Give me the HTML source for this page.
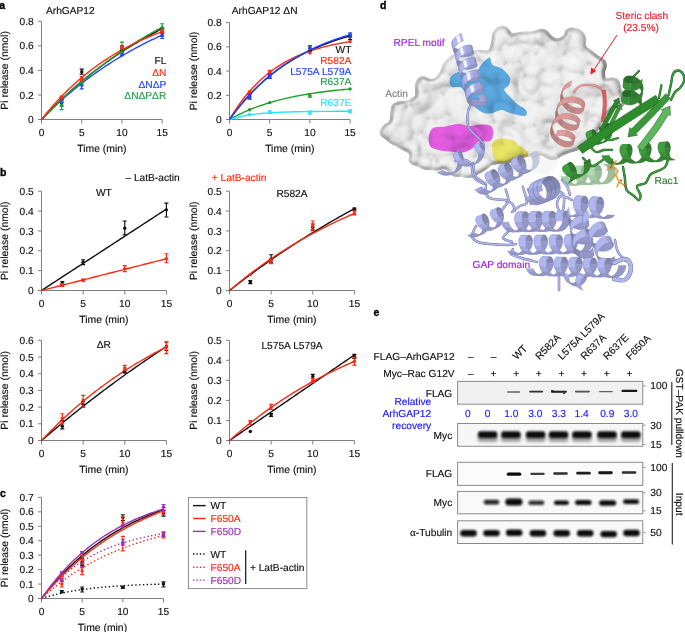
<!DOCTYPE html>
<html><head><meta charset="utf-8"><title>Figure</title>
<style>
html,body{margin:0;padding:0;background:#fff;}
body{width:685px;height:632px;overflow:hidden;}
svg{display:block;}
.t{font-family:"Liberation Sans", Arial, Helvetica, sans-serif;font-size:10.2px;fill:#111;stroke:#111;stroke-width:0.15px;text-rendering:geometricPrecision;}
.tl{font-size:10.4px;}
.pl{font-family:"Liberation Sans", Arial, Helvetica, sans-serif;font-size:10.5px;font-weight:bold;fill:#000;stroke:#000;stroke-width:0.35px;}
</style></head><body>
<svg width="685" height="632" viewBox="0 0 685 632">
<path d="M41.5,21.3 V119.5 H162.2" fill="none" stroke="#7f7f7f" stroke-width="1"/>
<line x1="38" y1="119.5" x2="41.5" y2="119.5" stroke="#7f7f7f" stroke-width="1"/>
<text x="33.7" y="123.1" text-anchor="end" class="t">0</text>
<line x1="38" y1="94.95" x2="41.5" y2="94.95" stroke="#7f7f7f" stroke-width="1"/>
<text x="33.7" y="98.55" text-anchor="end" class="t">0.2</text>
<line x1="38" y1="70.4" x2="41.5" y2="70.4" stroke="#7f7f7f" stroke-width="1"/>
<text x="33.7" y="74" text-anchor="end" class="t">0.4</text>
<line x1="38" y1="45.85" x2="41.5" y2="45.85" stroke="#7f7f7f" stroke-width="1"/>
<text x="33.7" y="49.45" text-anchor="end" class="t">0.6</text>
<line x1="38" y1="21.3" x2="41.5" y2="21.3" stroke="#7f7f7f" stroke-width="1"/>
<text x="33.7" y="24.9" text-anchor="end" class="t">0.8</text>
<line x1="41.5" y1="119.5" x2="41.5" y2="123.5" stroke="#7f7f7f" stroke-width="1"/>
<text x="41.5" y="135.7" text-anchor="middle" class="t">0</text>
<line x1="81.73" y1="119.5" x2="81.73" y2="123.5" stroke="#7f7f7f" stroke-width="1"/>
<text x="81.73" y="135.7" text-anchor="middle" class="t">5</text>
<line x1="121.97" y1="119.5" x2="121.97" y2="123.5" stroke="#7f7f7f" stroke-width="1"/>
<text x="121.97" y="135.7" text-anchor="middle" class="t">10</text>
<line x1="162.2" y1="119.5" x2="162.2" y2="123.5" stroke="#7f7f7f" stroke-width="1"/>
<text x="162.2" y="135.7" text-anchor="middle" class="t">15</text>
<text x="101.85" y="151.5" text-anchor="middle" class="t tl">Time (min)</text>
<text transform="translate(8.4,70.4) rotate(-90)" text-anchor="middle" class="t tl">Pi release (nmol)</text>
<path d="M41.5,119.5 L43.51,117.36 L45.52,115.25 L47.53,113.17 L49.55,111.11 L51.56,109.08 L53.57,107.07 L55.58,105.09 L57.59,103.13 L59.61,101.2 L61.62,99.29 L63.63,97.4 L65.64,95.54 L67.65,93.7 L69.66,91.89 L71.67,90.09 L73.69,88.32 L75.7,86.57 L77.71,84.84 L79.72,83.13 L81.73,81.45 L83.75,79.78 L85.76,78.14 L87.77,76.51 L89.78,74.91 L91.79,73.33 L93.8,71.76 L95.81,70.22 L97.83,68.69 L99.84,67.18 L101.85,65.69 L103.86,64.22 L105.87,62.77 L107.88,61.34 L109.9,59.92 L111.91,58.52 L113.92,57.14 L115.93,55.78 L117.94,54.43 L119.95,53.1 L121.97,51.79 L123.98,50.49 L125.99,49.21 L128,47.94 L130.01,46.69 L132.02,45.46 L134.04,44.24 L136.05,43.03 L138.06,41.84 L140.07,40.67 L142.08,39.51 L144.09,38.36 L146.11,37.23 L148.12,36.11 L150.13,35.01 L152.14,33.92 L154.15,32.84 L156.16,31.78 L158.18,30.73 L160.19,29.69 L162.2,28.66" fill="none" stroke="#111111" stroke-width="1.4"/>
<path d="M41.5,119.5 L43.51,117.44 L45.52,115.41 L47.53,113.41 L49.55,111.43 L51.56,109.49 L53.57,107.56 L55.58,105.67 L57.59,103.8 L59.61,101.96 L61.62,100.14 L63.63,98.35 L65.64,96.58 L67.65,94.84 L69.66,93.12 L71.67,91.42 L73.69,89.75 L75.7,88.1 L77.71,86.48 L79.72,84.87 L81.73,83.29 L83.75,81.73 L85.76,80.19 L87.77,78.67 L89.78,77.18 L91.79,75.7 L93.8,74.24 L95.81,72.81 L97.83,71.39 L99.84,69.99 L101.85,68.62 L103.86,67.26 L105.87,65.92 L107.88,64.6 L109.9,63.3 L111.91,62.01 L113.92,60.74 L115.93,59.49 L117.94,58.26 L119.95,57.04 L121.97,55.85 L123.98,54.66 L125.99,53.5 L128,52.35 L130.01,51.21 L132.02,50.09 L134.04,48.99 L136.05,47.9 L138.06,46.83 L140.07,45.77 L142.08,44.73 L144.09,43.7 L146.11,42.68 L148.12,41.68 L150.13,40.69 L152.14,39.72 L154.15,38.76 L156.16,37.81 L158.18,36.88 L160.19,35.96 L162.2,35.05" fill="none" stroke="#2244ff" stroke-width="1.4"/>
<path d="M41.5,119.5 L43.51,117.38 L45.52,115.29 L47.53,113.22 L49.55,111.17 L51.56,109.15 L53.57,107.15 L55.58,105.18 L57.59,103.22 L59.61,101.29 L61.62,99.38 L63.63,97.49 L65.64,95.63 L67.65,93.78 L69.66,91.96 L71.67,90.16 L73.69,88.37 L75.7,86.61 L77.71,84.87 L79.72,83.15 L81.73,81.45 L83.75,79.76 L85.76,78.1 L87.77,76.46 L89.78,74.83 L91.79,73.23 L93.8,71.64 L95.81,70.07 L97.83,68.51 L99.84,66.98 L101.85,65.46 L103.86,63.96 L105.87,62.48 L107.88,61.01 L109.9,59.57 L111.91,58.13 L113.92,56.72 L115.93,55.32 L117.94,53.93 L119.95,52.57 L121.97,51.21 L123.98,49.88 L125.99,48.56 L128,47.25 L130.01,45.96 L132.02,44.68 L134.04,43.42 L136.05,42.17 L138.06,40.94 L140.07,39.72 L142.08,38.51 L144.09,37.32 L146.11,36.14 L148.12,34.98 L150.13,33.83 L152.14,32.69 L154.15,31.56 L156.16,30.45 L158.18,29.35 L160.19,28.27 L162.2,27.19" fill="none" stroke="#1e9e28" stroke-width="1.4"/>
<path d="M41.5,119.5 L43.51,116.96 L45.52,114.47 L47.53,112.04 L49.55,109.65 L51.56,107.31 L53.57,105.02 L55.58,102.78 L57.59,100.59 L59.61,98.44 L61.62,96.33 L63.63,94.27 L65.64,92.25 L67.65,90.27 L69.66,88.33 L71.67,86.44 L73.69,84.58 L75.7,82.76 L77.71,80.97 L79.72,79.23 L81.73,77.52 L83.75,75.85 L85.76,74.21 L87.77,72.6 L89.78,71.03 L91.79,69.49 L93.8,67.98 L95.81,66.5 L97.83,65.05 L99.84,63.64 L101.85,62.25 L103.86,60.89 L105.87,59.56 L107.88,58.25 L109.9,56.98 L111.91,55.73 L113.92,54.5 L115.93,53.3 L117.94,52.13 L119.95,50.98 L121.97,49.85 L123.98,48.75 L125.99,47.66 L128,46.61 L130.01,45.57 L132.02,44.55 L134.04,43.56 L136.05,42.59 L138.06,41.63 L140.07,40.7 L142.08,39.78 L144.09,38.89 L146.11,38.01 L148.12,37.15 L150.13,36.31 L152.14,35.48 L154.15,34.68 L156.16,33.89 L158.18,33.11 L160.19,32.35 L162.2,31.61" fill="none" stroke="#ff2a14" stroke-width="1.4"/>
<path d="M61.62,99.86 V106 M59.62,99.86 h4 M59.62,106 h4" stroke="#111111" stroke-width="1.15" fill="none"/>
<circle cx="61.62" cy="102.93" r="1.7" fill="#111111"/>
<path d="M81.73,69.17 V74.08 M79.73,69.17 h4 M79.73,74.08 h4" stroke="#111111" stroke-width="1.15" fill="none"/>
<circle cx="81.73" cy="71.63" r="1.7" fill="#111111"/>
<path d="M121.97,45.85 V50.76 M119.97,45.85 h4 M119.97,50.76 h4" stroke="#111111" stroke-width="1.15" fill="none"/>
<circle cx="121.97" cy="48.31" r="1.7" fill="#111111"/>
<path d="M162.2,28.66 V36.03 M160.2,28.66 h4 M160.2,36.03 h4" stroke="#111111" stroke-width="1.15" fill="none"/>
<circle cx="162.2" cy="32.35" r="1.7" fill="#111111"/>
<path d="M61.62,97.41 V102.31 M59.62,97.41 h4 M59.62,102.31 h4" stroke="#2244ff" stroke-width="1.15" fill="none"/>
<circle cx="61.62" cy="99.86" r="1.7" fill="#2244ff"/>
<path d="M81.73,81.45 V88.81 M79.73,81.45 h4 M79.73,88.81 h4" stroke="#2244ff" stroke-width="1.15" fill="none"/>
<circle cx="81.73" cy="85.13" r="1.7" fill="#2244ff"/>
<path d="M121.97,51.99 V55.67 M119.97,51.99 h4 M119.97,55.67 h4" stroke="#2244ff" stroke-width="1.15" fill="none"/>
<circle cx="121.97" cy="53.83" r="1.7" fill="#2244ff"/>
<path d="M162.2,33.58 V38.48 M160.2,33.58 h4 M160.2,38.48 h4" stroke="#2244ff" stroke-width="1.15" fill="none"/>
<circle cx="162.2" cy="35.42" r="1.7" fill="#2244ff"/>
<path d="M61.62,101.09 V109.68 M59.62,101.09 h4 M59.62,109.68 h4" stroke="#1e9e28" stroke-width="1.15" fill="none"/>
<circle cx="61.62" cy="105.38" r="1.7" fill="#1e9e28"/>
<path d="M81.73,78.99 V83.9 M79.73,78.99 h4 M79.73,83.9 h4" stroke="#1e9e28" stroke-width="1.15" fill="none"/>
<circle cx="81.73" cy="81.45" r="1.7" fill="#1e9e28"/>
<path d="M121.97,42.17 V52.6 M119.97,42.17 h4 M119.97,52.6 h4" stroke="#1e9e28" stroke-width="1.15" fill="none"/>
<circle cx="121.97" cy="48.92" r="1.7" fill="#1e9e28"/>
<path d="M162.2,23.75 V31.12 M160.2,23.75 h4 M160.2,31.12 h4" stroke="#1e9e28" stroke-width="1.15" fill="none"/>
<circle cx="162.2" cy="27.44" r="1.7" fill="#1e9e28"/>
<path d="M61.62,96.18 V98.63 M59.62,96.18 h4 M59.62,98.63 h4" stroke="#ff2a14" stroke-width="1.15" fill="none"/>
<circle cx="61.62" cy="97.41" r="1.7" fill="#ff2a14"/>
<path d="M81.73,76.54 V80.22 M79.73,76.54 h4 M79.73,80.22 h4" stroke="#ff2a14" stroke-width="1.15" fill="none"/>
<circle cx="81.73" cy="78.38" r="1.7" fill="#ff2a14"/>
<path d="M121.97,45.85 V49.53 M119.97,45.85 h4 M119.97,49.53 h4" stroke="#ff2a14" stroke-width="1.15" fill="none"/>
<circle cx="121.97" cy="47.69" r="1.7" fill="#ff2a14"/>
<path d="M162.2,29.89 V32.35 M160.2,29.89 h4 M160.2,32.35 h4" stroke="#ff2a14" stroke-width="1.15" fill="none"/>
<circle cx="162.2" cy="31.12" r="1.7" fill="#ff2a14"/>
<path d="M229.5,22.6 V119.5 H350.1" fill="none" stroke="#7f7f7f" stroke-width="1"/>
<line x1="226" y1="119.5" x2="229.5" y2="119.5" stroke="#7f7f7f" stroke-width="1"/>
<text x="221.7" y="123.1" text-anchor="end" class="t">0</text>
<line x1="226" y1="95.28" x2="229.5" y2="95.28" stroke="#7f7f7f" stroke-width="1"/>
<text x="221.7" y="98.88" text-anchor="end" class="t">0.2</text>
<line x1="226" y1="71.05" x2="229.5" y2="71.05" stroke="#7f7f7f" stroke-width="1"/>
<text x="221.7" y="74.65" text-anchor="end" class="t">0.4</text>
<line x1="226" y1="46.83" x2="229.5" y2="46.83" stroke="#7f7f7f" stroke-width="1"/>
<text x="221.7" y="50.43" text-anchor="end" class="t">0.6</text>
<line x1="226" y1="22.6" x2="229.5" y2="22.6" stroke="#7f7f7f" stroke-width="1"/>
<text x="221.7" y="26.2" text-anchor="end" class="t">0.8</text>
<line x1="229.5" y1="119.5" x2="229.5" y2="123.5" stroke="#7f7f7f" stroke-width="1"/>
<text x="229.5" y="135.7" text-anchor="middle" class="t">0</text>
<line x1="269.7" y1="119.5" x2="269.7" y2="123.5" stroke="#7f7f7f" stroke-width="1"/>
<text x="269.7" y="135.7" text-anchor="middle" class="t">5</text>
<line x1="309.9" y1="119.5" x2="309.9" y2="123.5" stroke="#7f7f7f" stroke-width="1"/>
<text x="309.9" y="135.7" text-anchor="middle" class="t">10</text>
<line x1="350.1" y1="119.5" x2="350.1" y2="123.5" stroke="#7f7f7f" stroke-width="1"/>
<text x="350.1" y="135.7" text-anchor="middle" class="t">15</text>
<text x="289.8" y="151.5" text-anchor="middle" class="t tl">Time (min)</text>
<text transform="translate(196.6,71.05) rotate(-90)" text-anchor="middle" class="t tl">Pi release (nmol)</text>
<path d="M229.5,119.5 L231.51,116.71 L233.52,114 L235.53,111.35 L237.54,108.78 L239.55,106.28 L241.56,103.85 L243.57,101.48 L245.58,99.17 L247.59,96.93 L249.6,94.75 L251.61,92.62 L253.62,90.56 L255.63,88.54 L257.64,86.59 L259.65,84.68 L261.66,82.83 L263.67,81.02 L265.68,79.27 L267.69,77.56 L269.7,75.9 L271.71,74.28 L273.72,72.7 L275.73,71.17 L277.74,69.68 L279.75,68.23 L281.76,66.82 L283.77,65.44 L285.78,64.1 L287.79,62.8 L289.8,61.54 L291.81,60.3 L293.82,59.1 L295.83,57.94 L297.84,56.8 L299.85,55.7 L301.86,54.62 L303.87,53.57 L305.88,52.55 L307.89,51.56 L309.9,50.6 L311.91,49.66 L313.92,48.75 L315.93,47.86 L317.94,46.99 L319.95,46.15 L321.96,45.33 L323.97,44.53 L325.98,43.76 L327.99,43 L330,42.27 L332.01,41.55 L334.02,40.86 L336.03,40.18 L338.04,39.52 L340.05,38.88 L342.06,38.26 L344.07,37.65 L346.08,37.06 L348.09,36.48 L350.1,35.92" fill="none" stroke="#111111" stroke-width="1.4"/>
<path d="M229.5,119.5 L231.51,118.38 L233.52,117.3 L235.53,116.25 L237.54,115.23 L239.55,114.25 L241.56,113.29 L243.57,112.37 L245.58,111.47 L247.59,110.6 L249.6,109.76 L251.61,108.95 L253.62,108.16 L255.63,107.39 L257.64,106.65 L259.65,105.93 L261.66,105.24 L263.67,104.56 L265.68,103.91 L267.69,103.28 L269.7,102.66 L271.71,102.07 L273.72,101.49 L275.73,100.94 L277.74,100.4 L279.75,99.87 L281.76,99.37 L283.77,98.88 L285.78,98.4 L287.79,97.94 L289.8,97.49 L291.81,97.06 L293.82,96.64 L295.83,96.23 L297.84,95.84 L299.85,95.46 L301.86,95.09 L303.87,94.73 L305.88,94.39 L307.89,94.05 L309.9,93.72 L311.91,93.41 L313.92,93.1 L315.93,92.81 L317.94,92.52 L319.95,92.24 L321.96,91.97 L323.97,91.71 L325.98,91.46 L327.99,91.21 L330,90.98 L332.01,90.75 L334.02,90.53 L336.03,90.31 L338.04,90.1 L340.05,89.9 L342.06,89.7 L344.07,89.51 L346.08,89.33 L348.09,89.15 L350.1,88.98" fill="none" stroke="#1e9e28" stroke-width="1.4"/>
<path d="M229.5,119.5 L231.51,118.85 L233.52,118.26 L235.53,117.71 L237.54,117.2 L239.55,116.73 L241.56,116.3 L243.57,115.9 L245.58,115.54 L247.59,115.2 L249.6,114.89 L251.61,114.6 L253.62,114.34 L255.63,114.09 L257.64,113.87 L259.65,113.66 L261.66,113.47 L263.67,113.29 L265.68,113.13 L267.69,112.98 L269.7,112.84 L271.71,112.71 L273.72,112.59 L275.73,112.48 L277.74,112.38 L279.75,112.29 L281.76,112.21 L283.77,112.13 L285.78,112.06 L287.79,111.99 L289.8,111.93 L291.81,111.87 L293.82,111.82 L295.83,111.77 L297.84,111.73 L299.85,111.68 L301.86,111.65 L303.87,111.61 L305.88,111.58 L307.89,111.55 L309.9,111.52 L311.91,111.5 L313.92,111.47 L315.93,111.45 L317.94,111.43 L319.95,111.42 L321.96,111.4 L323.97,111.38 L325.98,111.37 L327.99,111.36 L330,111.34 L332.01,111.33 L334.02,111.32 L336.03,111.31 L338.04,111.3 L340.05,111.3 L342.06,111.29 L344.07,111.28 L346.08,111.27 L348.09,111.27 L350.1,111.26" fill="none" stroke="#22e6ff" stroke-width="1.4"/>
<path d="M229.5,119.5 L231.51,116.13 L233.52,112.9 L235.53,109.79 L237.54,106.8 L239.55,103.94 L241.56,101.18 L243.57,98.53 L245.58,95.99 L247.59,93.55 L249.6,91.2 L251.61,88.95 L253.62,86.78 L255.63,84.7 L257.64,82.7 L259.65,80.78 L261.66,78.94 L263.67,77.17 L265.68,75.47 L267.69,73.83 L269.7,72.26 L271.71,70.75 L273.72,69.3 L275.73,67.91 L277.74,66.57 L279.75,65.29 L281.76,64.05 L283.77,62.87 L285.78,61.73 L287.79,60.63 L289.8,59.58 L291.81,58.57 L293.82,57.6 L295.83,56.67 L297.84,55.78 L299.85,54.92 L301.86,54.09 L303.87,53.3 L305.88,52.53 L307.89,51.8 L309.9,51.1 L311.91,50.42 L313.92,49.77 L315.93,49.15 L317.94,48.55 L319.95,47.97 L321.96,47.42 L323.97,46.89 L325.98,46.38 L327.99,45.89 L330,45.42 L332.01,44.97 L334.02,44.53 L336.03,44.11 L338.04,43.71 L340.05,43.33 L342.06,42.96 L344.07,42.6 L346.08,42.26 L348.09,41.93 L350.1,41.62" fill="none" stroke="#ff2a14" stroke-width="1.4"/>
<path d="M229.5,119.5 L231.51,116.74 L233.52,114.04 L235.53,111.42 L237.54,108.87 L239.55,106.38 L241.56,103.95 L243.57,101.59 L245.58,99.29 L247.59,97.05 L249.6,94.86 L251.61,92.74 L253.62,90.66 L255.63,88.64 L257.64,86.68 L259.65,84.76 L261.66,82.89 L263.67,81.07 L265.68,79.3 L267.69,77.58 L269.7,75.9 L271.71,74.26 L273.72,72.66 L275.73,71.11 L277.74,69.59 L279.75,68.12 L281.76,66.68 L283.77,65.28 L285.78,63.91 L287.79,62.58 L289.8,61.29 L291.81,60.03 L293.82,58.8 L295.83,57.6 L297.84,56.43 L299.85,55.3 L301.86,54.19 L303.87,53.11 L305.88,52.06 L307.89,51.04 L309.9,50.04 L311.91,49.07 L313.92,48.12 L315.93,47.2 L317.94,46.3 L319.95,45.43 L321.96,44.58 L323.97,43.75 L325.98,42.94 L327.99,42.15 L330,41.38 L332.01,40.63 L334.02,39.9 L336.03,39.19 L338.04,38.5 L340.05,37.83 L342.06,37.17 L344.07,36.53 L346.08,35.91 L348.09,35.3 L350.1,34.71" fill="none" stroke="#2244ff" stroke-width="1.4"/>
<path d="M249.6,94.06 V98.91 M247.6,94.06 h4 M247.6,98.91 h4" stroke="#111111" stroke-width="1.15" fill="none"/>
<circle cx="249.6" cy="96.49" r="1.7" fill="#111111"/>
<path d="M269.7,73.47 V78.32 M267.7,73.47 h4 M267.7,78.32 h4" stroke="#111111" stroke-width="1.15" fill="none"/>
<circle cx="269.7" cy="75.9" r="1.7" fill="#111111"/>
<path d="M309.9,45.61 V50.46 M307.9,45.61 h4 M307.9,50.46 h4" stroke="#111111" stroke-width="1.15" fill="none"/>
<circle cx="309.9" cy="48.04" r="1.7" fill="#111111"/>
<path d="M350.1,34.71 V39.56 M348.1,34.71 h4 M348.1,39.56 h4" stroke="#111111" stroke-width="1.15" fill="none"/>
<circle cx="350.1" cy="36.53" r="1.7" fill="#111111"/>
<circle cx="249.6" cy="109.81" r="1.7" fill="#1e9e28"/>
<circle cx="269.7" cy="102.66" r="1.7" fill="#1e9e28"/>
<path d="M309.9,93.46 V97.09 M307.9,93.46 h4 M307.9,97.09 h4" stroke="#1e9e28" stroke-width="1.15" fill="none"/>
<circle cx="309.9" cy="95.52" r="1.7" fill="#1e9e28"/>
<circle cx="350.1" cy="88.98" r="1.7" fill="#1e9e28"/>
<circle cx="249.6" cy="114.53" r="1.7" fill="#22e6ff"/>
<path d="M269.7,110.78 V113.44 M267.7,110.78 h4 M267.7,113.44 h4" stroke="#22e6ff" stroke-width="1.15" fill="none"/>
<circle cx="269.7" cy="112.11" r="1.7" fill="#22e6ff"/>
<path d="M309.9,111.02 V114.05 M307.9,111.02 h4 M307.9,114.05 h4" stroke="#22e6ff" stroke-width="1.15" fill="none"/>
<circle cx="309.9" cy="112.6" r="1.7" fill="#22e6ff"/>
<path d="M350.1,109.81 V112.84 M348.1,109.81 h4 M348.1,112.84 h4" stroke="#22e6ff" stroke-width="1.15" fill="none"/>
<circle cx="350.1" cy="111.26" r="1.7" fill="#22e6ff"/>
<path d="M249.6,91.04 V94.06 M247.6,91.04 h4 M247.6,94.06 h4" stroke="#ff2a14" stroke-width="1.15" fill="none"/>
<circle cx="249.6" cy="92.37" r="1.7" fill="#ff2a14"/>
<path d="M269.7,70.44 V74.08 M267.7,70.44 h4 M267.7,74.08 h4" stroke="#ff2a14" stroke-width="1.15" fill="none"/>
<circle cx="269.7" cy="72.26" r="1.7" fill="#ff2a14"/>
<circle cx="309.9" cy="53" r="1.7" fill="#ff2a14"/>
<circle cx="350.1" cy="41.62" r="1.7" fill="#ff2a14"/>
<path d="M249.6,94.67 V98.91 M247.6,94.67 h4 M247.6,98.91 h4" stroke="#2244ff" stroke-width="1.15" fill="none"/>
<circle cx="249.6" cy="96.49" r="1.7" fill="#2244ff"/>
<path d="M269.7,74.68 V78.32 M267.7,74.68 h4 M267.7,78.32 h4" stroke="#2244ff" stroke-width="1.15" fill="none"/>
<circle cx="269.7" cy="76.5" r="1.7" fill="#2244ff"/>
<path d="M309.9,45.61 V51.67 M307.9,45.61 h4 M307.9,51.67 h4" stroke="#2244ff" stroke-width="1.15" fill="none"/>
<circle cx="309.9" cy="48.64" r="1.7" fill="#2244ff"/>
<path d="M350.1,32.9 V37.13 M348.1,32.9 h4 M348.1,37.13 h4" stroke="#2244ff" stroke-width="1.15" fill="none"/>
<circle cx="350.1" cy="34.71" r="1.7" fill="#2244ff"/>
<path d="M41.5,191.2 V290.5 H166.4" fill="none" stroke="#7f7f7f" stroke-width="1"/>
<line x1="38" y1="290.5" x2="41.5" y2="290.5" stroke="#7f7f7f" stroke-width="1"/>
<text x="33.7" y="294.1" text-anchor="end" class="t">0</text>
<line x1="38" y1="270.64" x2="41.5" y2="270.64" stroke="#7f7f7f" stroke-width="1"/>
<text x="33.7" y="274.24" text-anchor="end" class="t">0.1</text>
<line x1="38" y1="250.78" x2="41.5" y2="250.78" stroke="#7f7f7f" stroke-width="1"/>
<text x="33.7" y="254.38" text-anchor="end" class="t">0.2</text>
<line x1="38" y1="230.92" x2="41.5" y2="230.92" stroke="#7f7f7f" stroke-width="1"/>
<text x="33.7" y="234.52" text-anchor="end" class="t">0.3</text>
<line x1="38" y1="211.06" x2="41.5" y2="211.06" stroke="#7f7f7f" stroke-width="1"/>
<text x="33.7" y="214.66" text-anchor="end" class="t">0.4</text>
<line x1="38" y1="191.2" x2="41.5" y2="191.2" stroke="#7f7f7f" stroke-width="1"/>
<text x="33.7" y="194.8" text-anchor="end" class="t">0.5</text>
<line x1="41.5" y1="290.5" x2="41.5" y2="294.5" stroke="#7f7f7f" stroke-width="1"/>
<text x="41.5" y="306.7" text-anchor="middle" class="t">0</text>
<line x1="83.13" y1="290.5" x2="83.13" y2="294.5" stroke="#7f7f7f" stroke-width="1"/>
<text x="83.13" y="306.7" text-anchor="middle" class="t">5</text>
<line x1="124.77" y1="290.5" x2="124.77" y2="294.5" stroke="#7f7f7f" stroke-width="1"/>
<text x="124.77" y="306.7" text-anchor="middle" class="t">10</text>
<line x1="166.4" y1="290.5" x2="166.4" y2="294.5" stroke="#7f7f7f" stroke-width="1"/>
<text x="166.4" y="306.7" text-anchor="middle" class="t">15</text>
<text x="103.95" y="322.5" text-anchor="middle" class="t tl">Time (min)</text>
<text transform="translate(8.4,240.85) rotate(-90)" text-anchor="middle" class="t tl">Pi release (nmol)</text>
<path d="M41.5,290.5 L43.58,289.14 L45.66,287.79 L47.75,286.43 L49.83,285.07 L51.91,283.71 L53.99,282.36 L56.07,281 L58.15,279.64 L60.23,278.29 L62.32,276.93 L64.4,275.57 L66.48,274.21 L68.56,272.86 L70.64,271.5 L72.72,270.14 L74.81,268.79 L76.89,267.43 L78.97,266.07 L81.05,264.72 L83.13,263.36 L85.22,262 L87.3,260.64 L89.38,259.29 L91.46,257.93 L93.54,256.57 L95.62,255.22 L97.71,253.86 L99.79,252.5 L101.87,251.14 L103.95,249.79 L106.03,248.43 L108.11,247.07 L110.19,245.72 L112.28,244.36 L114.36,243 L116.44,241.64 L118.52,240.29 L120.6,238.93 L122.69,237.57 L124.77,236.22 L126.85,234.86 L128.93,233.5 L131.01,232.14 L133.09,230.79 L135.18,229.43 L137.26,228.07 L139.34,226.72 L141.42,225.36 L143.5,224 L145.58,222.64 L147.67,221.29 L149.75,219.93 L151.83,218.57 L153.91,217.22 L155.99,215.86 L158.07,214.5 L160.16,213.15 L162.24,211.79 L164.32,210.43 L166.4,209.07" fill="none" stroke="#111111" stroke-width="1.4"/>
<path d="M41.5,290.5 L43.58,289.97 L45.66,289.44 L47.75,288.91 L49.83,288.38 L51.91,287.85 L53.99,287.32 L56.07,286.79 L58.15,286.26 L60.23,285.73 L62.32,285.2 L64.4,284.67 L66.48,284.14 L68.56,283.62 L70.64,283.09 L72.72,282.56 L74.81,282.03 L76.89,281.5 L78.97,280.97 L81.05,280.44 L83.13,279.91 L85.22,279.38 L87.3,278.85 L89.38,278.32 L91.46,277.79 L93.54,277.26 L95.62,276.73 L97.71,276.2 L99.79,275.67 L101.87,275.14 L103.95,274.61 L106.03,274.08 L108.11,273.55 L110.19,273.02 L112.28,272.49 L114.36,271.96 L116.44,271.43 L118.52,270.9 L120.6,270.38 L122.69,269.85 L124.77,269.32 L126.85,268.79 L128.93,268.26 L131.01,267.73 L133.09,267.2 L135.18,266.67 L137.26,266.14 L139.34,265.61 L141.42,265.08 L143.5,264.55 L145.58,264.02 L147.67,263.49 L149.75,262.96 L151.83,262.43 L153.91,261.9 L155.99,261.37 L158.07,260.84 L160.16,260.31 L162.24,259.78 L164.32,259.25 L166.4,258.72" fill="none" stroke="#ff2a14" stroke-width="1.4"/>
<path d="M62.32,281.56 V284.54 M60.32,281.56 h4 M60.32,284.54 h4" stroke="#111111" stroke-width="1.15" fill="none"/>
<circle cx="62.32" cy="283.15" r="1.7" fill="#111111"/>
<path d="M83.13,259.72 V264.68 M81.13,259.72 h4 M81.13,264.68 h4" stroke="#111111" stroke-width="1.15" fill="none"/>
<circle cx="83.13" cy="262.3" r="1.7" fill="#111111"/>
<path d="M124.77,220.99 V234.89 M122.77,220.99 h4 M122.77,234.89 h4" stroke="#111111" stroke-width="1.15" fill="none"/>
<circle cx="124.77" cy="228.14" r="1.7" fill="#111111"/>
<path d="M166.4,203.12 V217.02 M164.4,203.12 h4 M164.4,217.02 h4" stroke="#111111" stroke-width="1.15" fill="none"/>
<circle cx="166.4" cy="209.87" r="1.7" fill="#111111"/>
<path d="M62.32,283.55 V286.53 M60.32,283.55 h4 M60.32,286.53 h4" stroke="#ff2a14" stroke-width="1.15" fill="none"/>
<circle cx="62.32" cy="284.94" r="1.7" fill="#ff2a14"/>
<path d="M83.13,279.18 V281.17 M81.13,279.18 h4 M81.13,281.17 h4" stroke="#ff2a14" stroke-width="1.15" fill="none"/>
<circle cx="83.13" cy="280.17" r="1.7" fill="#ff2a14"/>
<path d="M124.77,265.68 V271.63 M122.77,265.68 h4 M122.77,271.63 h4" stroke="#ff2a14" stroke-width="1.15" fill="none"/>
<circle cx="124.77" cy="268.65" r="1.7" fill="#ff2a14"/>
<path d="M166.4,253.76 V262.7 M164.4,253.76 h4 M164.4,262.7 h4" stroke="#ff2a14" stroke-width="1.15" fill="none"/>
<circle cx="166.4" cy="258.72" r="1.7" fill="#ff2a14"/>
<path d="M229.5,191.2 V290.5 H354.4" fill="none" stroke="#7f7f7f" stroke-width="1"/>
<line x1="226" y1="290.5" x2="229.5" y2="290.5" stroke="#7f7f7f" stroke-width="1"/>
<text x="221.7" y="294.1" text-anchor="end" class="t">0</text>
<line x1="226" y1="270.64" x2="229.5" y2="270.64" stroke="#7f7f7f" stroke-width="1"/>
<text x="221.7" y="274.24" text-anchor="end" class="t">0.1</text>
<line x1="226" y1="250.78" x2="229.5" y2="250.78" stroke="#7f7f7f" stroke-width="1"/>
<text x="221.7" y="254.38" text-anchor="end" class="t">0.2</text>
<line x1="226" y1="230.92" x2="229.5" y2="230.92" stroke="#7f7f7f" stroke-width="1"/>
<text x="221.7" y="234.52" text-anchor="end" class="t">0.3</text>
<line x1="226" y1="211.06" x2="229.5" y2="211.06" stroke="#7f7f7f" stroke-width="1"/>
<text x="221.7" y="214.66" text-anchor="end" class="t">0.4</text>
<line x1="226" y1="191.2" x2="229.5" y2="191.2" stroke="#7f7f7f" stroke-width="1"/>
<text x="221.7" y="194.8" text-anchor="end" class="t">0.5</text>
<line x1="229.5" y1="290.5" x2="229.5" y2="294.5" stroke="#7f7f7f" stroke-width="1"/>
<text x="229.5" y="306.7" text-anchor="middle" class="t">0</text>
<line x1="271.13" y1="290.5" x2="271.13" y2="294.5" stroke="#7f7f7f" stroke-width="1"/>
<text x="271.13" y="306.7" text-anchor="middle" class="t">5</text>
<line x1="312.77" y1="290.5" x2="312.77" y2="294.5" stroke="#7f7f7f" stroke-width="1"/>
<text x="312.77" y="306.7" text-anchor="middle" class="t">10</text>
<line x1="354.4" y1="290.5" x2="354.4" y2="294.5" stroke="#7f7f7f" stroke-width="1"/>
<text x="354.4" y="306.7" text-anchor="middle" class="t">15</text>
<text x="291.95" y="322.5" text-anchor="middle" class="t tl">Time (min)</text>
<text transform="translate(196.6,240.85) rotate(-90)" text-anchor="middle" class="t tl">Pi release (nmol)</text>
<path d="M229.5,290.5 L231.58,288.87 L233.66,287.24 L235.75,285.63 L237.83,284.03 L239.91,282.44 L241.99,280.85 L244.07,279.28 L246.15,277.72 L248.24,276.17 L250.32,274.62 L252.4,273.09 L254.48,271.57 L256.56,270.05 L258.64,268.55 L260.72,267.05 L262.81,265.57 L264.89,264.09 L266.97,262.62 L269.05,261.17 L271.13,259.72 L273.21,258.28 L275.3,256.85 L277.38,255.43 L279.46,254.01 L281.54,252.61 L283.62,251.22 L285.7,249.83 L287.79,248.45 L289.87,247.08 L291.95,245.72 L294.03,244.37 L296.11,243.03 L298.19,241.7 L300.28,240.37 L302.36,239.05 L304.44,237.74 L306.52,236.44 L308.6,235.15 L310.69,233.86 L312.77,232.59 L314.85,231.32 L316.93,230.06 L319.01,228.81 L321.09,227.56 L323.17,226.32 L325.26,225.09 L327.34,223.87 L329.42,222.66 L331.5,221.45 L333.58,220.25 L335.66,219.06 L337.75,217.88 L339.83,216.7 L341.91,215.54 L343.99,214.37 L346.07,213.22 L348.15,212.07 L350.24,210.93 L352.32,209.8 L354.4,208.68" fill="none" stroke="#111111" stroke-width="1.4"/>
<path d="M229.5,290.5 L231.58,288.73 L233.66,286.98 L235.75,285.25 L237.83,283.55 L239.91,281.86 L241.99,280.19 L244.07,278.54 L246.15,276.91 L248.24,275.29 L250.32,273.7 L252.4,272.12 L254.48,270.56 L256.56,269.02 L258.64,267.5 L260.72,266 L262.81,264.51 L264.89,263.04 L266.97,261.58 L269.05,260.14 L271.13,258.72 L273.21,257.32 L275.3,255.93 L277.38,254.56 L279.46,253.2 L281.54,251.86 L283.62,250.53 L285.7,249.22 L287.79,247.93 L289.87,246.65 L291.95,245.38 L294.03,244.13 L296.11,242.89 L298.19,241.67 L300.28,240.46 L302.36,239.26 L304.44,238.08 L306.52,236.91 L308.6,235.76 L310.69,234.62 L312.77,233.49 L314.85,232.37 L316.93,231.27 L319.01,230.18 L321.09,229.1 L323.17,228.04 L325.26,226.98 L327.34,225.94 L329.42,224.91 L331.5,223.89 L333.58,222.89 L335.66,221.89 L337.75,220.91 L339.83,219.94 L341.91,218.98 L343.99,218.03 L346.07,217.09 L348.15,216.16 L350.24,215.25 L352.32,214.34 L354.4,213.44" fill="none" stroke="#ff2a14" stroke-width="1.4"/>
<path d="M250.32,280.57 V283.55 M248.32,280.57 h4 M248.32,283.55 h4" stroke="#111111" stroke-width="1.15" fill="none"/>
<circle cx="250.32" cy="281.96" r="1.7" fill="#111111"/>
<path d="M271.13,254.75 V262.7 M269.13,254.75 h4 M269.13,262.7 h4" stroke="#111111" stroke-width="1.15" fill="none"/>
<circle cx="271.13" cy="259.32" r="1.7" fill="#111111"/>
<path d="M312.77,223.97 V229.93 M310.77,223.97 h4 M310.77,229.93 h4" stroke="#111111" stroke-width="1.15" fill="none"/>
<circle cx="312.77" cy="227.15" r="1.7" fill="#111111"/>
<path d="M354.4,208.08 V210.07 M352.4,208.08 h4 M352.4,210.07 h4" stroke="#111111" stroke-width="1.15" fill="none"/>
<circle cx="354.4" cy="209.07" r="1.7" fill="#111111"/>
<circle cx="250.32" cy="274.61" r="1.7" fill="#ff2a14"/>
<path d="M271.13,258.72 V263.69 M269.13,258.72 h4 M269.13,263.69 h4" stroke="#ff2a14" stroke-width="1.15" fill="none"/>
<circle cx="271.13" cy="260.71" r="1.7" fill="#ff2a14"/>
<path d="M312.77,220.99 V230.92 M310.77,220.99 h4 M310.77,230.92 h4" stroke="#ff2a14" stroke-width="1.15" fill="none"/>
<circle cx="312.77" cy="225.76" r="1.7" fill="#ff2a14"/>
<path d="M354.4,211.06 V215.03 M352.4,211.06 h4 M352.4,215.03 h4" stroke="#ff2a14" stroke-width="1.15" fill="none"/>
<circle cx="354.4" cy="213.44" r="1.7" fill="#ff2a14"/>
<path d="M41.5,340.3 V440.5 H166.4" fill="none" stroke="#7f7f7f" stroke-width="1"/>
<line x1="38" y1="440.5" x2="41.5" y2="440.5" stroke="#7f7f7f" stroke-width="1"/>
<text x="33.7" y="444.1" text-anchor="end" class="t">0</text>
<line x1="38" y1="423.8" x2="41.5" y2="423.8" stroke="#7f7f7f" stroke-width="1"/>
<text x="33.7" y="427.4" text-anchor="end" class="t">0.1</text>
<line x1="38" y1="407.1" x2="41.5" y2="407.1" stroke="#7f7f7f" stroke-width="1"/>
<text x="33.7" y="410.7" text-anchor="end" class="t">0.2</text>
<line x1="38" y1="390.4" x2="41.5" y2="390.4" stroke="#7f7f7f" stroke-width="1"/>
<text x="33.7" y="394" text-anchor="end" class="t">0.3</text>
<line x1="38" y1="373.7" x2="41.5" y2="373.7" stroke="#7f7f7f" stroke-width="1"/>
<text x="33.7" y="377.3" text-anchor="end" class="t">0.4</text>
<line x1="38" y1="357" x2="41.5" y2="357" stroke="#7f7f7f" stroke-width="1"/>
<text x="33.7" y="360.6" text-anchor="end" class="t">0.5</text>
<line x1="38" y1="340.3" x2="41.5" y2="340.3" stroke="#7f7f7f" stroke-width="1"/>
<text x="33.7" y="343.9" text-anchor="end" class="t">0.6</text>
<line x1="41.5" y1="440.5" x2="41.5" y2="444.5" stroke="#7f7f7f" stroke-width="1"/>
<text x="41.5" y="456.7" text-anchor="middle" class="t">0</text>
<line x1="83.13" y1="440.5" x2="83.13" y2="444.5" stroke="#7f7f7f" stroke-width="1"/>
<text x="83.13" y="456.7" text-anchor="middle" class="t">5</text>
<line x1="124.77" y1="440.5" x2="124.77" y2="444.5" stroke="#7f7f7f" stroke-width="1"/>
<text x="124.77" y="456.7" text-anchor="middle" class="t">10</text>
<line x1="166.4" y1="440.5" x2="166.4" y2="444.5" stroke="#7f7f7f" stroke-width="1"/>
<text x="166.4" y="456.7" text-anchor="middle" class="t">15</text>
<text x="103.95" y="472.5" text-anchor="middle" class="t tl">Time (min)</text>
<text transform="translate(8.4,390.4) rotate(-90)" text-anchor="middle" class="t tl">Pi release (nmol)</text>
<path d="M41.5,440.5 L43.58,438.71 L45.66,436.93 L47.75,435.16 L49.83,433.4 L51.91,431.65 L53.99,429.9 L56.07,428.16 L58.15,426.43 L60.23,424.71 L62.32,422.99 L64.4,421.29 L66.48,419.59 L68.56,417.89 L70.64,416.21 L72.72,414.53 L74.81,412.86 L76.89,411.2 L78.97,409.55 L81.05,407.9 L83.13,406.26 L85.22,404.63 L87.3,403.01 L89.38,401.39 L91.46,399.78 L93.54,398.18 L95.62,396.59 L97.71,395 L99.79,393.42 L101.87,391.85 L103.95,390.28 L106.03,388.72 L108.11,387.17 L110.19,385.63 L112.28,384.09 L114.36,382.56 L116.44,381.04 L118.52,379.52 L120.6,378.01 L122.69,376.51 L124.77,375.01 L126.85,373.52 L128.93,372.04 L131.01,370.56 L133.09,369.09 L135.18,367.63 L137.26,366.18 L139.34,364.73 L141.42,363.29 L143.5,361.85 L145.58,360.42 L147.67,359 L149.75,357.58 L151.83,356.17 L153.91,354.77 L155.99,353.37 L158.07,351.98 L160.16,350.59 L162.24,349.22 L164.32,347.84 L166.4,346.48" fill="none" stroke="#111111" stroke-width="1.4"/>
<path d="M41.5,440.5 L43.58,438.29 L45.66,436.12 L47.75,433.97 L49.83,431.84 L51.91,429.75 L53.99,427.68 L56.07,425.63 L58.15,423.61 L60.23,421.62 L62.32,419.65 L64.4,417.7 L66.48,415.78 L68.56,413.88 L70.64,412.01 L72.72,410.16 L74.81,408.34 L76.89,406.53 L78.97,404.75 L81.05,402.99 L83.13,401.25 L85.22,399.54 L87.3,397.85 L89.38,396.17 L91.46,394.52 L93.54,392.89 L95.62,391.28 L97.71,389.69 L99.79,388.12 L101.87,386.57 L103.95,385.03 L106.03,383.52 L108.11,382.03 L110.19,380.55 L112.28,379.09 L114.36,377.66 L116.44,376.24 L118.52,374.83 L120.6,373.45 L122.69,372.08 L124.77,370.73 L126.85,369.39 L128.93,368.08 L131.01,366.77 L133.09,365.49 L135.18,364.22 L137.26,362.97 L139.34,361.73 L141.42,360.51 L143.5,359.3 L145.58,358.11 L147.67,356.93 L149.75,355.77 L151.83,354.62 L153.91,353.49 L155.99,352.37 L158.07,351.26 L160.16,350.17 L162.24,349.1 L164.32,348.03 L166.4,346.98" fill="none" stroke="#ff2a14" stroke-width="1.4"/>
<path d="M62.32,420.46 V428.81 M60.32,420.46 h4 M60.32,428.81 h4" stroke="#111111" stroke-width="1.15" fill="none"/>
<circle cx="62.32" cy="426.31" r="1.7" fill="#111111"/>
<path d="M83.13,401.25 V407.1 M81.13,401.25 h4 M81.13,407.1 h4" stroke="#111111" stroke-width="1.15" fill="none"/>
<circle cx="83.13" cy="404.26" r="1.7" fill="#111111"/>
<path d="M124.77,370.36 V372.87 M122.77,370.36 h4 M122.77,372.87 h4" stroke="#111111" stroke-width="1.15" fill="none"/>
<circle cx="124.77" cy="371.7" r="1.7" fill="#111111"/>
<path d="M166.4,341.97 V350.32 M164.4,341.97 h4 M164.4,350.32 h4" stroke="#111111" stroke-width="1.15" fill="none"/>
<circle cx="166.4" cy="346.48" r="1.7" fill="#111111"/>
<path d="M62.32,413.78 V423.8 M60.32,413.78 h4 M60.32,423.8 h4" stroke="#ff2a14" stroke-width="1.15" fill="none"/>
<circle cx="62.32" cy="418.29" r="1.7" fill="#ff2a14"/>
<path d="M83.13,395.41 V407.1 M81.13,395.41 h4 M81.13,407.1 h4" stroke="#ff2a14" stroke-width="1.15" fill="none"/>
<circle cx="83.13" cy="400.09" r="1.7" fill="#ff2a14"/>
<path d="M124.77,365.35 V370.36 M122.77,365.35 h4 M122.77,370.36 h4" stroke="#ff2a14" stroke-width="1.15" fill="none"/>
<circle cx="124.77" cy="368.02" r="1.7" fill="#ff2a14"/>
<path d="M166.4,341.97 V353.66 M164.4,341.97 h4 M164.4,353.66 h4" stroke="#ff2a14" stroke-width="1.15" fill="none"/>
<circle cx="166.4" cy="346.98" r="1.7" fill="#ff2a14"/>
<path d="M229.5,340.3 V440.5 H354.4" fill="none" stroke="#7f7f7f" stroke-width="1"/>
<line x1="226" y1="440.5" x2="229.5" y2="440.5" stroke="#7f7f7f" stroke-width="1"/>
<text x="221.7" y="444.1" text-anchor="end" class="t">0</text>
<line x1="226" y1="420.46" x2="229.5" y2="420.46" stroke="#7f7f7f" stroke-width="1"/>
<text x="221.7" y="424.06" text-anchor="end" class="t">0.1</text>
<line x1="226" y1="400.42" x2="229.5" y2="400.42" stroke="#7f7f7f" stroke-width="1"/>
<text x="221.7" y="404.02" text-anchor="end" class="t">0.2</text>
<line x1="226" y1="380.38" x2="229.5" y2="380.38" stroke="#7f7f7f" stroke-width="1"/>
<text x="221.7" y="383.98" text-anchor="end" class="t">0.3</text>
<line x1="226" y1="360.34" x2="229.5" y2="360.34" stroke="#7f7f7f" stroke-width="1"/>
<text x="221.7" y="363.94" text-anchor="end" class="t">0.4</text>
<line x1="226" y1="340.3" x2="229.5" y2="340.3" stroke="#7f7f7f" stroke-width="1"/>
<text x="221.7" y="343.9" text-anchor="end" class="t">0.5</text>
<line x1="229.5" y1="440.5" x2="229.5" y2="444.5" stroke="#7f7f7f" stroke-width="1"/>
<text x="229.5" y="456.7" text-anchor="middle" class="t">0</text>
<line x1="271.13" y1="440.5" x2="271.13" y2="444.5" stroke="#7f7f7f" stroke-width="1"/>
<text x="271.13" y="456.7" text-anchor="middle" class="t">5</text>
<line x1="312.77" y1="440.5" x2="312.77" y2="444.5" stroke="#7f7f7f" stroke-width="1"/>
<text x="312.77" y="456.7" text-anchor="middle" class="t">10</text>
<line x1="354.4" y1="440.5" x2="354.4" y2="444.5" stroke="#7f7f7f" stroke-width="1"/>
<text x="354.4" y="456.7" text-anchor="middle" class="t">15</text>
<text x="291.95" y="472.5" text-anchor="middle" class="t tl">Time (min)</text>
<text transform="translate(196.6,390.4) rotate(-90)" text-anchor="middle" class="t tl">Pi release (nmol)</text>
<path d="M229.5,440.5 L231.58,439.07 L233.66,437.65 L235.75,436.22 L237.83,434.8 L239.91,433.37 L241.99,431.94 L244.07,430.52 L246.15,429.09 L248.24,427.66 L250.32,426.24 L252.4,424.81 L254.48,423.39 L256.56,421.96 L258.64,420.53 L260.72,419.11 L262.81,417.68 L264.89,416.25 L266.97,414.83 L269.05,413.4 L271.13,411.98 L273.21,410.55 L275.3,409.12 L277.38,407.7 L279.46,406.27 L281.54,404.85 L283.62,403.42 L285.7,401.99 L287.79,400.57 L289.87,399.14 L291.95,397.71 L294.03,396.29 L296.11,394.86 L298.19,393.44 L300.28,392.01 L302.36,390.58 L304.44,389.16 L306.52,387.73 L308.6,386.31 L310.69,384.88 L312.77,383.45 L314.85,382.03 L316.93,380.6 L319.01,379.17 L321.09,377.75 L323.17,376.32 L325.26,374.9 L327.34,373.47 L329.42,372.04 L331.5,370.62 L333.58,369.19 L335.66,367.76 L337.75,366.34 L339.83,364.91 L341.91,363.49 L343.99,362.06 L346.07,360.63 L348.15,359.21 L350.24,357.78 L352.32,356.36 L354.4,354.93" fill="none" stroke="#111111" stroke-width="1.4"/>
<path d="M229.5,440.5 L231.58,438.65 L233.66,436.82 L235.75,435.01 L237.83,433.22 L239.91,431.46 L241.99,429.71 L244.07,427.99 L246.15,426.29 L248.24,424.61 L250.32,422.95 L252.4,421.31 L254.48,419.69 L256.56,418.1 L258.64,416.52 L260.72,414.96 L262.81,413.41 L264.89,411.89 L266.97,410.39 L269.05,408.9 L271.13,407.43 L273.21,405.98 L275.3,404.55 L277.38,403.14 L279.46,401.74 L281.54,400.36 L283.62,399 L285.7,397.65 L287.79,396.32 L289.87,395.01 L291.95,393.71 L294.03,392.43 L296.11,391.16 L298.19,389.91 L300.28,388.67 L302.36,387.45 L304.44,386.25 L306.52,385.06 L308.6,383.88 L310.69,382.72 L312.77,381.57 L314.85,380.44 L316.93,379.32 L319.01,378.21 L321.09,377.12 L323.17,376.04 L325.26,374.97 L327.34,373.92 L329.42,372.88 L331.5,371.85 L333.58,370.84 L335.66,369.83 L337.75,368.84 L339.83,367.86 L341.91,366.9 L343.99,365.94 L346.07,365 L348.15,364.07 L350.24,363.15 L352.32,362.24 L354.4,361.34" fill="none" stroke="#ff2a14" stroke-width="1.4"/>
<circle cx="250.32" cy="431.48" r="1.7" fill="#111111"/>
<path d="M271.13,413.45 V416.45 M269.13,413.45 h4 M269.13,416.45 h4" stroke="#111111" stroke-width="1.15" fill="none"/>
<circle cx="271.13" cy="414.85" r="1.7" fill="#111111"/>
<path d="M312.77,374.37 V382.38 M310.77,374.37 h4 M310.77,382.38 h4" stroke="#111111" stroke-width="1.15" fill="none"/>
<circle cx="312.77" cy="376.57" r="1.7" fill="#111111"/>
<path d="M354.4,354.33 V358.34 M352.4,354.33 h4 M352.4,358.34 h4" stroke="#111111" stroke-width="1.15" fill="none"/>
<circle cx="354.4" cy="356.33" r="1.7" fill="#111111"/>
<path d="M250.32,420.46 V424.47 M248.32,420.46 h4 M248.32,424.47 h4" stroke="#ff2a14" stroke-width="1.15" fill="none"/>
<circle cx="250.32" cy="422.06" r="1.7" fill="#ff2a14"/>
<path d="M271.13,404.43 V409.44 M269.13,404.43 h4 M269.13,409.44 h4" stroke="#ff2a14" stroke-width="1.15" fill="none"/>
<circle cx="271.13" cy="406.83" r="1.7" fill="#ff2a14"/>
<path d="M312.77,378.38 V382.38 M310.77,378.38 h4 M310.77,382.38 h4" stroke="#ff2a14" stroke-width="1.15" fill="none"/>
<circle cx="312.77" cy="380.38" r="1.7" fill="#ff2a14"/>
<path d="M354.4,357.33 V365.35 M352.4,357.33 h4 M352.4,365.35 h4" stroke="#ff2a14" stroke-width="1.15" fill="none"/>
<circle cx="354.4" cy="361.34" r="1.7" fill="#ff2a14"/>
<path d="M41.5,497.4 V598.5 H163.5" fill="none" stroke="#7f7f7f" stroke-width="1"/>
<line x1="38" y1="598.5" x2="41.5" y2="598.5" stroke="#7f7f7f" stroke-width="1"/>
<text x="33.7" y="602.1" text-anchor="end" class="t">0</text>
<line x1="38" y1="584.06" x2="41.5" y2="584.06" stroke="#7f7f7f" stroke-width="1"/>
<text x="33.7" y="587.66" text-anchor="end" class="t">0.1</text>
<line x1="38" y1="569.61" x2="41.5" y2="569.61" stroke="#7f7f7f" stroke-width="1"/>
<text x="33.7" y="573.21" text-anchor="end" class="t">0.2</text>
<line x1="38" y1="555.17" x2="41.5" y2="555.17" stroke="#7f7f7f" stroke-width="1"/>
<text x="33.7" y="558.77" text-anchor="end" class="t">0.3</text>
<line x1="38" y1="540.73" x2="41.5" y2="540.73" stroke="#7f7f7f" stroke-width="1"/>
<text x="33.7" y="544.33" text-anchor="end" class="t">0.4</text>
<line x1="38" y1="526.29" x2="41.5" y2="526.29" stroke="#7f7f7f" stroke-width="1"/>
<text x="33.7" y="529.89" text-anchor="end" class="t">0.5</text>
<line x1="38" y1="511.84" x2="41.5" y2="511.84" stroke="#7f7f7f" stroke-width="1"/>
<text x="33.7" y="515.44" text-anchor="end" class="t">0.6</text>
<line x1="38" y1="497.4" x2="41.5" y2="497.4" stroke="#7f7f7f" stroke-width="1"/>
<text x="33.7" y="501" text-anchor="end" class="t">0.7</text>
<line x1="41.5" y1="598.5" x2="41.5" y2="602.5" stroke="#7f7f7f" stroke-width="1"/>
<text x="41.5" y="614.7" text-anchor="middle" class="t">0</text>
<line x1="82.17" y1="598.5" x2="82.17" y2="602.5" stroke="#7f7f7f" stroke-width="1"/>
<text x="82.17" y="614.7" text-anchor="middle" class="t">5</text>
<line x1="122.83" y1="598.5" x2="122.83" y2="602.5" stroke="#7f7f7f" stroke-width="1"/>
<text x="122.83" y="614.7" text-anchor="middle" class="t">10</text>
<line x1="163.5" y1="598.5" x2="163.5" y2="602.5" stroke="#7f7f7f" stroke-width="1"/>
<text x="163.5" y="614.7" text-anchor="middle" class="t">15</text>
<text x="102.5" y="630.5" text-anchor="middle" class="t tl">Time (min)</text>
<text transform="translate(8.4,547.95) rotate(-90)" text-anchor="middle" class="t tl">Pi release (nmol)</text>
<path d="M41.5,598.5 L43.53,597.85 L45.57,597.23 L47.6,596.63 L49.63,596.06 L51.67,595.51 L53.7,594.98 L55.73,594.48 L57.77,594 L59.8,593.53 L61.83,593.09 L63.87,592.66 L65.9,592.26 L67.93,591.86 L69.97,591.49 L72,591.13 L74.03,590.79 L76.07,590.46 L78.1,590.14 L80.13,589.84 L82.17,589.55 L84.2,589.27 L86.23,589 L88.27,588.74 L90.3,588.5 L92.33,588.26 L94.37,588.04 L96.4,587.82 L98.43,587.61 L100.47,587.41 L102.5,587.22 L104.53,587.04 L106.57,586.87 L108.6,586.7 L110.63,586.54 L112.67,586.38 L114.7,586.24 L116.73,586.1 L118.77,585.96 L120.8,585.83 L122.83,585.7 L124.87,585.59 L126.9,585.47 L128.93,585.36 L130.97,585.26 L133,585.15 L135.03,585.06 L137.07,584.96 L139.1,584.88 L141.13,584.79 L143.17,584.71 L145.2,584.63 L147.23,584.56 L149.27,584.48 L151.3,584.41 L153.33,584.35 L155.37,584.29 L157.4,584.22 L159.43,584.17 L161.47,584.11 L163.5,584.06" fill="none" stroke="#111111" stroke-width="1.4" stroke-dasharray="1.4 2.4"/>
<path d="M41.5,598.5 L43.53,596.63 L45.57,594.8 L47.6,593 L49.63,591.25 L51.67,589.54 L53.7,587.86 L55.73,586.22 L57.77,584.61 L59.8,583.04 L61.83,581.51 L63.87,580.01 L65.9,578.54 L67.93,577.1 L69.97,575.69 L72,574.32 L74.03,572.97 L76.07,571.66 L78.1,570.37 L80.13,569.11 L82.17,567.88 L84.2,566.68 L86.23,565.5 L88.27,564.35 L90.3,563.22 L92.33,562.12 L94.37,561.04 L96.4,559.98 L98.43,558.95 L100.47,557.94 L102.5,556.95 L104.53,555.99 L106.57,555.04 L108.6,554.12 L110.63,553.22 L112.67,552.33 L114.7,551.47 L116.73,550.62 L118.77,549.79 L120.8,548.98 L122.83,548.19 L124.87,547.42 L126.9,546.66 L128.93,545.92 L130.97,545.19 L133,544.48 L135.03,543.79 L137.07,543.11 L139.1,542.45 L141.13,541.8 L143.17,541.16 L145.2,540.54 L147.23,539.94 L149.27,539.34 L151.3,538.76 L153.33,538.19 L155.37,537.64 L157.4,537.09 L159.43,536.56 L161.47,536.04 L163.5,535.53" fill="none" stroke="#ff2a14" stroke-width="1.4" stroke-dasharray="1.4 2.4"/>
<path d="M41.5,598.5 L43.53,595.97 L45.57,593.52 L47.6,591.16 L49.63,588.88 L51.67,586.68 L53.7,584.55 L55.73,582.5 L57.77,580.51 L59.8,578.59 L61.83,576.74 L63.87,574.96 L65.9,573.23 L67.93,571.56 L69.97,569.95 L72,568.4 L74.03,566.89 L76.07,565.44 L78.1,564.04 L80.13,562.69 L82.17,561.38 L84.2,560.12 L86.23,558.9 L88.27,557.72 L90.3,556.59 L92.33,555.49 L94.37,554.43 L96.4,553.4 L98.43,552.41 L100.47,551.46 L102.5,550.54 L104.53,549.64 L106.57,548.78 L108.6,547.95 L110.63,547.15 L112.67,546.37 L114.7,545.62 L116.73,544.9 L118.77,544.2 L120.8,543.53 L122.83,542.88 L124.87,542.25 L126.9,541.64 L128.93,541.05 L130.97,540.49 L133,539.94 L135.03,539.41 L137.07,538.9 L139.1,538.41 L141.13,537.93 L143.17,537.47 L145.2,537.03 L147.23,536.6 L149.27,536.18 L151.3,535.78 L153.33,535.39 L155.37,535.02 L157.4,534.66 L159.43,534.31 L161.47,533.98 L163.5,533.65" fill="none" stroke="#9a2fb4" stroke-width="1.4" stroke-dasharray="1.4 2.4"/>
<path d="M41.5,598.5 L43.53,595.89 L45.57,593.33 L47.6,590.83 L49.63,588.38 L51.67,585.98 L53.7,583.64 L55.73,581.34 L57.77,579.09 L59.8,576.9 L61.83,574.75 L63.87,572.64 L65.9,570.58 L67.93,568.56 L69.97,566.59 L72,564.66 L74.03,562.77 L76.07,560.92 L78.1,559.11 L80.13,557.34 L82.17,555.6 L84.2,553.91 L86.23,552.25 L88.27,550.62 L90.3,549.03 L92.33,547.48 L94.37,545.95 L96.4,544.46 L98.43,543.01 L100.47,541.58 L102.5,540.18 L104.53,538.82 L106.57,537.48 L108.6,536.17 L110.63,534.89 L112.67,533.63 L114.7,532.41 L116.73,531.21 L118.77,530.03 L120.8,528.88 L122.83,527.76 L124.87,526.65 L126.9,525.58 L128.93,524.52 L130.97,523.49 L133,522.48 L135.03,521.49 L137.07,520.52 L139.1,519.58 L141.13,518.65 L143.17,517.74 L145.2,516.86 L147.23,515.99 L149.27,515.14 L151.3,514.31 L153.33,513.49 L155.37,512.7 L157.4,511.92 L159.43,511.15 L161.47,510.41 L163.5,509.68" fill="none" stroke="#111111" stroke-width="1.4"/>
<path d="M41.5,598.5 L43.53,596.05 L45.57,593.64 L47.6,591.29 L49.63,588.97 L51.67,586.71 L53.7,584.48 L55.73,582.3 L57.77,580.16 L59.8,578.06 L61.83,576 L63.87,573.99 L65.9,572.01 L67.93,570.06 L69.97,568.16 L72,566.29 L74.03,564.46 L76.07,562.67 L78.1,560.9 L80.13,559.18 L82.17,557.48 L84.2,555.82 L86.23,554.19 L88.27,552.59 L90.3,551.02 L92.33,549.49 L94.37,547.98 L96.4,546.5 L98.43,545.05 L100.47,543.63 L102.5,542.23 L104.53,540.87 L106.57,539.52 L108.6,538.21 L110.63,536.92 L112.67,535.65 L114.7,534.41 L116.73,533.19 L118.77,532 L120.8,530.83 L122.83,529.68 L124.87,528.55 L126.9,527.45 L128.93,526.36 L130.97,525.3 L133,524.26 L135.03,523.24 L137.07,522.23 L139.1,521.25 L141.13,520.29 L143.17,519.34 L145.2,518.41 L147.23,517.51 L149.27,516.61 L151.3,515.74 L153.33,514.88 L155.37,514.04 L157.4,513.21 L159.43,512.4 L161.47,511.61 L163.5,510.83" fill="none" stroke="#ff2a14" stroke-width="1.4"/>
<path d="M41.5,598.5 L43.53,595.61 L45.57,592.79 L47.6,590.05 L49.63,587.37 L51.67,584.76 L53.7,582.22 L55.73,579.74 L57.77,577.33 L59.8,574.98 L61.83,572.68 L63.87,570.45 L65.9,568.27 L67.93,566.15 L69.97,564.08 L72,562.06 L74.03,560.09 L76.07,558.18 L78.1,556.31 L80.13,554.49 L82.17,552.72 L84.2,550.99 L86.23,549.3 L88.27,547.66 L90.3,546.06 L92.33,544.5 L94.37,542.98 L96.4,541.5 L98.43,540.05 L100.47,538.65 L102.5,537.27 L104.53,535.94 L106.57,534.63 L108.6,533.36 L110.63,532.13 L112.67,530.92 L114.7,529.74 L116.73,528.6 L118.77,527.48 L120.8,526.39 L122.83,525.33 L124.87,524.3 L126.9,523.29 L128.93,522.31 L130.97,521.35 L133,520.42 L135.03,519.51 L137.07,518.62 L139.1,517.76 L141.13,516.92 L143.17,516.1 L145.2,515.3 L147.23,514.52 L149.27,513.76 L151.3,513.02 L153.33,512.3 L155.37,511.59 L157.4,510.91 L159.43,510.24 L161.47,509.59 L163.5,508.95" fill="none" stroke="#9a2fb4" stroke-width="1.4"/>
<path d="M61.83,590.56 V592.72 M59.83,590.56 h4 M59.83,592.72 h4" stroke="#111111" stroke-width="1.15" fill="none"/>
<circle cx="61.83" cy="591.71" r="1.7" fill="#111111"/>
<path d="M82.17,586.95 V592 M80.17,586.95 h4 M80.17,592 h4" stroke="#111111" stroke-width="1.15" fill="none"/>
<circle cx="82.17" cy="589.11" r="1.7" fill="#111111"/>
<path d="M122.83,586.22 V588.39 M120.83,586.22 h4 M120.83,588.39 h4" stroke="#111111" stroke-width="1.15" fill="none"/>
<circle cx="122.83" cy="587.23" r="1.7" fill="#111111"/>
<path d="M163.5,581.89 V586.95 M161.5,581.89 h4 M161.5,586.95 h4" stroke="#111111" stroke-width="1.15" fill="none"/>
<circle cx="163.5" cy="584.06" r="1.7" fill="#111111"/>
<path d="M61.83,581.17 V586.95 M59.83,581.17 h4 M59.83,586.95 h4" stroke="#ff2a14" stroke-width="1.15" fill="none"/>
<circle cx="61.83" cy="584.06" r="1.7" fill="#ff2a14"/>
<path d="M82.17,567.45 V574.67 M80.17,567.45 h4 M80.17,574.67 h4" stroke="#ff2a14" stroke-width="1.15" fill="none"/>
<circle cx="82.17" cy="571.06" r="1.7" fill="#ff2a14"/>
<path d="M122.83,536.4 V550.84 M120.83,536.4 h4 M120.83,550.84 h4" stroke="#ff2a14" stroke-width="1.15" fill="none"/>
<circle cx="122.83" cy="543.62" r="1.7" fill="#ff2a14"/>
<path d="M163.5,532.06 V537.84 M161.5,532.06 h4 M161.5,537.84 h4" stroke="#ff2a14" stroke-width="1.15" fill="none"/>
<circle cx="163.5" cy="534.95" r="1.7" fill="#ff2a14"/>
<path d="M61.83,578.28 V581.17 M59.83,578.28 h4 M59.83,581.17 h4" stroke="#9a2fb4" stroke-width="1.15" fill="none"/>
<circle cx="61.83" cy="579.72" r="1.7" fill="#9a2fb4"/>
<path d="M82.17,563.84 V566.73 M80.17,563.84 h4 M80.17,566.73 h4" stroke="#9a2fb4" stroke-width="1.15" fill="none"/>
<circle cx="82.17" cy="565.28" r="1.7" fill="#9a2fb4"/>
<path d="M122.83,539.28 V545.06 M120.83,539.28 h4 M120.83,545.06 h4" stroke="#9a2fb4" stroke-width="1.15" fill="none"/>
<circle cx="122.83" cy="542.32" r="1.7" fill="#9a2fb4"/>
<path d="M163.5,532.06 V536.4 M161.5,532.06 h4 M161.5,536.4 h4" stroke="#9a2fb4" stroke-width="1.15" fill="none"/>
<circle cx="163.5" cy="534.08" r="1.7" fill="#9a2fb4"/>
<path d="M82.17,558.06 V565.28 M80.17,558.06 h4 M80.17,565.28 h4" stroke="#111111" stroke-width="1.15" fill="none"/>
<circle cx="82.17" cy="561.67" r="1.7" fill="#111111"/>
<path d="M122.83,514.73 V520.51 M120.83,514.73 h4 M120.83,520.51 h4" stroke="#111111" stroke-width="1.15" fill="none"/>
<circle cx="122.83" cy="517.62" r="1.7" fill="#111111"/>
<path d="M163.5,510.4 V516.18 M161.5,510.4 h4 M161.5,516.18 h4" stroke="#111111" stroke-width="1.15" fill="none"/>
<circle cx="163.5" cy="513.29" r="1.7" fill="#111111"/>
<path d="M61.83,573.95 V576.84 M59.83,573.95 h4 M59.83,576.84 h4" stroke="#ff2a14" stroke-width="1.15" fill="none"/>
<circle cx="61.83" cy="575.39" r="1.7" fill="#ff2a14"/>
<path d="M82.17,555.17 V563.84 M80.17,555.17 h4 M80.17,563.84 h4" stroke="#ff2a14" stroke-width="1.15" fill="none"/>
<circle cx="82.17" cy="559.5" r="1.7" fill="#ff2a14"/>
<path d="M122.83,516.9 V527.73 M120.83,516.9 h4 M120.83,527.73 h4" stroke="#ff2a14" stroke-width="1.15" fill="none"/>
<circle cx="122.83" cy="522.39" r="1.7" fill="#ff2a14"/>
<path d="M163.5,507.51 V514.73 M161.5,507.51 h4 M161.5,514.73 h4" stroke="#ff2a14" stroke-width="1.15" fill="none"/>
<circle cx="163.5" cy="511.84" r="1.7" fill="#ff2a14"/>
<path d="M61.83,571.78 V573.95 M59.83,571.78 h4 M59.83,573.95 h4" stroke="#9a2fb4" stroke-width="1.15" fill="none"/>
<circle cx="61.83" cy="572.94" r="1.7" fill="#9a2fb4"/>
<path d="M82.17,551.56 V553.73 M80.17,551.56 h4 M80.17,553.73 h4" stroke="#9a2fb4" stroke-width="1.15" fill="none"/>
<circle cx="82.17" cy="552.72" r="1.7" fill="#9a2fb4"/>
<path d="M122.83,524.84 V527.01 M120.83,524.84 h4 M120.83,527.01 h4" stroke="#9a2fb4" stroke-width="1.15" fill="none"/>
<circle cx="122.83" cy="526" r="1.7" fill="#9a2fb4"/>
<path d="M163.5,504.62 V510.4 M161.5,504.62 h4 M161.5,510.4 h4" stroke="#9a2fb4" stroke-width="1.15" fill="none"/>
<circle cx="163.5" cy="507.08" r="1.7" fill="#9a2fb4"/>
<text x="-0.8" y="9.2" class="pl">a</text>
<text x="0" y="176.2" class="pl">b</text>
<text x="0" y="496.8" class="pl">c</text>
<text x="380" y="9.2" class="pl">d</text>
<text x="373.4" y="315.8" class="pl">e</text>
<text x="46" y="13.9" class="t">ArhGAP12</text>
<text x="231.8" y="13.9" class="t">ArhGAP12 ΔN</text>
<text x="166.3" y="64.1" text-anchor="end" class="t" style="fill:#111111;stroke:#111111">FL</text>
<text x="166.3" y="75.6" text-anchor="end" class="t" style="fill:#ff2a14;stroke:#ff2a14">ΔN</text>
<text x="166.3" y="87.9" text-anchor="end" class="t" style="fill:#2244ff;stroke:#2244ff">ΔNΔP</text>
<text x="166.3" y="99.2" text-anchor="end" class="t" style="fill:#2a9a4e;stroke:#2a9a4e">ΔNΔPΔR</text>
<text x="351.4" y="53.3" text-anchor="end" class="t" style="fill:#111111;stroke:#111111">WT</text>
<text x="351.4" y="64.1" text-anchor="end" class="t" style="fill:#ff2a14;stroke:#ff2a14">R582A</text>
<text x="351.4" y="75" text-anchor="end" class="t" style="fill:#2244ff;stroke:#2244ff">L575A L579A</text>
<text x="351.4" y="85.4" text-anchor="end" class="t" style="fill:#2a9a4e;stroke:#2a9a4e">R637A</text>
<text x="351.4" y="105.5" text-anchor="end" class="t" style="fill:#22e6ff;stroke:#22e6ff">R637E</text>
<text x="125.4" y="180.8" class="t">– LatB-actin</text>
<text x="211.8" y="180.6" class="t" style="fill:#ff2a14;stroke:#ff2a14">+ LatB-actin</text>
<text x="103.9" y="196.3" text-anchor="middle" class="t">WT</text>
<text x="292" y="197.2" text-anchor="middle" class="t">R582A</text>
<text x="103.9" y="348" text-anchor="middle" class="t">ΔR</text>
<text x="292" y="348.9" text-anchor="middle" class="t">L575A L579A</text>
<rect x="188.4" y="497.6" width="118.4" height="91" fill="none" stroke="#8c8c8c" stroke-width="1"/>
<line x1="193" y1="505.6" x2="205.6" y2="505.6" stroke="#111111" stroke-width="1.4"/>
<text x="210.5" y="509.2" class="t" style="fill:#111111;stroke:#111111">WT</text>
<line x1="193" y1="518.5" x2="205.6" y2="518.5" stroke="#ff2a14" stroke-width="1.4"/>
<text x="210.5" y="522.1" class="t" style="fill:#ff2a14;stroke:#ff2a14">F650A</text>
<line x1="193" y1="531.4" x2="205.6" y2="531.4" stroke="#9a2fb4" stroke-width="1.4"/>
<text x="210.5" y="535" class="t" style="fill:#9a2fb4;stroke:#9a2fb4">F650D</text>
<line x1="193" y1="554" x2="205.6" y2="554" stroke="#111111" stroke-width="1.4" stroke-dasharray="1.4 2.0"/>
<text x="210.5" y="557.6" class="t" style="fill:#111111;stroke:#111111">WT</text>
<line x1="193" y1="567.2" x2="205.6" y2="567.2" stroke="#ff2a14" stroke-width="1.4" stroke-dasharray="1.4 2.0"/>
<text x="210.5" y="570.8" class="t" style="fill:#ff2a14;stroke:#ff2a14">F650A</text>
<line x1="193" y1="580.1" x2="205.6" y2="580.1" stroke="#9a2fb4" stroke-width="1.4" stroke-dasharray="1.4 2.0"/>
<text x="210.5" y="583.7" class="t" style="fill:#9a2fb4;stroke:#9a2fb4">F650D</text>
<line x1="245.7" y1="550.3" x2="245.7" y2="584" stroke="#111" stroke-width="1.2"/>
<text x="249.9" y="570.5" class="t">+ LatB-actin</text>
<defs><filter id="b05" x="-20%" y="-100%" width="140%" height="300%"><feGaussianBlur stdDeviation="0.5"/></filter>
<filter id="b08" x="-20%" y="-100%" width="140%" height="300%"><feGaussianBlur stdDeviation="0.8"/></filter>
<filter id="b10" x="-20%" y="-100%" width="140%" height="300%"><feGaussianBlur stdDeviation="1.0"/></filter>
<filter id="b15" x="-20%" y="-100%" width="140%" height="300%"><feGaussianBlur stdDeviation="1.5"/></filter>
<filter id="sb" x="-10%" y="-10%" width="120%" height="120%"><feGaussianBlur stdDeviation="0.7"/></filter>
<radialGradient id="bump" cx="0.44" cy="0.42" r="0.6"><stop offset="0" stop-color="#fbfbfb"/><stop offset="0.55" stop-color="#f4f4f4"/><stop offset="0.78" stop-color="#e6e6e6"/><stop offset="0.92" stop-color="#d2d2d2"/><stop offset="1" stop-color="#d2d2d2" stop-opacity="0"/></radialGradient>
<radialGradient id="hb"><stop offset="0" stop-color="#000" stop-opacity="0.48"/><stop offset="0.6" stop-color="#000" stop-opacity="0.34"/><stop offset="1" stop-color="#000" stop-opacity="0"/></radialGradient>
<filter id="surf" x="-5%" y="-5%" width="110%" height="110%" color-interpolation-filters="sRGB"><feGaussianBlur in="SourceAlpha" stdDeviation="1.2" result="h"/><feDiffuseLighting in="h" surfaceScale="3.6" diffuseConstant="0.965" lighting-color="#fff" result="d"><feDistantLight azimuth="240" elevation="80"/></feDiffuseLighting><feComponentTransfer in="SourceAlpha" result="m"><feFuncA type="linear" slope="12" intercept="-0.6"/></feComponentTransfer><feGaussianBlur in="m" stdDeviation="0.5" result="m2"/><feComposite in="d" in2="m2" operator="in"/></filter>
<clipPath id="actclip"><path d="M380.5,133.5 C380.13,131.22 382.75,128.08 384.5,126 C386.25,123.92 389.7,124.23 391,121 C392.3,117.77 391.18,109.6 392.3,106.6 C393.42,103.6 394.98,103.9 397.7,103 C400.42,102.1 405.47,102.37 408.6,101.2 C411.73,100.03 415.28,98.42 416.5,96 C417.72,93.58 415.7,89.47 415.9,86.7 C416.1,83.93 416.52,80.92 417.7,79.4 C418.88,77.88 420.9,77.42 423,77.6 C425.1,77.78 427.87,80.5 430.3,80.5 C432.73,80.5 435.18,80.5 437.6,77.6 C440.02,74.7 442.4,66.72 444.8,63.1 C447.2,59.48 448.97,57.72 452,55.9 C455.03,54.08 458.77,53.12 463,52.2 C467.23,51.28 473.18,50.6 477.4,50.4 C481.62,50.2 485.78,52.32 488.3,51 C490.82,49.68 491.68,45.27 492.5,42.5 C493.32,39.73 492.4,36.78 493.2,34.4 C494,32.02 495.6,29.57 497.3,28.2 C499,26.83 501.53,25.85 503.4,26.2 C505.27,26.55 507.23,28.92 508.5,30.3 C509.77,31.68 509.47,34 511,34.5 C512.53,35 515.55,33.67 517.7,33.3 C519.85,32.93 521.52,32.47 523.9,32.3 C526.28,32.13 529.28,32.7 532,32.3 C534.72,31.9 537.82,30.07 540.2,29.9 C542.58,29.73 544.6,30.22 546.3,31.3 C548,32.38 548.68,34.95 550.4,36.4 C552.12,37.85 554.2,40 556.6,40 C559,40 563.1,38.02 564.8,36.4 C566.5,34.78 565.45,31.67 566.8,30.3 C568.15,28.93 570.52,28.03 572.9,28.2 C575.28,28.37 579.05,29.77 581.1,31.3 C583.15,32.83 584.52,34.85 585.2,37.4 C585.88,39.95 584.18,44.22 585.2,46.6 C586.22,48.98 589.25,49.98 591.3,51.7 C593.35,53.42 595.45,55.43 597.5,56.9 C599.55,58.37 602.27,58.98 603.6,60.5 C604.93,62.02 605.52,64.08 605.5,66 C605.48,67.92 603.67,69.67 603.5,72 C603.33,74.33 603.78,78.75 604.5,80 C605.22,81.25 605.98,79.67 607.8,79.5 C609.62,79.33 613.5,78.5 615.4,79 C617.3,79.5 618.35,80.8 619.2,82.5 C620.05,84.2 620.07,87.02 620.5,89.2 C620.93,91.38 621.22,93.38 621.8,95.6 C622.38,97.82 624.05,100.6 624,102.5 C623.95,104.4 622.73,106.42 621.5,107 C620.27,107.58 619.18,104.83 616.6,106 C614.02,107.17 608.77,110.67 606,114 C603.23,117.33 602.33,122 600,126 C597.67,130 595.33,134.33 592,138 C588.67,141.67 584.33,145.5 580,148 C575.67,150.5 570.5,151.17 566,153 C561.5,154.83 557.23,158.8 553,159 C548.77,159.2 545.6,154.53 540.6,154.2 C535.6,153.87 528.77,155.53 523,157 C517.23,158.47 510.83,161.92 506,163 C501.17,164.08 498.33,161.93 494,163.5 C489.67,165.07 484.25,170.15 480,172.4 C475.75,174.65 473.17,176.6 468.5,177 C463.83,177.4 455.92,176.3 452,174.8 C448.08,173.3 447.72,168.8 445,168 C442.28,167.2 439.58,170.03 435.7,170 C431.82,169.97 425.98,169.13 421.7,167.8 C417.42,166.47 411.95,164.35 410,162 C408.05,159.65 411.93,156.25 410,153.7 C408.07,151.15 402.28,149.03 398.4,146.7 C394.52,144.37 389.68,141.9 386.7,139.7 C383.72,137.5 380.87,135.78 380.5,133.5Z"/></clipPath>
<filter id="feath2" x="-5%" y="-5%" width="110%" height="110%"><feGaussianBlur stdDeviation="0.9"/></filter>
<filter id="feath" x="-5%" y="-5%" width="110%" height="110%"><feGaussianBlur stdDeviation="1.6"/></filter>
<filter id="mblur" x="-5%" y="-5%" width="110%" height="110%"><feGaussianBlur stdDeviation="2.5"/></filter><mask id="actmask" maskUnits="userSpaceOnUse" x="360" y="10" width="290" height="190"><path d="M380.5,133.5 C380.13,131.22 382.75,128.08 384.5,126 C386.25,123.92 389.7,124.23 391,121 C392.3,117.77 391.18,109.6 392.3,106.6 C393.42,103.6 394.98,103.9 397.7,103 C400.42,102.1 405.47,102.37 408.6,101.2 C411.73,100.03 415.28,98.42 416.5,96 C417.72,93.58 415.7,89.47 415.9,86.7 C416.1,83.93 416.52,80.92 417.7,79.4 C418.88,77.88 420.9,77.42 423,77.6 C425.1,77.78 427.87,80.5 430.3,80.5 C432.73,80.5 435.18,80.5 437.6,77.6 C440.02,74.7 442.4,66.72 444.8,63.1 C447.2,59.48 448.97,57.72 452,55.9 C455.03,54.08 458.77,53.12 463,52.2 C467.23,51.28 473.18,50.6 477.4,50.4 C481.62,50.2 485.78,52.32 488.3,51 C490.82,49.68 491.68,45.27 492.5,42.5 C493.32,39.73 492.4,36.78 493.2,34.4 C494,32.02 495.6,29.57 497.3,28.2 C499,26.83 501.53,25.85 503.4,26.2 C505.27,26.55 507.23,28.92 508.5,30.3 C509.77,31.68 509.47,34 511,34.5 C512.53,35 515.55,33.67 517.7,33.3 C519.85,32.93 521.52,32.47 523.9,32.3 C526.28,32.13 529.28,32.7 532,32.3 C534.72,31.9 537.82,30.07 540.2,29.9 C542.58,29.73 544.6,30.22 546.3,31.3 C548,32.38 548.68,34.95 550.4,36.4 C552.12,37.85 554.2,40 556.6,40 C559,40 563.1,38.02 564.8,36.4 C566.5,34.78 565.45,31.67 566.8,30.3 C568.15,28.93 570.52,28.03 572.9,28.2 C575.28,28.37 579.05,29.77 581.1,31.3 C583.15,32.83 584.52,34.85 585.2,37.4 C585.88,39.95 584.18,44.22 585.2,46.6 C586.22,48.98 589.25,49.98 591.3,51.7 C593.35,53.42 595.45,55.43 597.5,56.9 C599.55,58.37 602.27,58.98 603.6,60.5 C604.93,62.02 605.52,64.08 605.5,66 C605.48,67.92 603.67,69.67 603.5,72 C603.33,74.33 603.78,78.75 604.5,80 C605.22,81.25 605.98,79.67 607.8,79.5 C609.62,79.33 613.5,78.5 615.4,79 C617.3,79.5 618.35,80.8 619.2,82.5 C620.05,84.2 620.07,87.02 620.5,89.2 C620.93,91.38 621.22,93.38 621.8,95.6 C622.38,97.82 624.05,100.6 624,102.5 C623.95,104.4 622.73,106.42 621.5,107 C620.27,107.58 619.18,104.83 616.6,106 C614.02,107.17 608.77,110.67 606,114 C603.23,117.33 602.33,122 600,126 C597.67,130 595.33,134.33 592,138 C588.67,141.67 584.33,145.5 580,148 C575.67,150.5 570.5,151.17 566,153 C561.5,154.83 557.23,158.8 553,159 C548.77,159.2 545.6,154.53 540.6,154.2 C535.6,153.87 528.77,155.53 523,157 C517.23,158.47 510.83,161.92 506,163 C501.17,164.08 498.33,161.93 494,163.5 C489.67,165.07 484.25,170.15 480,172.4 C475.75,174.65 473.17,176.6 468.5,177 C463.83,177.4 455.92,176.3 452,174.8 C448.08,173.3 447.72,168.8 445,168 C442.28,167.2 439.58,170.03 435.7,170 C431.82,169.97 425.98,169.13 421.7,167.8 C417.42,166.47 411.95,164.35 410,162 C408.05,159.65 411.93,156.25 410,153.7 C408.07,151.15 402.28,149.03 398.4,146.7 C394.52,144.37 389.68,141.9 386.7,139.7 C383.72,137.5 380.87,135.78 380.5,133.5Z" fill="#fff" filter="url(#mblur)"/></mask>
<radialGradient id="lobe" cx="0.45" cy="0.4" r="0.62"><stop offset="0" stop-color="#ffffff"/><stop offset="0.6" stop-color="#fbfbfb"/><stop offset="0.88" stop-color="#ececec"/><stop offset="1" stop-color="#dddddd"/></radialGradient>
<filter id="crs" x="-5%" y="-5%" width="110%" height="110%"><feGaussianBlur stdDeviation="0.8"/></filter></defs>
<g filter="url(#surf)"><g filter="url(#feath)"><path d="M380.5,133.5 C380.13,131.22 382.75,128.08 384.5,126 C386.25,123.92 389.7,124.23 391,121 C392.3,117.77 391.18,109.6 392.3,106.6 C393.42,103.6 394.98,103.9 397.7,103 C400.42,102.1 405.47,102.37 408.6,101.2 C411.73,100.03 415.28,98.42 416.5,96 C417.72,93.58 415.7,89.47 415.9,86.7 C416.1,83.93 416.52,80.92 417.7,79.4 C418.88,77.88 420.9,77.42 423,77.6 C425.1,77.78 427.87,80.5 430.3,80.5 C432.73,80.5 435.18,80.5 437.6,77.6 C440.02,74.7 442.4,66.72 444.8,63.1 C447.2,59.48 448.97,57.72 452,55.9 C455.03,54.08 458.77,53.12 463,52.2 C467.23,51.28 473.18,50.6 477.4,50.4 C481.62,50.2 485.78,52.32 488.3,51 C490.82,49.68 491.68,45.27 492.5,42.5 C493.32,39.73 492.4,36.78 493.2,34.4 C494,32.02 495.6,29.57 497.3,28.2 C499,26.83 501.53,25.85 503.4,26.2 C505.27,26.55 507.23,28.92 508.5,30.3 C509.77,31.68 509.47,34 511,34.5 C512.53,35 515.55,33.67 517.7,33.3 C519.85,32.93 521.52,32.47 523.9,32.3 C526.28,32.13 529.28,32.7 532,32.3 C534.72,31.9 537.82,30.07 540.2,29.9 C542.58,29.73 544.6,30.22 546.3,31.3 C548,32.38 548.68,34.95 550.4,36.4 C552.12,37.85 554.2,40 556.6,40 C559,40 563.1,38.02 564.8,36.4 C566.5,34.78 565.45,31.67 566.8,30.3 C568.15,28.93 570.52,28.03 572.9,28.2 C575.28,28.37 579.05,29.77 581.1,31.3 C583.15,32.83 584.52,34.85 585.2,37.4 C585.88,39.95 584.18,44.22 585.2,46.6 C586.22,48.98 589.25,49.98 591.3,51.7 C593.35,53.42 595.45,55.43 597.5,56.9 C599.55,58.37 602.27,58.98 603.6,60.5 C604.93,62.02 605.52,64.08 605.5,66 C605.48,67.92 603.67,69.67 603.5,72 C603.33,74.33 603.78,78.75 604.5,80 C605.22,81.25 605.98,79.67 607.8,79.5 C609.62,79.33 613.5,78.5 615.4,79 C617.3,79.5 618.35,80.8 619.2,82.5 C620.05,84.2 620.07,87.02 620.5,89.2 C620.93,91.38 621.22,93.38 621.8,95.6 C622.38,97.82 624.05,100.6 624,102.5 C623.95,104.4 622.73,106.42 621.5,107 C620.27,107.58 619.18,104.83 616.6,106 C614.02,107.17 608.77,110.67 606,114 C603.23,117.33 602.33,122 600,126 C597.67,130 595.33,134.33 592,138 C588.67,141.67 584.33,145.5 580,148 C575.67,150.5 570.5,151.17 566,153 C561.5,154.83 557.23,158.8 553,159 C548.77,159.2 545.6,154.53 540.6,154.2 C535.6,153.87 528.77,155.53 523,157 C517.23,158.47 510.83,161.92 506,163 C501.17,164.08 498.33,161.93 494,163.5 C489.67,165.07 484.25,170.15 480,172.4 C475.75,174.65 473.17,176.6 468.5,177 C463.83,177.4 455.92,176.3 452,174.8 C448.08,173.3 447.72,168.8 445,168 C442.28,167.2 439.58,170.03 435.7,170 C431.82,169.97 425.98,169.13 421.7,167.8 C417.42,166.47 411.95,164.35 410,162 C408.05,159.65 411.93,156.25 410,153.7 C408.07,151.15 402.28,149.03 398.4,146.7 C394.52,144.37 389.68,141.9 386.7,139.7 C383.72,137.5 380.87,135.78 380.5,133.5Z" fill="#000" fill-opacity="0.2"/></g><g filter="url(#feath2)"><g fill="url(#hb)" clip-path="url(#actclip)">
<ellipse cx="419.95" cy="104.4" rx="13.97" ry="9.09" transform="rotate(144.31 419.95 104.4)"/>
<ellipse cx="443.44" cy="114.92" rx="16.89" ry="11.52" transform="rotate(95.54 443.44 114.92)"/>
<ellipse cx="482.03" cy="146.28" rx="12.11" ry="9.76" transform="rotate(123.34 482.03 146.28)"/>
<ellipse cx="500.15" cy="153.4" rx="20.11" ry="14.09" transform="rotate(171 500.15 153.4)"/>
<ellipse cx="482.45" cy="166.22" rx="8.01" ry="7.83" transform="rotate(115.09 482.45 166.22)"/>
<ellipse cx="427.3" cy="83.73" rx="11.03" ry="9.59" transform="rotate(163.02 427.3 83.73)"/>
<ellipse cx="528.93" cy="138.56" rx="13.08" ry="10.54" transform="rotate(9.08 528.93 138.56)"/>
<ellipse cx="571.37" cy="75.38" rx="21.88" ry="14.46" transform="rotate(62.73 571.37 75.38)"/>
<ellipse cx="453.52" cy="136.47" rx="15.4" ry="13.16" transform="rotate(25.73 453.52 136.47)"/>
<ellipse cx="584.16" cy="111.56" rx="13.36" ry="10.87" transform="rotate(152.15 584.16 111.56)"/>
<ellipse cx="569.19" cy="32.03" rx="7.37" ry="6.27" transform="rotate(43.74 569.19 32.03)"/>
<ellipse cx="499.52" cy="74.62" rx="22.3" ry="14.03" transform="rotate(81.45 499.52 74.62)"/>
<ellipse cx="403" cy="102.43" rx="7.8" ry="6.27" transform="rotate(124.82 403 102.43)"/>
<ellipse cx="517.19" cy="38.83" rx="7.63" ry="6.53" transform="rotate(80.54 517.19 38.83)"/>
<ellipse cx="521.83" cy="149.66" rx="9.67" ry="8.75" transform="rotate(123.33 521.83 149.66)"/>
<ellipse cx="495.32" cy="74.9" rx="13.91" ry="10.15" transform="rotate(166.55 495.32 74.9)"/>
<ellipse cx="577.14" cy="88.25" rx="21.97" ry="14.38" transform="rotate(125.06 577.14 88.25)"/>
<ellipse cx="584.65" cy="54.98" rx="10.87" ry="8.73" transform="rotate(44.91 584.65 54.98)"/>
<ellipse cx="449.09" cy="163.31" rx="9.16" ry="7.32" transform="rotate(15.08 449.09 163.31)"/>
<ellipse cx="529.86" cy="38.69" rx="8.21" ry="7.93" transform="rotate(75.74 529.86 38.69)"/>
<ellipse cx="492.23" cy="57.44" rx="11.13" ry="8.87" transform="rotate(0.1 492.23 57.44)"/>
<ellipse cx="400.92" cy="129.12" rx="16.96" ry="12.3" transform="rotate(67.17 400.92 129.12)"/>
<ellipse cx="495.64" cy="157.01" rx="8.78" ry="7.87" transform="rotate(104.88 495.64 157.01)"/>
<ellipse cx="507.8" cy="45.77" rx="16.33" ry="11.66" transform="rotate(82 507.8 45.77)"/>
<ellipse cx="549.69" cy="153.41" rx="9.33" ry="7.64" transform="rotate(162.04 549.69 153.41)"/>
<ellipse cx="597.65" cy="80.79" rx="8.74" ry="8.11" transform="rotate(148.27 597.65 80.79)"/>
<ellipse cx="583.27" cy="131.1" rx="19.01" ry="14.67" transform="rotate(170.85 583.27 131.1)"/>
<ellipse cx="579.11" cy="41.85" rx="10.17" ry="8.88" transform="rotate(103.42 579.11 41.85)"/>
<ellipse cx="598.28" cy="62.25" rx="8.47" ry="6.59" transform="rotate(158.79 598.28 62.25)"/>
<ellipse cx="551.49" cy="113.16" rx="16.01" ry="10.85" transform="rotate(3.44 551.49 113.16)"/>
<ellipse cx="567.67" cy="38.49" rx="14.36" ry="10.28" transform="rotate(14.71 567.67 38.49)"/>
<ellipse cx="458.74" cy="109.84" rx="20.92" ry="13.48" transform="rotate(76.98 458.74 109.84)"/>
<ellipse cx="595.19" cy="124.05" rx="6.14" ry="6.11" transform="rotate(163.84 595.19 124.05)"/>
<ellipse cx="535.43" cy="132.89" rx="21.55" ry="13.57" transform="rotate(4.11 535.43 132.89)"/>
<ellipse cx="548.75" cy="105.58" rx="18.44" ry="12.69" transform="rotate(70.83 548.75 105.58)"/>
<ellipse cx="440.57" cy="164.96" rx="8.32" ry="8.25" transform="rotate(108.23 440.57 164.96)"/>
<ellipse cx="552.17" cy="45.07" rx="8.16" ry="7.93" transform="rotate(178.07 552.17 45.07)"/>
<ellipse cx="574.77" cy="66" rx="20.93" ry="14.47" transform="rotate(140.04 574.77 66)"/>
<ellipse cx="595.8" cy="76.37" rx="14.54" ry="13" transform="rotate(77.56 595.8 76.37)"/>
<ellipse cx="494.27" cy="134.84" rx="11.72" ry="10.07" transform="rotate(62.23 494.27 134.84)"/>
<ellipse cx="471.19" cy="112.89" rx="21.1" ry="14.28" transform="rotate(169.97 471.19 112.89)"/>
<ellipse cx="418.7" cy="98.24" rx="12.99" ry="10.01" transform="rotate(110.01 418.7 98.24)"/>
<ellipse cx="498.88" cy="34.72" rx="9.73" ry="7.89" transform="rotate(48.56 498.88 34.72)"/>
<ellipse cx="560.88" cy="40.46" rx="7.15" ry="6.64" transform="rotate(139.08 560.88 40.46)"/>
<ellipse cx="545.65" cy="57.1" rx="13.12" ry="11.85" transform="rotate(1.94 545.65 57.1)"/>
<ellipse cx="523.19" cy="122.6" rx="15.06" ry="13.52" transform="rotate(44.81 523.19 122.6)"/>
<ellipse cx="411.33" cy="144.67" rx="10.2" ry="9.14" transform="rotate(40.91 411.33 144.67)"/>
<ellipse cx="576.08" cy="35.63" rx="8.67" ry="7.8" transform="rotate(81.58 576.08 35.63)"/>
<ellipse cx="542.75" cy="37.51" rx="9.18" ry="8.41" transform="rotate(159.28 542.75 37.51)"/>
<ellipse cx="442.45" cy="149.29" rx="15.61" ry="11.21" transform="rotate(178.05 442.45 149.29)"/>
<ellipse cx="456.44" cy="74.56" rx="16.44" ry="14.54" transform="rotate(179.7 456.44 74.56)"/>
<ellipse cx="513.11" cy="103.68" rx="19.85" ry="14.8" transform="rotate(179.12 513.11 103.68)"/>
<ellipse cx="537.78" cy="147.82" rx="9.94" ry="8.21" transform="rotate(142.79 537.78 147.82)"/>
<ellipse cx="437.92" cy="136.71" rx="11.17" ry="10.56" transform="rotate(149.79 437.92 136.71)"/>
<ellipse cx="522.82" cy="37.78" rx="8.02" ry="6.57" transform="rotate(23.57 522.82 37.78)"/>
<ellipse cx="577.64" cy="118.15" rx="13.32" ry="9.69" transform="rotate(82.02 577.64 118.15)"/>
<ellipse cx="575.82" cy="121.18" rx="15.35" ry="13.61" transform="rotate(76.38 575.82 121.18)"/>
<ellipse cx="618.78" cy="101.94" rx="6.51" ry="6.18" transform="rotate(66.38 618.78 101.94)"/>
<ellipse cx="481.42" cy="55.01" rx="9.03" ry="7.2" transform="rotate(69.57 481.42 55.01)"/>
<ellipse cx="391.36" cy="122.01" rx="16.09" ry="11.68" transform="rotate(117.91 391.36 122.01)"/>
<ellipse cx="513.17" cy="143" rx="12.13" ry="11.92" transform="rotate(145.65 513.17 143)"/>
<ellipse cx="537.85" cy="35.03" rx="7.18" ry="6.64" transform="rotate(174.77 537.85 35.03)"/>
<ellipse cx="393.6" cy="137" rx="10.44" ry="8.72" transform="rotate(79.55 393.6 137)"/>
<ellipse cx="574.88" cy="143.65" rx="9.05" ry="7.91" transform="rotate(131.49 574.88 143.65)"/>
<ellipse cx="467.61" cy="55.78" rx="7.01" ry="6.87" transform="rotate(137.93 467.61 55.78)"/>
<ellipse cx="390.56" cy="124.32" rx="8.52" ry="7.4" transform="rotate(105.73 390.56 124.32)"/>
<ellipse cx="616.66" cy="95.36" rx="6.54" ry="6.05" transform="rotate(80.23 616.66 95.36)"/>
<ellipse cx="415.22" cy="158.36" rx="8.87" ry="7.49" transform="rotate(165.68 415.22 158.36)"/>
<ellipse cx="423.87" cy="95.55" rx="16.7" ry="13.44" transform="rotate(35.12 423.87 95.55)"/>
<ellipse cx="484.08" cy="117.74" rx="12.9" ry="9.08" transform="rotate(151.97 484.08 117.74)"/>
<ellipse cx="506.63" cy="155.91" rx="10.54" ry="8.37" transform="rotate(103.11 506.63 155.91)"/>
<ellipse cx="444.29" cy="78.76" rx="9.08" ry="7.99" transform="rotate(50.07 444.29 78.76)"/>
<ellipse cx="615.01" cy="106.02" rx="8.02" ry="7.72" transform="rotate(65.19 615.01 106.02)"/>
<ellipse cx="386.45" cy="131.57" rx="8.59" ry="7.36" transform="rotate(166.36 386.45 131.57)"/>
<ellipse cx="535.27" cy="135.37" rx="15.83" ry="10.28" transform="rotate(176.49 535.27 135.37)"/>
<ellipse cx="586.08" cy="134.47" rx="10.44" ry="8.1" transform="rotate(3.83 586.08 134.47)"/>
<ellipse cx="562.62" cy="85.88" rx="20.84" ry="14.39" transform="rotate(9.03 562.62 85.88)"/>
<ellipse cx="429.22" cy="78.5" rx="8.37" ry="7.39" transform="rotate(151.64 429.22 78.5)"/>
<ellipse cx="414.9" cy="150.68" rx="6.79" ry="6.77" transform="rotate(54.19 414.9 150.68)"/>
<ellipse cx="507.45" cy="70.82" rx="18.5" ry="13.37" transform="rotate(94.1 507.45 70.82)"/>
<ellipse cx="466.59" cy="136.62" rx="11.99" ry="11.2" transform="rotate(127.67 466.59 136.62)"/>
<ellipse cx="494.66" cy="47.7" rx="8.44" ry="6.63" transform="rotate(84.6 494.66 47.7)"/>
<ellipse cx="531.01" cy="62.05" rx="20.53" ry="14.67" transform="rotate(60.81 531.01 62.05)"/>
<ellipse cx="570.67" cy="48.22" rx="12.96" ry="9.89" transform="rotate(130.24 570.67 48.22)"/>
<ellipse cx="612.69" cy="82.99" rx="9.64" ry="7.68" transform="rotate(110.57 612.69 82.99)"/>
<ellipse cx="599.34" cy="112.33" rx="9.49" ry="8.07" transform="rotate(25.26 599.34 112.33)"/>
<ellipse cx="514.28" cy="152.61" rx="10.98" ry="8.7" transform="rotate(75.09 514.28 152.61)"/>
<ellipse cx="608.51" cy="79.77" rx="8.33" ry="8.16" transform="rotate(41.11 608.51 79.77)"/>
<ellipse cx="481.81" cy="106.54" rx="15.35" ry="12.59" transform="rotate(51.44 481.81 106.54)"/>
<ellipse cx="471.96" cy="170.2" rx="11.35" ry="8.98" transform="rotate(131.08 471.96 170.2)"/>
<ellipse cx="538.54" cy="111.66" rx="15.3" ry="10.7" transform="rotate(53.29 538.54 111.66)"/>
<ellipse cx="597.93" cy="58.44" rx="22.3" ry="14.1" transform="rotate(94.36 597.93 58.44)"/>
<ellipse cx="562.82" cy="34.71" rx="7.61" ry="6.99" transform="rotate(13.21 562.82 34.71)"/>
<ellipse cx="565.68" cy="142.55" rx="16.39" ry="11.43" transform="rotate(12.7 565.68 142.55)"/>
<ellipse cx="546.26" cy="75.63" rx="15.27" ry="11.13" transform="rotate(18.88 546.26 75.63)"/>
<ellipse cx="603.47" cy="67.65" rx="12.74" ry="11.84" transform="rotate(78.06 603.47 67.65)"/>
<ellipse cx="451.88" cy="65.98" rx="11.68" ry="8.99" transform="rotate(151.24 451.88 65.98)"/>
<ellipse cx="495.66" cy="41.59" rx="10.01" ry="8.94" transform="rotate(13.15 495.66 41.59)"/>
<ellipse cx="539.66" cy="113.01" rx="15.05" ry="12.2" transform="rotate(179.98 539.66 113.01)"/>
<ellipse cx="554.82" cy="46.62" rx="16.12" ry="11.72" transform="rotate(163.79 554.82 46.62)"/>
<ellipse cx="399.36" cy="105.66" rx="8.62" ry="8.38" transform="rotate(54.61 399.36 105.66)"/>
<ellipse cx="502.37" cy="141.48" rx="16.96" ry="12.02" transform="rotate(34.02 502.37 141.48)"/>
<ellipse cx="598.41" cy="73.04" rx="7.88" ry="6.12" transform="rotate(42.91 598.41 73.04)"/>
<ellipse cx="457.99" cy="59.34" rx="8.89" ry="8.12" transform="rotate(41.34 457.99 59.34)"/>
<ellipse cx="482.9" cy="121.13" rx="12.74" ry="9.61" transform="rotate(13.05 482.9 121.13)"/>
<ellipse cx="578.94" cy="50.38" rx="9.07" ry="8.6" transform="rotate(27.74 578.94 50.38)"/>
<ellipse cx="491.82" cy="142.47" rx="14.03" ry="10.96" transform="rotate(92.75 491.82 142.47)"/>
<ellipse cx="601.22" cy="80.26" rx="8.48" ry="7.79" transform="rotate(31.58 601.22 80.26)"/>
<ellipse cx="436.68" cy="81.28" rx="9.01" ry="7.56" transform="rotate(89.96 436.68 81.28)"/>
<ellipse cx="550.53" cy="156.97" rx="15.88" ry="12.78" transform="rotate(107.93 550.53 156.97)"/>
<ellipse cx="508.35" cy="92.95" rx="14.05" ry="11.25" transform="rotate(95.28 508.35 92.95)"/>
<ellipse cx="531.24" cy="81.24" rx="15" ry="10.63" transform="rotate(101.68 531.24 81.24)"/>
<ellipse cx="534.4" cy="149.24" rx="12.85" ry="9.46" transform="rotate(136.66 534.4 149.24)"/>
<ellipse cx="489.06" cy="68.55" rx="12.84" ry="10.28" transform="rotate(112.63 489.06 68.55)"/>
<ellipse cx="423.25" cy="80.05" rx="7.05" ry="6.57" transform="rotate(5.41 423.25 80.05)"/>
<ellipse cx="562.15" cy="148.51" rx="9.04" ry="6.96" transform="rotate(13.55 562.15 148.51)"/>
<ellipse cx="587.34" cy="62.13" rx="19.98" ry="13.44" transform="rotate(162.48 587.34 62.13)"/>
<ellipse cx="504.59" cy="112.88" rx="10.97" ry="9.88" transform="rotate(36.7 504.59 112.88)"/>
<ellipse cx="492.22" cy="125.35" rx="14.66" ry="10.23" transform="rotate(147.3 492.22 125.35)"/>
<ellipse cx="396.4" cy="119.65" rx="7.56" ry="6.55" transform="rotate(113.38 396.4 119.65)"/>
<ellipse cx="592.31" cy="58.96" rx="8.03" ry="6.57" transform="rotate(169.27 592.31 58.96)"/>
<ellipse cx="483.94" cy="99.12" rx="17.01" ry="14.84" transform="rotate(94.2 483.94 99.12)"/>
<ellipse cx="504.14" cy="31.47" rx="6.89" ry="6.26" transform="rotate(173.53 504.14 31.47)"/>
<ellipse cx="404.53" cy="143.68" rx="8.52" ry="8.03" transform="rotate(30.53 404.53 143.68)"/>
<ellipse cx="421.03" cy="86.91" rx="7" ry="6.05" transform="rotate(10.72 421.03 86.91)"/>
<ellipse cx="426.52" cy="163.7" rx="7.96" ry="7.44" transform="rotate(125.7 426.52 163.7)"/>
<ellipse cx="547.17" cy="41.02" rx="7.42" ry="6.63" transform="rotate(153.79 547.17 41.02)"/>
<ellipse cx="413.78" cy="100.67" rx="7.93" ry="6.13" transform="rotate(173.66 413.78 100.67)"/>
<ellipse cx="593.03" cy="85.05" rx="14.87" ry="12.5" transform="rotate(24.51 593.03 85.05)"/>
<ellipse cx="462.7" cy="97.79" rx="11" ry="9.06" transform="rotate(114.97 462.7 97.79)"/>
<ellipse cx="511.14" cy="39.86" rx="6.42" ry="6.3" transform="rotate(143.46 511.14 39.86)"/>
<ellipse cx="485.99" cy="148.26" rx="12.89" ry="10.83" transform="rotate(71.93 485.99 148.26)"/>
<ellipse cx="614.69" cy="89.27" rx="8.72" ry="6.84" transform="rotate(36.72 614.69 89.27)"/>
<ellipse cx="599.08" cy="67.69" rx="8.8" ry="7.81" transform="rotate(18.69 599.08 67.69)"/>
<ellipse cx="495.81" cy="58.81" rx="16.01" ry="11.06" transform="rotate(150.94 495.81 58.81)"/>
<ellipse cx="547.22" cy="36.95" rx="15.27" ry="12.23" transform="rotate(172.24 547.22 36.95)"/>
<ellipse cx="609.31" cy="104.92" rx="11.22" ry="8.67" transform="rotate(118.25 609.31 104.92)"/>
<ellipse cx="556.88" cy="45.54" rx="13.88" ry="12.06" transform="rotate(35.59 556.88 45.54)"/>
<ellipse cx="532.78" cy="123.41" rx="18.4" ry="12.18" transform="rotate(110.11 532.78 123.41)"/>
<ellipse cx="400.09" cy="112.2" rx="16.81" ry="11.91" transform="rotate(53.8 400.09 112.2)"/>
<ellipse cx="423.26" cy="95.62" rx="9.43" ry="7.96" transform="rotate(28.35 423.26 95.62)"/>
<ellipse cx="504.88" cy="87.49" rx="18.47" ry="13.81" transform="rotate(88.39 504.88 87.49)"/>
<ellipse cx="518.66" cy="57.35" rx="15.9" ry="12.22" transform="rotate(108.94 518.66 57.35)"/>
<ellipse cx="508.96" cy="37.32" rx="8.57" ry="8.27" transform="rotate(44.35 508.96 37.32)"/>
<ellipse cx="455.55" cy="169.85" rx="8.75" ry="7.17" transform="rotate(104.57 455.55 169.85)"/>
<ellipse cx="557.7" cy="63" rx="14.87" ry="9.68" transform="rotate(141.18 557.7 63)"/>
</g></g></g>
<path d="M380.5,133.5 C380.13,131.22 382.75,128.08 384.5,126 C386.25,123.92 389.7,124.23 391,121 C392.3,117.77 391.18,109.6 392.3,106.6 C393.42,103.6 394.98,103.9 397.7,103 C400.42,102.1 405.47,102.37 408.6,101.2 C411.73,100.03 415.28,98.42 416.5,96 C417.72,93.58 415.7,89.47 415.9,86.7 C416.1,83.93 416.52,80.92 417.7,79.4 C418.88,77.88 420.9,77.42 423,77.6 C425.1,77.78 427.87,80.5 430.3,80.5 C432.73,80.5 435.18,80.5 437.6,77.6 C440.02,74.7 442.4,66.72 444.8,63.1 C447.2,59.48 448.97,57.72 452,55.9 C455.03,54.08 458.77,53.12 463,52.2 C467.23,51.28 473.18,50.6 477.4,50.4 C481.62,50.2 485.78,52.32 488.3,51 C490.82,49.68 491.68,45.27 492.5,42.5 C493.32,39.73 492.4,36.78 493.2,34.4 C494,32.02 495.6,29.57 497.3,28.2 C499,26.83 501.53,25.85 503.4,26.2 C505.27,26.55 507.23,28.92 508.5,30.3 C509.77,31.68 509.47,34 511,34.5 C512.53,35 515.55,33.67 517.7,33.3 C519.85,32.93 521.52,32.47 523.9,32.3 C526.28,32.13 529.28,32.7 532,32.3 C534.72,31.9 537.82,30.07 540.2,29.9 C542.58,29.73 544.6,30.22 546.3,31.3 C548,32.38 548.68,34.95 550.4,36.4 C552.12,37.85 554.2,40 556.6,40 C559,40 563.1,38.02 564.8,36.4 C566.5,34.78 565.45,31.67 566.8,30.3 C568.15,28.93 570.52,28.03 572.9,28.2 C575.28,28.37 579.05,29.77 581.1,31.3 C583.15,32.83 584.52,34.85 585.2,37.4 C585.88,39.95 584.18,44.22 585.2,46.6 C586.22,48.98 589.25,49.98 591.3,51.7 C593.35,53.42 595.45,55.43 597.5,56.9 C599.55,58.37 602.27,58.98 603.6,60.5 C604.93,62.02 605.52,64.08 605.5,66 C605.48,67.92 603.67,69.67 603.5,72 C603.33,74.33 603.78,78.75 604.5,80 C605.22,81.25 605.98,79.67 607.8,79.5 C609.62,79.33 613.5,78.5 615.4,79 C617.3,79.5 618.35,80.8 619.2,82.5 C620.05,84.2 620.07,87.02 620.5,89.2 C620.93,91.38 621.22,93.38 621.8,95.6 C622.38,97.82 624.05,100.6 624,102.5 C623.95,104.4 622.73,106.42 621.5,107 C620.27,107.58 619.18,104.83 616.6,106 C614.02,107.17 608.77,110.67 606,114 C603.23,117.33 602.33,122 600,126 C597.67,130 595.33,134.33 592,138 C588.67,141.67 584.33,145.5 580,148 C575.67,150.5 570.5,151.17 566,153 C561.5,154.83 557.23,158.8 553,159 C548.77,159.2 545.6,154.53 540.6,154.2 C535.6,153.87 528.77,155.53 523,157 C517.23,158.47 510.83,161.92 506,163 C501.17,164.08 498.33,161.93 494,163.5 C489.67,165.07 484.25,170.15 480,172.4 C475.75,174.65 473.17,176.6 468.5,177 C463.83,177.4 455.92,176.3 452,174.8 C448.08,173.3 447.72,168.8 445,168 C442.28,167.2 439.58,170.03 435.7,170 C431.82,169.97 425.98,169.13 421.7,167.8 C417.42,166.47 411.95,164.35 410,162 C408.05,159.65 411.93,156.25 410,153.7 C408.07,151.15 402.28,149.03 398.4,146.7 C394.52,144.37 389.68,141.9 386.7,139.7 C383.72,137.5 380.87,135.78 380.5,133.5Z" fill="none" stroke="#c8c8c8" stroke-width="0.7" opacity="0.35"/>
<g style="mix-blend-mode:multiply" opacity="1.0" clip-path="url(#actclip)"><g filter="url(#crs)"><path d="M380.5,133.5 C380.13,131.22 382.75,128.08 384.5,126 C386.25,123.92 389.7,124.23 391,121 C392.3,117.77 391.18,109.6 392.3,106.6 C393.42,103.6 394.98,103.9 397.7,103 C400.42,102.1 405.47,102.37 408.6,101.2 C411.73,100.03 415.28,98.42 416.5,96 C417.72,93.58 415.7,89.47 415.9,86.7 C416.1,83.93 416.52,80.92 417.7,79.4 C418.88,77.88 420.9,77.42 423,77.6 C425.1,77.78 427.87,80.5 430.3,80.5 C432.73,80.5 435.18,80.5 437.6,77.6 C440.02,74.7 442.4,66.72 444.8,63.1 C447.2,59.48 448.97,57.72 452,55.9 C455.03,54.08 458.77,53.12 463,52.2 C467.23,51.28 473.18,50.6 477.4,50.4 C481.62,50.2 485.78,52.32 488.3,51 C490.82,49.68 491.68,45.27 492.5,42.5 C493.32,39.73 492.4,36.78 493.2,34.4 C494,32.02 495.6,29.57 497.3,28.2 C499,26.83 501.53,25.85 503.4,26.2 C505.27,26.55 507.23,28.92 508.5,30.3 C509.77,31.68 509.47,34 511,34.5 C512.53,35 515.55,33.67 517.7,33.3 C519.85,32.93 521.52,32.47 523.9,32.3 C526.28,32.13 529.28,32.7 532,32.3 C534.72,31.9 537.82,30.07 540.2,29.9 C542.58,29.73 544.6,30.22 546.3,31.3 C548,32.38 548.68,34.95 550.4,36.4 C552.12,37.85 554.2,40 556.6,40 C559,40 563.1,38.02 564.8,36.4 C566.5,34.78 565.45,31.67 566.8,30.3 C568.15,28.93 570.52,28.03 572.9,28.2 C575.28,28.37 579.05,29.77 581.1,31.3 C583.15,32.83 584.52,34.85 585.2,37.4 C585.88,39.95 584.18,44.22 585.2,46.6 C586.22,48.98 589.25,49.98 591.3,51.7 C593.35,53.42 595.45,55.43 597.5,56.9 C599.55,58.37 602.27,58.98 603.6,60.5 C604.93,62.02 605.52,64.08 605.5,66 C605.48,67.92 603.67,69.67 603.5,72 C603.33,74.33 603.78,78.75 604.5,80 C605.22,81.25 605.98,79.67 607.8,79.5 C609.62,79.33 613.5,78.5 615.4,79 C617.3,79.5 618.35,80.8 619.2,82.5 C620.05,84.2 620.07,87.02 620.5,89.2 C620.93,91.38 621.22,93.38 621.8,95.6 C622.38,97.82 624.05,100.6 624,102.5 C623.95,104.4 622.73,106.42 621.5,107 C620.27,107.58 619.18,104.83 616.6,106 C614.02,107.17 608.77,110.67 606,114 C603.23,117.33 602.33,122 600,126 C597.67,130 595.33,134.33 592,138 C588.67,141.67 584.33,145.5 580,148 C575.67,150.5 570.5,151.17 566,153 C561.5,154.83 557.23,158.8 553,159 C548.77,159.2 545.6,154.53 540.6,154.2 C535.6,153.87 528.77,155.53 523,157 C517.23,158.47 510.83,161.92 506,163 C501.17,164.08 498.33,161.93 494,163.5 C489.67,165.07 484.25,170.15 480,172.4 C475.75,174.65 473.17,176.6 468.5,177 C463.83,177.4 455.92,176.3 452,174.8 C448.08,173.3 447.72,168.8 445,168 C442.28,167.2 439.58,170.03 435.7,170 C431.82,169.97 425.98,169.13 421.7,167.8 C417.42,166.47 411.95,164.35 410,162 C408.05,159.65 411.93,156.25 410,153.7 C408.07,151.15 402.28,149.03 398.4,146.7 C394.52,144.37 389.68,141.9 386.7,139.7 C383.72,137.5 380.87,135.78 380.5,133.5Z" fill="#c0c0c0"/><g fill="url(#lobe)">
<path d="M545.7,136.48 C541.71,129.66 540.55,128.46 534.33,126.17 C528.1,123.88 528.48,120.07 524.94,128.84 C521.4,137.62 523.2,147.43 522.54,155.42 C521.88,163.42 515.23,157.43 522.74,155.5 C530.25,153.57 540.12,150.97 547.58,148.99 C555.05,147.01 548.19,152.65 547.63,148.9 C547.06,145.14 549.69,143.29 545.7,136.48Z"/>
<path d="M604.02,155.69 C602.12,148.8 599.37,141.55 598.42,133.2 C597.47,124.85 597.35,130.68 600.84,127.86 C604.34,125.05 606.94,124.98 610.07,123.83 C613.21,122.68 604.55,118.32 611.3,124.04 C618.04,129.76 634.51,133.26 632.55,142.89 C630.59,152.53 613.31,152.31 604.75,156.15 C596.19,159.99 605.92,162.57 604.02,155.69Z"/>
<path d="M340.2,66.6 C300.03,62.39 284.49,65.19 260.79,72.22 C237.09,79.26 223.53,77.77 261.2,90.04 C298.87,102.32 346.32,107.31 386.35,113.14 C426.38,118.98 391.01,112.17 394.64,109.49 C398.27,106.81 398.43,111.18 398.45,104.21 C398.47,97.23 412.17,97.53 394.7,86.24 C377.22,74.96 380.37,70.81 340.2,66.6Z"/>
<path d="M553.39,166.4 C549.41,174.94 543.79,181.75 534.69,178.86 C525.6,175.97 519.1,165.32 523.07,156.78 C527.05,148.24 538.85,147.51 547.95,150.39 C557.04,153.28 557.36,157.86 553.39,166.4Z"/>
<path d="M496.77,78.64 C489.27,77.52 483.74,67.76 480.04,59.04 C476.34,50.32 478.52,51.97 484.45,49.58 C490.38,47.19 493.64,47.11 499.82,51.07 C506,55.03 505.97,54.51 505.05,62.78 C504.14,71.05 504.28,79.76 496.77,78.64Z"/>
<path d="M482.76,-116.84 C492.34,-157.08 511.92,-120.4 531.48,-119.98 C551.03,-119.55 545.91,-159.03 547.95,-115.42 C549.98,-71.81 547.43,-20.61 538.27,25.38 C529.1,71.38 525.06,34.54 517.39,37.9 C509.72,41.26 518.04,43.71 512.69,36.59 C507.34,29.47 508.53,60.19 499.55,14.16 C490.57,-31.87 473.18,-76.6 482.76,-116.84Z"/>
<path d="M452.96,154.87 C445.94,144.55 442.07,144.04 438.08,161.13 C434.09,178.22 436.92,186.9 439.66,211.84 C442.4,236.78 440.67,249.15 447.22,244.26 C453.77,239.38 459.77,222.37 461.49,195.55 C463.21,168.73 459.98,165.2 452.96,154.87Z"/>
<path d="M421.67,132.73 C417.62,131.15 419.18,130.68 413.61,133.93 C408.03,137.19 405.48,135.7 403.08,143.57 C400.69,151.44 401.71,154.78 405.62,160.17 C409.52,165.55 409.67,163.09 416.09,161.52 C422.51,159.95 423.7,161.64 427.01,154.94 C430.31,148.24 428.7,145.86 427.1,139.2 C425.5,132.54 425.71,134.31 421.67,132.73Z"/>
<path d="M525.86,52.58 C520.61,48.4 514.22,46.96 518.11,39.1 C522.01,31.23 530.02,25.83 538.86,26.36 C547.7,26.89 548.55,32.87 547.59,40.87 C546.62,48.87 542.15,49.52 535.63,53.03 C529.12,56.55 531.12,56.76 525.86,52.58Z"/>
<path d="M609.2,65.48 C615.09,66.26 611.02,72.51 609.85,65.26 C608.69,58.01 611.41,47.93 605.31,41.31 C599.21,34.69 595.96,40.41 589.52,43.18 C583.08,45.96 583.65,44.72 583.85,50.57 C584.05,56.41 582.59,58.19 590.19,62.66 C597.8,67.14 603.3,64.7 609.2,65.48Z"/>
<path d="M609.45,167.39 C648.7,178.11 696.4,196.38 736.09,192.96 C775.78,189.53 772.67,170.69 741.76,155.98 C710.84,141.27 673.99,143.56 633.04,143.93 C592.1,144.3 612.34,150.18 605.26,157.22 C598.19,164.26 570.2,156.67 609.45,167.39Z"/>
<path d="M609.16,98.18 C606.25,107.04 609.62,114.79 610.35,121.98 C611.08,129.17 599.91,128.93 611.58,122.14 C623.25,115.35 646.71,108.24 649.24,99.34 C651.78,90.44 632.06,92.81 620.03,92.47 C608.01,92.12 612.06,89.33 609.16,98.18Z"/>
<path d="M478.3,58.22 C472.93,62.91 472.23,68.27 464.88,64.44 C457.53,60.61 453.22,54.11 453.79,45.46 C454.37,36.81 458.52,35.79 466.78,35.61 C475.04,35.43 476.52,40.88 481.33,44.84 C486.14,48.8 483.71,44.79 482.8,48.8 C481.89,52.81 483.68,53.53 478.3,58.22Z"/>
<path d="M359.79,59.55 C378,57.85 388.68,60.15 401.08,60.42 C413.49,60.69 400.56,55.21 401.14,60.46 C401.72,65.71 404.77,70.69 403.01,77.92 C401.25,85.16 414.07,88.13 395.27,84.58 C376.48,81.04 351.01,73.62 340.37,66.11 C329.72,58.6 341.57,61.26 359.79,59.55Z"/>
<path d="M385.99,114.99 C348.05,100.63 300.14,84.58 261.15,90.31 C222.15,96.05 253.06,105.54 256.01,134.11 C258.96,162.69 246.25,175.99 270.98,185.56 C295.72,195.13 303.47,180.23 338.46,166.02 C373.46,151.81 373.36,153.5 387.62,138.19 C401.88,122.89 423.93,129.36 385.99,114.99Z"/>
<path d="M450.01,86.23 C457.67,87.05 462.99,90.23 469.05,96.63 C475.1,103.03 475.92,102.39 470.2,107.55 C464.49,112.72 456.67,112.28 450,113.84 C443.33,115.39 449.91,118.71 447.97,112.72 C446.02,106.73 442.91,101.82 443.53,93.87 C444.14,85.92 442.36,85.4 450.01,86.23Z"/>
<path d="M271.09,185.95 C291.11,176.85 299.9,173.05 338.71,166.89 C377.52,160.73 379.33,121.75 400.46,165.43 C421.6,209.1 423.45,273.38 409.16,312.47 C394.88,351.57 384.94,312.98 352.86,295.74 C320.78,278.49 326.49,284.55 302.23,255 C277.96,225.45 281.32,217.94 271.98,197.22 C262.64,176.51 251.07,195.05 271.09,185.95Z"/>
<path d="M579.67,161.46 C578.03,155.47 581.12,148.53 572.04,145.03 C562.96,141.53 556.21,148.35 549.4,149.81 C542.6,151.27 547.64,145.1 549.36,149.9 C551.07,154.69 551.96,160.13 555.11,165.8 C558.26,171.46 553.14,169.02 559.86,168.78 C566.59,168.55 571.59,167.2 577.53,165.01 C583.47,162.81 581.32,167.46 579.67,161.46Z"/>
<path d="M582.08,74.28 C574.93,69.13 569.45,69.32 563.05,68.35 C556.66,67.38 560.89,66.23 560.77,71.05 C560.64,75.87 558.9,77.8 562.65,84.42 C566.4,91.04 566,92.79 573.27,93.11 C580.54,93.44 584.24,91.15 586.89,85.5 C589.53,79.85 589.24,79.42 582.08,74.28Z"/>
<path d="M359.39,58.42 C374.09,49.58 374.86,85.09 389.08,35.9 C403.3,-13.3 417.67,-67.07 406.79,-105.56 C395.92,-144.05 385.02,-107.95 352.85,-92.4 C320.67,-76.85 325.44,-82.6 299.55,-53.74 C273.66,-24.88 278.4,-33.12 266.54,3.79 C254.68,40.69 261.76,48.9 260.02,69.27 C258.28,89.64 236.72,72.87 260.75,71.7 C284.77,70.52 310.51,69.34 340.11,65.36 C369.7,61.38 344.7,67.26 359.39,58.42Z"/>
<path d="M605.15,39.8 C610.44,38.66 607.07,81.05 606.97,37.54 C606.87,-5.96 609.72,-60.76 604.81,-105.22 C599.9,-149.68 597.75,-108.98 590.6,-110.65 C583.44,-112.33 585.22,-150.2 580.96,-110.8 C576.7,-71.4 573.89,-24.97 576.4,20.67 C578.9,66.3 580.69,35.58 589.32,41.32 C597.94,47.06 599.85,40.93 605.15,39.8Z"/>
<path d="M497.81,79.21 C495.18,84.42 492.21,79.67 497.92,81.04 C503.62,82.41 508.9,85.27 516.82,83.77 C524.73,82.27 523.61,82.29 524.3,76.04 C524.99,69.8 524.4,66.68 519.12,62.97 C513.84,59.25 513.09,58.8 506.69,63.68 C500.3,68.55 500.44,74 497.81,79.21Z"/>
<path d="M436.33,32.87 C437.01,-1.4 431.01,-70.4 423.75,-68.88 C416.5,-67.35 412.82,3.68 412.14,37.95 C411.46,72.22 414.23,46.88 421.49,45.36 C428.75,43.83 435.65,67.14 436.33,32.87Z"/>
<path d="M554.07,167.44 C547.04,170.25 545.25,149.84 535.35,179.84 C525.44,209.84 525.27,224.82 521.07,267.43 C516.86,310.04 518.12,305.02 521.32,321.87 C524.52,338.72 518.14,324.89 531.73,323.6 C545.32,322.31 558.5,363.52 566.62,317.58 C574.74,271.63 562.57,215.49 558.81,170.45 C555.05,125.41 561.11,164.62 554.07,167.44Z"/>
<path d="M497.43,167.79 C502.66,174.82 497.08,173.76 503.5,170.37 C509.92,166.99 519.27,164.41 518.83,156.51 C518.4,148.61 511.85,147.03 502.05,144.03 C492.25,141.04 490.95,145.65 486.15,146.53 C481.35,147.41 482.67,140.59 486.05,146.97 C489.43,153.35 492.19,160.77 497.43,167.79Z"/>
<path d="M582.33,49.38 C575.55,52.64 572.48,54.68 565.5,52.93 C558.52,51.18 556.08,53.04 559.06,43.54 C562.05,34.04 566.73,21.69 575.44,21.25 C584.15,20.81 586.03,33.64 588.09,42.07 C590.16,50.51 589.1,46.13 582.33,49.38Z"/>
<path d="M475.3,177.75 C465.14,185.64 471.09,175.95 462.83,195.95 C454.58,215.96 453.74,208.79 447.78,244.43 C441.83,280.08 435.44,290.93 442.99,314.76 C450.55,338.58 449.61,321.71 472.98,323.84 C496.36,325.98 506.68,338.79 520.92,321.87 C535.15,304.95 525.84,312.41 520.42,267.43 C515.01,222.45 510,201.28 502.88,171.94 C495.76,142.6 504.97,167.9 496.69,169.64 C488.42,171.38 485.46,169.85 475.3,177.75Z"/>
<path d="M565.77,114.66 C557.36,112.99 550.25,108.02 543.29,104.46 C536.32,100.9 542.48,104.09 542.55,102.79 C542.62,101.5 537.83,105.28 543.53,100.16 C549.24,95.04 552.97,87.46 561.57,85.73 C570.18,84.01 569.28,87.12 572.21,94.41 C575.14,101.7 573.26,103.95 571.33,110.03 C569.4,116.1 574.18,116.33 565.77,114.66Z"/>
<path d="M454.54,138.11 C460.99,136.76 467.36,135.05 475.06,135.1 C482.76,135.16 477.44,135.01 480.21,138.3 C482.98,141.58 483.11,143.6 484.3,146.06 C485.49,148.52 487.3,143.52 484.18,146.5 C481.07,149.48 482.83,153.99 473.92,156.01 C465,158.03 460.58,158.16 454.47,153.23 C448.37,148.31 453.55,144.14 453.57,139.6 C453.59,135.06 448.09,139.46 454.54,138.11Z"/>
<path d="M422.95,131.61 C422.9,126.07 421.23,124.55 428.45,119.42 C435.67,114.28 440.83,115.63 447.01,114.48 C453.19,113.33 447.3,108.82 449.06,115.58 C450.81,122.34 452.01,130.14 452.87,137.02 C453.72,143.9 459.18,138.25 451.9,138.51 C444.62,138.77 437.29,139.96 428.61,137.89 C419.92,135.82 423,137.15 422.95,131.61Z"/>
<path d="M575.55,136.92 C566.58,133.33 569.28,126.63 566.7,120.39 C564.12,114.15 565.2,118.76 566.96,116.11 C568.73,113.47 566.6,112.21 572.59,111.57 C578.59,110.93 579,109.32 586.95,113.97 C594.91,118.62 596.22,121.55 599.12,127.06 C602.01,132.58 603.68,129.4 596.61,132.36 C589.54,135.31 584.53,140.51 575.55,136.92Z"/>
<path d="M450.47,115.33 C455.36,107 464.43,110.78 470.66,109 C476.88,107.23 469.96,102.03 471.21,109.41 C472.47,116.8 479.9,125.41 474.84,133.62 C469.78,141.82 461.65,142.24 454.34,136.76 C447.03,131.27 445.57,123.65 450.47,115.33Z"/>
<path d="M507.79,126 C505.68,120.08 502.45,118.98 494.7,122.4 C486.96,125.81 484.61,130.54 481.97,137.39 C479.34,144.24 480,143.8 485.92,145.23 C491.85,146.65 495.16,147.92 501.72,142.15 C508.28,136.38 509.89,131.93 507.79,126Z"/>
<path d="M574.54,20.59 C567.75,66.68 565.7,37.01 558.08,42.81 C550.45,48.62 554.47,45.13 549.12,39.94 C543.78,34.75 540.54,72.11 540.26,25.51 C539.99,-21.1 536.07,-74.51 548.2,-115.41 C560.34,-156.3 572.81,-151.61 580.71,-110.81 C588.62,-70.01 581.34,-25.5 574.54,20.59Z"/>
<path d="M546.83,135.22 C538.02,136.65 536.63,133.83 535.39,124.99 C534.15,116.14 533.77,108.45 542.7,105.74 C551.64,103.04 558.56,111.62 565.18,115.97 C571.79,120.32 570.26,114.46 564.75,120.24 C559.25,126.01 555.64,133.79 546.83,135.22Z"/>
<path d="M421.42,130.94 C417.41,134.93 420.9,138.05 413.33,131.96 C405.77,125.86 400.18,118.6 396.2,110.63 C392.22,102.65 393.56,107.31 400.06,105.37 C406.56,103.44 409.87,100.2 417.87,104.18 C425.86,108.16 425.63,110.62 426.7,118.64 C427.76,126.67 425.43,126.94 421.42,130.94Z"/>
<path d="M473.75,176.73 C470.25,188.13 467.92,202.06 462.04,195.44 C456.16,188.81 456.46,166.96 454.14,154.63 C451.82,142.31 448.44,153.51 454.31,154.35 C460.18,155.18 467.87,150.7 473.7,157.42 C479.54,164.13 477.24,165.32 473.75,176.73Z"/>
<path d="M522.02,99.45 C521.07,105.96 520.55,106.98 513.35,107.29 C506.14,107.6 502.73,107.92 498,100.48 C493.28,93.03 497.68,87.93 497.59,82.48 C497.51,77.02 492.04,81.37 497.72,82.3 C503.4,83.23 509.24,80.43 516.53,85.57 C523.82,90.72 522.98,92.93 522.02,99.45Z"/>
<path d="M607.86,98.25 C611.06,106.03 611.61,113.66 609.28,122.04 C606.95,130.42 606.38,128.97 600.1,126.18 C593.81,123.39 588.76,121.76 588.32,112.74 C587.88,103.72 592.77,100.47 598.63,96.12 C604.5,91.77 604.67,90.48 607.86,98.25Z"/>
<path d="M609.76,67.05 C615.04,61.05 610.06,66.8 610.41,66.79 C610.76,66.79 608.27,59.78 610.93,67.04 C613.59,74.29 620.06,82.15 619.27,90.99 C618.48,99.82 614.34,95.49 608.28,96.48 C602.22,97.46 603.7,97.18 599.07,94.27 C594.43,91.37 589.63,94.96 592.83,86.79 C596.04,78.62 604.49,73.04 609.76,67.05Z"/>
<path d="M541.83,99.57 C540.46,92.17 541.27,84.24 536.4,77.57 C531.54,70.9 531.12,75.11 525.61,77.33 C520.11,79.55 518.68,78.52 518.05,84.98 C517.41,91.43 516.62,93.68 523.5,98.86 C530.38,104.05 535.48,102.04 540.98,102.25 C546.47,102.46 543.2,106.97 541.83,99.57Z"/>
<path d="M424.07,91.65 C423.39,98.07 424.97,98.75 417.73,102.42 C410.5,106.1 406.35,108.86 399.95,103.9 C393.54,98.94 395.08,93.25 396.38,85.9 C397.68,78.56 397.18,80.88 404.27,79.42 C411.36,77.96 414.07,77.35 420.01,81.02 C425.95,84.69 424.76,85.23 424.07,91.65Z"/>
<path d="M425.77,91 C431.88,94.68 435.24,94.43 442.09,92.65 C448.95,90.86 446.42,90.1 448.62,85.04 C450.83,79.98 454.03,81.54 449.44,75.79 C444.85,70.04 439.2,68.79 433.32,65.89 C427.45,62.98 433.34,61.76 429.86,66.1 C426.38,70.45 422.95,72.9 421.72,80.37 C420.49,87.84 419.66,87.32 425.77,91Z"/>
<path d="M395.41,111.26 C403.01,116.58 410.51,123.37 412.45,132.66 C414.39,141.96 408.89,140.63 401.88,142.25 C394.86,143.88 393.49,146.29 389.07,138.08 C384.64,129.88 385.22,122.96 387.12,114.91 C389.03,106.86 387.82,105.93 395.41,111.26Z"/>
<path d="M561.54,67.06 C562.95,62.33 565.18,60.72 563.97,53.98 C562.76,47.25 562.13,48.28 557.5,44.61 C552.87,40.95 554.71,38.88 548.54,41.78 C542.36,44.68 538.39,45.88 536.93,54.27 C535.46,62.66 536.94,65.09 543.64,69.74 C550.34,74.39 553.88,70.57 559.25,69.76 C564.62,68.96 560.12,71.8 561.54,67.06Z"/>
<path d="M450.57,85.2 C456.09,91.09 462.21,95.22 469.63,95.57 C477.04,95.92 476.91,94.79 475.29,86.36 C473.67,77.93 471.43,70.59 464.22,67.46 C457.01,64.33 455.33,70.61 451.24,75.93 C447.15,81.26 445.06,79.31 450.57,85.2Z"/>
<path d="M541.45,105.26 C539.38,111.49 538.92,117.84 533.81,124.37 C528.71,130.91 530.19,127.63 524.43,127.04 C518.67,126.46 517.57,127.95 514.62,122.43 C511.66,116.9 512,115.15 514.57,108.63 C517.13,102.11 515.32,102.22 523.17,100.7 C531.02,99.19 535.25,102.22 540.74,103.58 C546.22,104.95 543.53,99.02 541.45,105.26Z"/>
<path d="M471.79,107.42 C471.4,104.01 469.5,102.47 471.03,96.46 C472.57,90.44 469.33,91.56 476.9,87.37 C484.47,83.18 490.49,78.55 496.26,82.49 C502.03,86.42 498.39,92.85 496.13,100.49 C493.87,108.13 495.86,105.77 488.73,107.96 C481.6,110.16 477.44,107.98 472.36,107.81 C467.28,107.65 472.19,110.82 471.79,107.42Z"/>
<path d="M434.13,64.57 C433.37,55.86 442.23,50.91 447.76,45.4 C453.28,39.88 447.73,40.29 452.54,46.19 C457.35,52.1 460.56,59.13 463.79,65.09 C467.02,71.04 467.36,63.25 463.31,66.05 C459.25,68.86 459.02,74.88 450.27,74.44 C441.52,73.99 434.88,73.28 434.13,64.57Z"/>
<path d="M571.73,143.62 C564.25,146.92 556.38,150.91 549.16,148.69 C541.94,146.46 542.78,144.49 547.66,136.21 C552.55,127.92 557.52,120.61 565.44,121.06 C573.37,121.5 572.2,130.92 574.09,137.69 C575.98,144.46 579.21,140.32 571.73,143.62Z"/>
<path d="M482.12,43.6 C491.19,37.64 497.77,62.49 497.87,14.36 C497.98,-33.76 489.85,-77.24 482.48,-116.81 C475.11,-156.37 479.74,-118.25 473.31,-117.52 C466.89,-116.79 462.75,-159.89 461.06,-114.36 C459.36,-68.84 461.34,-13.16 467.66,34.23 C473.98,81.62 473.06,49.56 482.12,43.6Z"/>
<path d="M448.07,43.47 C452.43,46.96 447.55,46.98 452.86,44.23 C458.18,41.48 463.38,81.88 465.78,34.31 C468.19,-13.27 473.89,-71.64 460.88,-114.36 C447.86,-157.07 433.44,-121.72 422.4,-108.09 C411.36,-94.45 419.29,-111.13 424.06,-68.92 C428.84,-26.71 431.11,-1.11 438.32,32.61 C445.52,66.33 443.71,39.99 448.07,43.47Z"/>
<path d="M611.24,65 C609.72,57.74 607.52,48.91 606.7,41.05 C605.89,33.18 577.94,37.55 608.52,38.79 C639.1,40.03 707.66,37.25 708.63,45.19 C709.6,53.12 640.98,59.29 611.76,65.23 C582.54,71.18 612.75,72.25 611.24,65Z"/>
<path d="M359.79,58.97 C356.52,52.52 377.91,42.04 390.18,37.39 C402.44,32.73 397.39,37 400.67,43.45 C403.94,49.9 413.36,54.23 401.1,58.88 C388.83,63.54 363.07,65.42 359.79,58.97Z"/>
<path d="M581.35,162.47 C588.47,159.88 596.25,158.77 602.96,157.38 C609.66,156 602.3,154.62 603.69,157.84 C605.09,161.07 610.38,149.46 607.6,168.13 C604.81,186.8 602.91,220.71 594.4,220.08 C585.9,219.46 583.16,183.32 579.24,166.03 C575.33,148.75 574.24,165.07 581.35,162.47Z"/>
<path d="M708.65,44.93 C669.23,43.42 639.69,82.55 608.61,37.51 C577.52,-7.54 591.99,-66.07 605.03,-105.23 C618.08,-144.38 622.22,-108.53 652.09,-93.02 C681.97,-77.52 679.27,-82.74 704.63,-53.54 C729.99,-24.34 726.02,-24.51 736.63,4.31 C747.24,33.13 748.39,30.35 739.99,42.53 C731.6,54.72 748.06,46.43 708.65,44.93Z"/>
<path d="M591.44,87.94 C594.42,90.52 598.86,88.24 597.61,95.48 C596.35,102.72 594.68,107.68 587.24,112.07 C579.8,116.47 576.76,115.39 572.81,110.13 C568.86,104.87 569.61,101.51 574.07,94.54 C578.52,87.56 582.45,88.85 587.66,86.87 C592.87,84.89 588.45,85.36 591.44,87.94Z"/>
<path d="M499.97,49.23 C507.95,46.02 511.57,47.83 511.14,37.48 C510.71,27.12 506.94,12.72 498.55,14.73 C490.17,16.73 487.4,34.14 483.21,44.17 C479.01,54.21 479.54,46.65 484.57,48.17 C489.6,49.69 492,52.44 499.97,49.23Z"/>
<path d="M401.56,41.86 C407.4,42.35 403.76,70.97 410.37,37.75 C416.97,4.52 420.07,-25.15 423.58,-68.9 C427.08,-112.64 424.66,-96.28 422.04,-108.07 C419.42,-119.86 419.37,-108.96 414.85,-108.2 C410.32,-107.44 414.15,-148.84 406.96,-105.54 C399.78,-62.25 392.51,-8.11 390.89,36.11 C389.27,80.33 395.71,41.37 401.56,41.86Z"/>
<path d="M513.84,124.07 C518.22,124.75 521.31,119.35 523.63,128.73 C525.94,138.11 522.79,147.27 521.55,155.34 C520.31,163.41 525.04,159.43 519.51,155.63 C513.97,151.82 506.24,151.41 503.1,142.66 C499.96,133.91 505.81,132.04 509.03,126.46 C512.25,120.89 509.46,123.39 513.84,124.07Z"/>
<path d="M446.78,244.37 C445.72,213.56 448.21,236.28 438.91,212.01 C429.62,187.75 425.86,178.56 415.8,163.49 C405.74,148.42 409.57,161.21 405.38,161.77 C401.19,162.33 400.64,120.14 401.82,165.35 C403,210.56 405.74,267.82 409.32,312.47 C412.91,357.12 403.83,313.51 413.77,314.19 C423.71,314.86 432.55,335.67 442.45,314.72 C452.35,293.78 447.84,275.18 446.78,244.37Z"/>
<path d="M495.95,79.35 C501.06,85.74 496.11,80.58 496.12,81.18 C496.14,81.78 501.89,80.02 496,81.36 C490.11,82.69 485.76,89.97 476.49,85.64 C467.22,81.31 468.38,72.84 465.1,66.93 C461.83,61.03 461.39,68.08 465.57,65.96 C469.76,63.85 469.95,55.86 479.06,59.88 C488.17,63.9 490.83,72.96 495.95,79.35Z"/>
<path d="M402.34,58.87 C402.31,54.22 399.66,49.3 402.29,43.42 C404.91,37.55 405.61,38.35 411.09,39.29 C416.57,40.24 417.62,41.44 420.55,46.57 C423.48,51.69 426.31,52.68 420.86,56.39 C415.42,60.09 407.95,58.17 402.39,58.91 C396.84,59.65 402.37,63.51 402.34,58.87Z"/>
<path d="M420.18,79.48 C412.95,83.21 409.72,83.52 404.45,77.77 C399.17,72.02 397.61,66.32 402.59,60.31 C407.57,54.3 413.27,56.23 421.05,57.73 C428.83,59.24 428.78,58.81 428.52,65.33 C428.26,71.85 427.4,75.74 420.18,79.48Z"/>
<path d="M580.99,160.86 C572.26,157.36 575.08,151.08 573.55,144.34 C572.02,137.6 568.88,141.62 575.88,138.4 C582.88,135.17 588.85,128.3 596.88,133.59 C604.91,138.88 607.41,147.85 602.65,156.03 C597.88,164.22 589.72,164.37 580.99,160.86Z"/>
<path d="M427.91,156.45 C422.03,156.98 413.54,146.33 416.95,162.95 C420.35,179.58 433.38,212.38 439.26,211.85 C445.14,211.32 439.95,177.82 436.54,161.2 C433.14,144.58 433.79,155.92 427.91,156.45Z"/>
<path d="M425.61,92.55 C418.81,95.27 418.54,95.74 419.27,103.33 C420,110.91 419.83,114.91 428.04,117.83 C436.25,120.75 442.47,120.12 446.64,113.05 C450.8,105.98 448.23,100.41 441.93,94.26 C435.62,88.11 432.41,89.83 425.61,92.55Z"/>
<path d="M560.7,84.66 C565.63,76.23 564.38,75.14 559.27,71.23 C554.15,67.32 550.11,69.82 543.66,71.62 C537.22,73.43 538.02,68.93 537.78,77.24 C537.53,85.55 535.98,97.1 542.86,99.32 C549.74,101.55 555.78,93.09 560.7,84.66Z"/>
<path d="M474.92,176.74 C468.63,173.44 472.23,166.21 475.29,157.43 C478.36,148.65 478.84,144.16 485.12,147.47 C491.4,150.77 499.29,159.66 496.23,168.44 C493.17,177.22 481.2,180.04 474.92,176.74Z"/>
<path d="M428.58,139.2 C421.63,143.77 426.07,148.83 428.72,154.94 C431.38,161.04 430.32,159.93 437.44,159.54 C444.56,159.15 447.9,155.49 452.45,153.63 C457.01,151.77 452.8,157.52 452.63,153.35 C452.45,149.17 459.08,143.95 451.87,139.7 C444.65,135.46 435.52,134.63 428.58,139.2Z"/>
<path d="M519.81,157.57 C514.65,161.89 504.37,138.69 504.65,171.63 C504.93,204.57 512.12,265.01 520.74,267.38 C529.35,269.75 532.99,212.56 533.38,179.54 C533.77,146.52 525.5,164.01 522.04,157.32 C518.58,150.63 522.51,157.16 521.84,157.24 C521.17,157.32 524.96,153.26 519.81,157.57Z"/>
<path d="M506.6,62.08 C511.93,65.35 513.69,63.93 519.02,61.34 C524.35,58.74 525.02,59.88 524.36,53.43 C523.71,46.98 520.49,44.32 516.83,39.82 C513.17,35.32 516.84,35.25 512.16,38.43 C507.49,41.61 502.92,43.33 501.25,50.42 C499.59,57.52 501.27,58.81 506.6,62.08Z"/>
<path d="M594.97,220.23 C590.25,263.92 576.02,290.93 593.49,314.18 C610.96,337.43 619.75,314.85 653.2,297.72 C686.66,280.59 680.26,286.84 705.01,257.08 C729.76,227.33 726.38,217.74 735.69,198.55 C745.01,179.36 774,202.12 736.06,193.12 C698.12,184.13 651.55,160.43 609.22,168.56 C566.89,176.69 599.68,176.55 594.97,220.23Z"/>
<path d="M388.51,139.82 C369.71,146.6 335.13,159.21 338.7,166.44 C342.27,173.68 380.81,165.74 400.41,163.93 C420.02,162.12 403.75,166.44 404.04,160.41 C404.33,154.39 406.03,150.02 401.37,143.84 C396.71,137.66 407.31,133.04 388.51,139.82Z"/>
<path d="M620.52,90.55 C631.74,100.07 612.08,96.88 649.48,98.38 C686.89,99.88 715.65,104.3 745.2,95.54 C774.75,86.78 749.54,84.95 747.98,69.17 C746.43,53.4 751.81,50.05 740.03,42.94 C728.24,35.83 747.08,38.37 708.69,45.47 C670.3,52.58 638.51,53.12 612.06,66.64 C585.6,80.16 609.29,81.03 620.52,90.55Z"/>
<path d="M577.84,166.44 C567.73,151.49 563.54,125.04 560.21,170.38 C556.89,215.72 557.53,274.12 566.76,317.57 C576,361.02 583.08,316.23 590.99,315.21 C598.9,314.2 592.25,342.67 593.13,314.18 C594.02,285.68 598.52,264.54 593.94,220.22 C589.35,175.9 587.96,181.39 577.84,166.44Z"/>
<path d="M536.45,75.84 C541.47,74.27 542.67,76.57 542.4,70.28 C542.13,64 540.53,59.65 535.54,54.88 C530.55,50.1 530.25,52.11 525.78,54.36 C521.3,56.61 520.65,56.04 520.61,62.38 C520.58,68.73 520.91,71.47 525.66,75.51 C530.41,79.55 531.43,77.41 536.45,75.84Z"/>
<path d="M612.15,123.08 C617.04,110.39 609.62,107.96 649.53,99.81 C689.45,91.67 715.46,85.65 745.21,95.93 C774.97,106.21 749.74,116.17 748.72,134.09 C747.69,152.01 776.43,153.27 741.79,155.67 C707.16,158.07 672.15,151.88 633.26,142.1 C594.37,132.32 607.27,135.76 612.15,123.08Z"/>
<path d="M476.14,133.42 C478.8,141.67 475.99,140.35 481.2,136.75 C486.41,133.15 491.27,129.5 493.52,121.42 C495.76,113.34 495.05,113.47 488.69,109.82 C482.33,106.17 476.09,102.16 472.33,109.24 C468.56,116.32 473.48,125.16 476.14,133.42Z"/>
<path d="M588.59,63.47 C588.63,57.01 589.52,53.9 582.68,51.15 C575.84,48.41 571.58,49.45 565.78,54.32 C559.97,59.19 558.3,61.89 563.33,67.4 C568.36,72.91 574.97,73.87 582.55,72.69 C590.13,71.52 588.55,69.93 588.59,63.47Z"/>
<path d="M429.72,64.19 C426.51,61.93 424.65,61.66 422.49,56.36 C420.32,51.07 418.13,53.33 422.51,46.54 C426.88,39.74 429.8,34.28 437.07,33.72 C444.33,33.16 447.9,35.62 446.73,44.67 C445.56,53.72 438.28,58.04 433.18,63.9 C428.07,69.75 432.93,66.45 429.72,64.19Z"/>
<path d="M609.07,66.45 C609.67,72.95 598.24,80.49 591.98,86.05 C585.72,91.6 590.64,88.71 588.21,84.96 C585.77,81.22 583.33,79.73 583.86,73.56 C584.39,67.39 582.41,66.52 589.97,64.38 C597.54,62.25 608.47,59.95 609.07,66.45Z"/>
<path d="M513.07,122.45 C514.44,117.65 517.43,114.86 512.74,108.65 C508.04,102.45 504.24,101.6 497.42,101.77 C490.61,101.95 490.69,103.57 490.02,109.24 C489.35,114.91 489.75,116.06 495.2,120.69 C500.65,125.31 502.82,124.13 508.18,124.66 C513.54,125.19 511.7,127.25 513.07,122.45Z"/>
</g></g></g>
<g style="mix-blend-mode:multiply" filter="url(#sb)">
<path d="M450.2,78 C451.42,75.57 455.1,72.83 459,72.1 C462.9,71.37 469.72,75.05 473.6,73.6 C477.48,72.15 479.63,66.08 482.3,63.4 C484.97,60.72 487.88,57.27 489.6,57.5 C491.32,57.73 490.4,62.85 492.6,64.8 C494.8,66.75 499.9,67 502.8,69.2 C505.7,71.4 509.03,75.32 510,78 C510.97,80.68 509.57,83.37 508.6,85.3 C507.63,87.23 504.2,87.9 504.2,89.6 C504.2,91.3 506.4,93.07 508.6,95.5 C510.8,97.93 514.48,101.78 517.4,104.2 C520.32,106.62 524.88,108.03 526.1,110 C527.32,111.97 527.38,115.5 524.7,116 C522.02,116.5 513.9,114 510,113 C506.1,112 504.2,110 501.3,110 C498.4,110 495.52,112.5 492.6,113 C489.68,113.5 486.73,113.97 483.8,113 C480.87,112.03 477.43,109.15 475,107.2 C472.57,105.25 471.38,104.47 469.2,101.3 C467.02,98.13 464.82,90.63 461.9,88.2 C458.98,85.77 453.65,88.4 451.7,86.7 C449.75,85 448.98,80.43 450.2,78Z" fill="#62b4f0"/>
<path d="M429,136 C429.5,133 430.33,129.58 433,128 C435.67,126.42 440.83,127.17 445,126.5 C449.17,125.83 453.83,124.08 458,124 C462.17,123.92 466.33,125.92 470,126 C473.67,126.08 476.5,124.5 480,124.5 C483.5,124.5 488.83,124.42 491,126 C493.17,127.58 493.17,131.5 493,134 C492.83,136.5 492.5,139.67 490,141 C487.5,142.33 480.83,140.83 478,142 C475.17,143.17 475.5,146.25 473,148 C470.5,149.75 466.83,151.92 463,152.5 C459.17,153.08 454.17,151.92 450,151.5 C445.83,151.08 441.33,150.92 438,150 C434.67,149.08 431.5,148.33 430,146 C428.5,143.67 428.5,139 429,136Z" fill="#f062f0"/>
<path d="M493,142 C494.33,140.08 496.83,138.83 500,138.5 C503.17,138.17 508.67,138.75 512,140 C515.33,141.25 517.67,144.33 520,146 C522.33,147.67 524.33,148.5 526,150 C527.67,151.5 530.67,153.67 530,155 C529.33,156.33 525.33,157 522,158 C518.67,159 513.67,160.17 510,161 C506.33,161.83 502.67,163.5 500,163 C497.33,162.5 495.33,160.17 494,158 C492.67,155.83 492.17,152.67 492,150 C491.83,147.33 491.67,143.92 493,142Z" fill="#f6f26a"/>
</g>
<g opacity="0.8">
<path d="M574,92 C575,91 577,87.17 580,86 C583,84.83 588.67,84.67 592,85 C595.33,85.33 598.17,86.83 600,88 C601.83,89.17 602.5,91.33 603,92" fill="none" stroke="#c06060" stroke-width="2.3" stroke-linecap="round" stroke-linejoin="round"/><path d="M574,92 C575,91 577,87.17 580,86 C583,84.83 588.67,84.67 592,85 C595.33,85.33 598.17,86.83 600,88 C601.83,89.17 602.5,91.33 603,92" fill="none" stroke="#e09090" stroke-width="1.4" stroke-linecap="round" stroke-linejoin="round"/>
<path d="M561.43,93.38 L560.46,97 L562.09,91.58 L563.05,87.96ZM560.46,97 L560.74,100.82 L562.37,95.4 L562.09,91.58ZM560.74,100.82 L562.22,104.55 L563.84,99.13 L562.37,95.4ZM556.43,110.04 L555.46,113.66 L557.09,108.25 L558.05,104.63ZM555.46,113.66 L555.74,117.49 L557.37,112.07 L557.09,108.25ZM555.74,117.49 L557.22,121.21 L558.84,115.8 L557.37,112.07ZM551.43,126.71 L550.46,130.33 L552.09,124.91 L553.05,121.29ZM550.46,130.33 L550.74,134.15 L552.37,128.73 L552.09,124.91ZM550.74,134.15 L552.22,137.88 L553.84,132.46 L552.37,128.73Z" fill="#945c5c" stroke="#945c5c" stroke-width="0.35" stroke-linejoin="round"/>
<path d="M562.22,104.55 L564.72,107.9 L566.34,102.48 L563.84,99.13ZM564.72,107.9 L567.97,110.63 L569.6,105.21 L566.34,102.48ZM557.22,121.21 L559.72,124.57 L561.34,119.15 L558.84,115.8ZM559.72,124.57 L562.97,127.3 L564.6,121.88 L561.34,119.15ZM552.22,137.88 L554.72,141.23 L556.34,135.81 L553.84,132.46ZM554.72,141.23 L557.97,143.96 L559.6,138.55 L556.34,135.81Z" fill="#a66767" stroke="#a66767" stroke-width="0.35" stroke-linejoin="round"/>
<path d="M567.97,110.63 L571.64,112.55 L573.27,107.13 L569.6,105.21ZM571.64,112.55 L575.34,113.56 L576.96,108.14 L573.27,107.13ZM575.34,113.56 L578.68,113.64 L580.3,108.22 L576.96,108.14ZM578.68,113.64 L581.31,112.85 L582.93,107.44 L580.3,108.22ZM581.31,112.85 L582.95,111.37 L584.57,105.96 L582.93,107.44ZM562.97,127.3 L566.64,129.22 L568.27,123.8 L564.6,121.88ZM566.64,129.22 L570.34,130.23 L571.96,124.81 L568.27,123.8ZM570.34,130.23 L573.68,130.3 L575.3,124.88 L571.96,124.81ZM573.68,130.3 L576.31,129.52 L577.93,124.1 L575.3,124.88ZM576.31,129.52 L577.95,128.04 L579.57,122.62 L577.93,124.1ZM557.97,143.96 L561.64,145.89 L563.27,140.47 L559.6,138.55ZM561.64,145.89 L565.34,146.89 L566.96,141.48 L563.27,140.47ZM565.34,146.89 L568.68,146.97 L570.3,141.55 L566.96,141.48ZM568.68,146.97 L571.31,146.19 L572.93,140.77 L570.3,141.55ZM571.31,146.19 L572.95,144.71 L574.57,139.29 L572.93,140.77Z" fill="#b97373" stroke="#b97373" stroke-width="0.35" stroke-linejoin="round"/>
<path d="M561.43,93.38 L560.46,97 L560.74,100.82 L562.22,104.55 L564.72,107.9 L567.97,110.63 L571.64,112.55 L575.34,113.56 L578.68,113.64 L581.31,112.85 L582.95,111.37M563.05,87.96 L562.09,91.58 L562.37,95.4 L563.84,99.13 L566.34,102.48 L569.6,105.21 L573.27,107.13 L576.96,108.14 L580.3,108.22 L582.93,107.44 L584.57,105.96M556.43,110.04 L555.46,113.66 L555.74,117.49 L557.22,121.21 L559.72,124.57 L562.97,127.3 L566.64,129.22 L570.34,130.23 L573.68,130.3 L576.31,129.52 L577.95,128.04M558.05,104.63 L557.09,108.25 L557.37,112.07 L558.84,115.8 L561.34,119.15 L564.6,121.88 L568.27,123.8 L571.96,124.81 L575.3,124.88 L577.93,124.1 L579.57,122.62M551.43,126.71 L550.46,130.33 L550.74,134.15 L552.22,137.88 L554.72,141.23 L557.97,143.96 L561.64,145.89 L565.34,146.89 L568.68,146.97 L571.31,146.19 L572.95,144.71M553.05,121.29 L552.09,124.91 L552.37,128.73 L553.84,132.46 L556.34,135.81 L559.6,138.55 L563.27,140.47 L566.96,141.48 L570.3,141.55 L572.93,140.77 L574.57,139.29" fill="none" stroke="#b05050" stroke-width="0.4" stroke-opacity="0.7"/>
<path d="M570.54,86.19 L566.7,87.78 L568.32,82.36 L572.16,80.77ZM566.7,87.78 L563.57,90.23 L565.19,84.81 L568.32,82.36ZM573.9,102.45 L569.73,102.2 L571.36,96.78 L575.53,97.04ZM569.73,102.2 L565.54,102.86 L567.16,97.44 L571.36,96.78ZM565.54,102.86 L561.7,104.45 L563.32,99.03 L567.16,97.44ZM561.7,104.45 L558.57,106.9 L560.19,101.48 L563.32,99.03ZM568.9,119.12 L564.73,118.87 L566.36,113.45 L570.53,113.7ZM564.73,118.87 L560.54,119.52 L562.16,114.11 L566.36,113.45ZM560.54,119.52 L556.7,121.12 L558.32,115.7 L562.16,114.11ZM556.7,121.12 L553.57,123.56 L555.19,118.15 L558.32,115.7ZM563.9,135.79 L559.73,135.53 L561.36,130.11 L565.53,130.37ZM559.73,135.53 L555.54,136.19 L557.16,130.77 L561.36,130.11Z" fill="#de8a8a" stroke="#de8a8a" stroke-width="0.35" stroke-linejoin="round"/>
<path d="M563.57,90.23 L561.43,93.38 L563.05,87.96 L565.19,84.81ZM580.66,105.2 L577.66,103.52 L579.28,98.1 L582.28,99.79ZM577.66,103.52 L573.9,102.45 L575.53,97.04 L579.28,98.1ZM558.57,106.9 L556.43,110.04 L558.05,104.63 L560.19,101.48ZM575.66,121.87 L572.66,120.19 L574.28,114.77 L577.28,116.45ZM572.66,120.19 L568.9,119.12 L570.53,113.7 L574.28,114.77ZM553.57,123.56 L551.43,126.71 L553.05,121.29 L555.19,118.15ZM570.66,138.54 L567.66,136.85 L569.28,131.43 L572.28,133.12ZM567.66,136.85 L563.9,135.79 L565.53,130.37 L569.28,131.43Z" fill="#cb7e7e" stroke="#cb7e7e" stroke-width="0.35" stroke-linejoin="round"/>
<path d="M582.95,111.37 L583.41,109.42 L585.04,104 L584.57,105.96ZM583.41,109.42 L582.63,107.27 L584.26,101.85 L585.04,104ZM582.63,107.27 L580.66,105.2 L582.28,99.79 L584.26,101.85ZM577.95,128.04 L578.41,126.09 L580.04,120.67 L579.57,122.62ZM578.41,126.09 L577.63,123.93 L579.26,118.51 L580.04,120.67ZM577.63,123.93 L575.66,121.87 L577.28,116.45 L579.26,118.51ZM572.95,144.71 L573.41,142.75 L575.04,137.34 L574.57,139.29ZM573.41,142.75 L572.63,140.6 L574.26,135.18 L575.04,137.34ZM572.63,140.6 L570.66,138.54 L572.28,133.12 L574.26,135.18Z" fill="#b97373" stroke="#b97373" stroke-width="0.35" stroke-linejoin="round"/>
<path d="M570.54,86.19 L566.7,87.78 L563.57,90.23 L561.43,93.38M572.16,80.77 L568.32,82.36 L565.19,84.81 L563.05,87.96M582.95,111.37 L583.41,109.42 L582.63,107.27 L580.66,105.2 L577.66,103.52 L573.9,102.45 L569.73,102.2 L565.54,102.86 L561.7,104.45 L558.57,106.9 L556.43,110.04M584.57,105.96 L585.04,104 L584.26,101.85 L582.28,99.79 L579.28,98.1 L575.53,97.04 L571.36,96.78 L567.16,97.44 L563.32,99.03 L560.19,101.48 L558.05,104.63M577.95,128.04 L578.41,126.09 L577.63,123.93 L575.66,121.87 L572.66,120.19 L568.9,119.12 L564.73,118.87 L560.54,119.52 L556.7,121.12 L553.57,123.56 L551.43,126.71M579.57,122.62 L580.04,120.67 L579.26,118.51 L577.28,116.45 L574.28,114.77 L570.53,113.7 L566.36,113.45 L562.16,114.11 L558.32,115.7 L555.19,118.15 L553.05,121.29M572.95,144.71 L573.41,142.75 L572.63,140.6 L570.66,138.54 L567.66,136.85 L563.9,135.79 L559.73,135.53 L555.54,136.19M574.57,139.29 L575.04,137.34 L574.26,135.18 L572.28,133.12 L569.28,131.43 L565.53,130.37 L561.36,130.11 L557.16,130.77" fill="none" stroke="#b05050" stroke-width="0.4" stroke-opacity="0.7"/>
<path d="M602.25,90.12 L603.25,103.95 L601.26,121.81 L604.74,122.19 L606.75,104.05 L605.75,89.88Z" fill="#d84040" stroke="#a83030" stroke-width="0.5" stroke-linejoin="round"/>
</g>
<g opacity="0.8">
<path d="M578.42,185.12 L581.15,184.51 L574.09,184.88 L571.36,185.49ZM588.22,172.15 L587.81,169.52 L580.75,169.9 L581.16,172.53ZM587.81,169.52 L586.89,167.47 L579.83,167.84 L580.75,169.9ZM591.99,184.41 L594.72,183.8 L587.66,184.17 L584.93,184.78ZM601.79,171.44 L601.38,168.81 L594.32,169.18 L594.73,171.81ZM601.38,168.81 L600.46,166.75 L593.4,167.12 L594.32,169.18ZM605.57,183.69 L608.29,183.08 L601.23,183.46 L598.5,184.07ZM615.36,170.73 L614.95,168.1 L607.89,168.47 L608.3,171.1ZM614.95,168.1 L614.03,166.04 L606.97,166.41 L607.89,168.47Z" fill="#779e77" stroke="#779e77" stroke-width="0.35" stroke-linejoin="round"/>
<path d="M581.15,184.51 L583.63,183.03 L576.57,183.4 L574.09,184.88ZM583.63,183.03 L585.68,180.82 L578.62,181.19 L576.57,183.4ZM585.68,180.82 L587.17,178.09 L580.11,178.46 L578.62,181.19ZM587.17,178.09 L588.02,175.1 L580.96,175.48 L580.11,178.46ZM588.02,175.1 L588.22,172.15 L581.16,172.53 L580.96,175.48ZM594.72,183.8 L597.2,182.32 L590.14,182.69 L587.66,184.17ZM597.2,182.32 L599.25,180.1 L592.19,180.48 L590.14,182.69ZM599.25,180.1 L600.74,177.37 L593.68,177.75 L592.19,180.48ZM600.74,177.37 L601.6,174.39 L594.53,174.76 L593.68,177.75ZM601.6,174.39 L601.79,171.44 L594.73,171.81 L594.53,174.76ZM608.29,183.08 L610.77,181.6 L603.71,181.97 L601.23,183.46ZM610.77,181.6 L612.82,179.39 L605.76,179.76 L603.71,181.97ZM612.82,179.39 L614.31,176.66 L607.25,177.03 L605.76,179.76ZM614.31,176.66 L615.17,173.68 L608.11,174.05 L607.25,177.03ZM615.17,173.68 L615.36,170.73 L608.3,171.1 L608.11,174.05Z" fill="#84af84" stroke="#84af84" stroke-width="0.35" stroke-linejoin="round"/>
<path d="M586.89,167.47 L585.63,166.18 L578.57,166.55 L579.83,167.84ZM585.63,166.18 L584.21,165.79 L577.15,166.16 L578.57,166.55ZM600.46,166.75 L599.2,165.47 L592.14,165.84 L593.4,167.12ZM599.2,165.47 L597.78,165.08 L590.72,165.45 L592.14,165.84ZM614.03,166.04 L612.77,164.75 L605.71,165.13 L606.97,166.41ZM612.77,164.75 L611.35,164.36 L604.29,164.73 L605.71,165.13Z" fill="#6a8c6a" stroke="#6a8c6a" stroke-width="0.35" stroke-linejoin="round"/>
<path d="M578.42,185.12 L581.15,184.51 L583.63,183.03 L585.68,180.82 L587.17,178.09 L588.02,175.1 L588.22,172.15 L587.81,169.52 L586.89,167.47 L585.63,166.18 L584.21,165.79M571.36,185.49 L574.09,184.88 L576.57,183.4 L578.62,181.19 L580.11,178.46 L580.96,175.48 L581.16,172.53 L580.75,169.9 L579.83,167.84 L578.57,166.55 L577.15,166.16M591.99,184.41 L594.72,183.8 L597.2,182.32 L599.25,180.1 L600.74,177.37 L601.6,174.39 L601.79,171.44 L601.38,168.81 L600.46,166.75 L599.2,165.47 L597.78,165.08M584.93,184.78 L587.66,184.17 L590.14,182.69 L592.19,180.48 L593.68,177.75 L594.53,174.76 L594.73,171.81 L594.32,169.18 L593.4,167.12 L592.14,165.84 L590.72,165.45M605.57,183.69 L608.29,183.08 L610.77,181.6 L612.82,179.39 L614.31,176.66 L615.17,173.68 L615.36,170.73 L614.95,168.1 L614.03,166.04 L612.77,164.75 L611.35,164.36M598.5,184.07 L601.23,183.46 L603.71,181.97 L605.76,179.76 L607.25,177.03 L608.11,174.05 L608.3,171.1 L607.89,168.47 L606.97,166.41 L605.71,165.13 L604.29,164.73" fill="none" stroke="#6aa86a" stroke-width="0.4" stroke-opacity="0.7"/>
<path d="M567.82,176.17 L568.98,179.05 L561.92,179.42 L560.76,176.54ZM568.98,179.05 L570.75,181.6 L563.69,181.98 L561.92,179.42ZM584.21,165.79 L582.84,166.33 L575.78,166.7 L577.15,166.16ZM581.39,175.45 L582.56,178.33 L575.49,178.7 L574.33,175.82ZM582.56,178.33 L584.33,180.89 L577.26,181.26 L575.49,178.7ZM597.78,165.08 L596.41,165.62 L589.35,165.99 L590.72,165.45ZM594.97,174.74 L596.13,177.62 L589.07,177.99 L587.9,175.11ZM596.13,177.62 L597.9,180.18 L590.84,180.55 L589.07,177.99ZM611.35,164.36 L609.98,164.9 L602.92,165.27 L604.29,164.73Z" fill="#91c191" stroke="#91c191" stroke-width="0.35" stroke-linejoin="round"/>
<path d="M570.75,181.6 L573.03,183.59 L565.97,183.96 L563.69,181.98ZM573.03,183.59 L575.65,184.8 L568.59,185.17 L565.97,183.96ZM575.65,184.8 L578.42,185.12 L571.36,185.49 L568.59,185.17ZM584.33,180.89 L586.6,182.88 L579.54,183.25 L577.26,181.26ZM586.6,182.88 L589.22,184.09 L582.16,184.46 L579.54,183.25ZM589.22,184.09 L591.99,184.41 L584.93,184.78 L582.16,184.46ZM597.9,180.18 L600.17,182.16 L593.11,182.53 L590.84,180.55ZM600.17,182.16 L602.79,183.37 L595.73,183.75 L593.11,182.53ZM602.79,183.37 L605.57,183.69 L598.5,184.07 L595.73,183.75Z" fill="#84af84" stroke="#84af84" stroke-width="0.35" stroke-linejoin="round"/>
<path d="M582.84,166.33 L581.72,167.74 L574.66,168.11 L575.78,166.7ZM581.72,167.74 L581.02,169.88 L573.96,170.25 L574.66,168.11ZM581.02,169.88 L580.89,172.54 L573.83,172.91 L573.96,170.25ZM580.89,172.54 L581.39,175.45 L574.33,175.82 L573.83,172.91ZM596.41,165.62 L595.29,167.03 L588.23,167.4 L589.35,165.99ZM595.29,167.03 L594.6,169.17 L587.53,169.54 L588.23,167.4ZM594.6,169.17 L594.46,171.83 L587.4,172.2 L587.53,169.54ZM594.46,171.83 L594.97,174.74 L587.9,175.11 L587.4,172.2Z" fill="#9fd39f" stroke="#9fd39f" stroke-width="0.35" stroke-linejoin="round"/>
<path d="M567.82,176.17 L568.98,179.05 L570.75,181.6 L573.03,183.59 L575.65,184.8 L578.42,185.12M560.76,176.54 L561.92,179.42 L563.69,181.98 L565.97,183.96 L568.59,185.17 L571.36,185.49M584.21,165.79 L582.84,166.33 L581.72,167.74 L581.02,169.88 L580.89,172.54 L581.39,175.45 L582.56,178.33 L584.33,180.89 L586.6,182.88 L589.22,184.09 L591.99,184.41M577.15,166.16 L575.78,166.7 L574.66,168.11 L573.96,170.25 L573.83,172.91 L574.33,175.82 L575.49,178.7 L577.26,181.26 L579.54,183.25 L582.16,184.46 L584.93,184.78M597.78,165.08 L596.41,165.62 L595.29,167.03 L594.6,169.17 L594.46,171.83 L594.97,174.74 L596.13,177.62 L597.9,180.18 L600.17,182.16 L602.79,183.37 L605.57,183.69M590.72,165.45 L589.35,165.99 L588.23,167.4 L587.53,169.54 L587.4,172.2 L587.9,175.11 L589.07,177.99 L590.84,180.55 L593.11,182.53 L595.73,183.75 L598.5,184.07M611.35,164.36 L609.98,164.9M604.29,164.73 L602.92,165.27" fill="none" stroke="#6aa86a" stroke-width="0.4" stroke-opacity="0.7"/>
</g>
<path d="M591.81,147.4 L593.95,145.93 L588.08,148.38 L585.93,149.85ZM593.95,145.93 L595.63,143.86 L589.75,146.31 L588.08,148.38ZM595.63,143.86 L596.74,141.37 L590.87,143.82 L589.75,146.31ZM596.74,141.37 L597.27,138.67 L591.39,141.12 L590.87,143.82ZM597.27,138.67 L597.22,135.99 L591.35,138.44 L591.39,141.12ZM606.81,141.15 L608.95,139.68 L603.08,142.13 L600.93,143.6ZM608.95,139.68 L610.63,137.61 L604.75,140.06 L603.08,142.13ZM610.63,137.61 L611.74,135.12 L605.87,137.57 L604.75,140.06ZM611.74,135.12 L612.27,132.42 L606.39,134.87 L605.87,137.57ZM612.27,132.42 L612.22,129.74 L606.35,132.19 L606.39,134.87Z" fill="#348434" stroke="#348434" stroke-width="0.35" stroke-linejoin="round"/>
<path d="M597.22,135.99 L596.68,133.57 L590.81,136.01 L591.35,138.44ZM596.68,133.57 L595.78,131.6 L589.91,134.05 L590.81,136.01ZM612.22,129.74 L611.68,127.32 L605.81,129.76 L606.35,132.19ZM611.68,127.32 L610.78,125.35 L604.91,127.8 L605.81,129.76Z" fill="#2f772f" stroke="#2f772f" stroke-width="0.35" stroke-linejoin="round"/>
<path d="M595.78,131.6 L594.67,130.26 L588.79,132.71 L589.91,134.05ZM594.67,130.26 L593.54,129.64 L587.66,132.09 L588.79,132.71ZM593.54,129.64 L592.57,129.78 L586.69,132.23 L587.66,132.09ZM610.78,125.35 L609.67,124.01 L603.79,126.46 L604.91,127.8ZM609.67,124.01 L608.54,123.39 L602.66,125.84 L603.79,126.46ZM608.54,123.39 L607.57,123.53 L601.69,125.98 L602.66,125.84Z" fill="#2a6a2a" stroke="#2a6a2a" stroke-width="0.35" stroke-linejoin="round"/>
<path d="M591.81,147.4 L593.95,145.93 L595.63,143.86 L596.74,141.37 L597.27,138.67 L597.22,135.99 L596.68,133.57 L595.78,131.6 L594.67,130.26 L593.54,129.64 L592.57,129.78M585.93,149.85 L588.08,148.38 L589.75,146.31 L590.87,143.82 L591.39,141.12 L591.35,138.44 L590.81,136.01 L589.91,134.05 L588.79,132.71 L587.66,132.09 L586.69,132.23M606.81,141.15 L608.95,139.68 L610.63,137.61 L611.74,135.12 L612.27,132.42 L612.22,129.74 L611.68,127.32 L610.78,125.35 L609.67,124.01 L608.54,123.39 L607.57,123.53M600.93,143.6 L603.08,142.13 L604.75,140.06 L605.87,137.57 L606.39,134.87 L606.35,132.19 L605.81,129.76 L604.91,127.8 L603.79,126.46 L602.66,125.84 L601.69,125.98" fill="none" stroke="#185818" stroke-width="0.4" stroke-opacity="0.7"/>
<path d="M586.71,148.17 L589.34,148.16 L583.46,150.61 L580.83,150.61ZM589.34,148.16 L591.81,147.4 L585.93,149.85 L583.46,150.61ZM596.69,139.86 L599.09,141.2 L593.22,143.65 L590.82,142.31ZM599.09,141.2 L601.71,141.92 L595.83,144.36 L593.22,143.65ZM601.71,141.92 L604.34,141.91 L598.46,144.36 L595.83,144.36ZM604.34,141.91 L606.81,141.15 L600.93,143.6 L598.46,144.36Z" fill="#348434" stroke="#348434" stroke-width="0.35" stroke-linejoin="round"/>
<path d="M592.57,129.78 L591.92,130.62 L586.05,133.07 L586.69,132.23ZM593.11,136.01 L594.65,138.06 L588.78,140.51 L587.23,138.45ZM594.65,138.06 L596.69,139.86 L590.82,142.31 L588.78,140.51Z" fill="#399139" stroke="#399139" stroke-width="0.35" stroke-linejoin="round"/>
<path d="M591.92,130.62 L591.75,132.06 L585.87,134.51 L586.05,133.07ZM591.75,132.06 L592.13,133.93 L586.26,136.38 L585.87,134.51ZM592.13,133.93 L593.11,136.01 L587.23,138.45 L586.26,136.38Z" fill="#3f9f3f" stroke="#3f9f3f" stroke-width="0.35" stroke-linejoin="round"/>
<path d="M586.71,148.17 L589.34,148.16 L591.81,147.4M580.83,150.61 L583.46,150.61 L585.93,149.85M592.57,129.78 L591.92,130.62 L591.75,132.06 L592.13,133.93 L593.11,136.01 L594.65,138.06 L596.69,139.86 L599.09,141.2 L601.71,141.92 L604.34,141.91 L606.81,141.15M586.69,132.23 L586.05,133.07 L585.87,134.51 L586.26,136.38 L587.23,138.45 L588.78,140.51 L590.82,142.31 L593.22,143.65 L595.83,144.36 L598.46,144.36 L600.93,143.6" fill="none" stroke="#185818" stroke-width="0.4" stroke-opacity="0.7"/>
<path d="M629,81 L639,71" fill="none" stroke="#1a5a1a" stroke-width="2.2" stroke-linecap="round" stroke-linejoin="round"/><path d="M629,81 L639,71" fill="none" stroke="#3f9f3f" stroke-width="1.3" stroke-linecap="round" stroke-linejoin="round"/>
<path d="M659,98 L661.5,85" fill="none" stroke="#1a5a1a" stroke-width="2.2" stroke-linecap="round" stroke-linejoin="round"/><path d="M659,98 L661.5,85" fill="none" stroke="#3f9f3f" stroke-width="1.3" stroke-linecap="round" stroke-linejoin="round"/>
<path d="M668.6,95 C669,93.17 670.27,87.5 671,84 C671.73,80.5 671.83,76.25 673,74 C674.17,71.75 676.33,70.5 678,70.5 C679.67,70.5 682,72.25 683,74 C684,75.75 684.5,78.67 684,81 C683.5,83.33 681.5,86.17 680,88 C678.5,89.83 676.5,90 675,92 C673.5,94 671.67,98.67 671,100" fill="none" stroke="#1a5a1a" stroke-width="2.4" stroke-linecap="round" stroke-linejoin="round"/><path d="M668.6,95 C669,93.17 670.27,87.5 671,84 C671.73,80.5 671.83,76.25 673,74 C674.17,71.75 676.33,70.5 678,70.5 C679.67,70.5 682,72.25 683,74 C684,75.75 684.5,78.67 684,81 C683.5,83.33 681.5,86.17 680,88 C678.5,89.83 676.5,90 675,92 C673.5,94 671.67,98.67 671,100" fill="none" stroke="#3f9f3f" stroke-width="1.5" stroke-linecap="round" stroke-linejoin="round"/>
<path d="M668.6,154.8 C668,156.83 667.93,163.8 665,167 C662.07,170.2 654.2,171.37 651,174 C647.8,176.63 648.13,180.75 645.8,182.8 C643.47,184.85 637.88,184.27 637,186.3 C636.12,188.33 640.2,192.67 640.5,195 C640.8,197.33 639.88,200.13 638.8,200.3 C637.72,200.47 636.05,197.75 634,196 C631.95,194.25 628.03,192.88 626.5,189.8 C624.97,186.72 625.38,181.3 624.8,177.5 C624.22,173.7 623.3,168.75 623,167" fill="none" stroke="#1a5a1a" stroke-width="2.4" stroke-linecap="round" stroke-linejoin="round"/><path d="M668.6,154.8 C668,156.83 667.93,163.8 665,167 C662.07,170.2 654.2,171.37 651,174 C647.8,176.63 648.13,180.75 645.8,182.8 C643.47,184.85 637.88,184.27 637,186.3 C636.12,188.33 640.2,192.67 640.5,195 C640.8,197.33 639.88,200.13 638.8,200.3 C637.72,200.47 636.05,197.75 634,196 C631.95,194.25 628.03,192.88 626.5,189.8 C624.97,186.72 625.38,181.3 624.8,177.5 C624.22,173.7 623.3,168.75 623,167" fill="none" stroke="#3f9f3f" stroke-width="1.5" stroke-linecap="round" stroke-linejoin="round"/>
<path d="M583,158 C584.5,159.33 589.17,165.33 592,166 C594.83,166.67 597.67,163.33 600,162 C602.33,160.67 604,158.33 606,158 C608,157.67 611,159.67 612,160" fill="none" stroke="#1a5a1a" stroke-width="2.4" stroke-linecap="round" stroke-linejoin="round"/><path d="M583,158 C584.5,159.33 589.17,165.33 592,166 C594.83,166.67 597.67,163.33 600,162 C602.33,160.67 604,158.33 606,158 C608,157.67 611,159.67 612,160" fill="none" stroke="#3f9f3f" stroke-width="1.5" stroke-linecap="round" stroke-linejoin="round"/>
<path d="M590,146 C591,147 593.67,151.33 596,152 C598.33,152.67 601.33,150.33 604,150 C606.67,149.67 610.67,150 612,150" fill="none" stroke="#1a5a1a" stroke-width="2.3" stroke-linecap="round" stroke-linejoin="round"/><path d="M590,146 C591,147 593.67,151.33 596,152 C598.33,152.67 601.33,150.33 604,150 C606.67,149.67 610.67,150 612,150" fill="none" stroke="#3f9f3f" stroke-width="1.4" stroke-linecap="round" stroke-linejoin="round"/>
<path d="M600,128 C600.67,129.33 602.33,134 604,136 C605.67,138 607.67,139.67 610,140 C612.33,140.33 616.67,138.33 618,138" fill="none" stroke="#1a5a1a" stroke-width="2.2" stroke-linecap="round" stroke-linejoin="round"/><path d="M600,128 C600.67,129.33 602.33,134 604,136 C605.67,138 607.67,139.67 610,140 C612.33,140.33 616.67,138.33 618,138" fill="none" stroke="#3f9f3f" stroke-width="1.3" stroke-linecap="round" stroke-linejoin="round"/>
<path d="M641.5,101.74 L641.14,98.82 L640.39,105.85 L640.74,108.77ZM641.14,98.82 L639.85,96.06 L639.1,103.09 L640.39,105.85ZM639.85,96.06 L637.76,93.64 L637,100.67 L639.1,103.09ZM637.76,93.64 L635.08,91.75 L634.33,98.79 L637,100.67ZM635.08,91.75 L632.08,90.5 L631.33,97.53 L634.33,98.79ZM643,87.74 L642.64,84.82 L641.89,91.85 L642.24,94.77ZM642.64,84.82 L641.35,82.06 L640.6,89.09 L641.89,91.85ZM641.35,82.06 L639.26,79.64 L638.5,86.67 L640.6,89.09ZM639.26,79.64 L636.58,77.75 L635.83,84.79 L638.5,86.67ZM636.58,77.75 L633.58,76.5 L632.83,83.53 L635.83,84.79Z" fill="#2f772f" stroke="#2f772f" stroke-width="0.35" stroke-linejoin="round"/>
<path d="M632.08,90.5 L629.07,89.95 L628.31,96.98 L631.33,97.53ZM629.07,89.95 L626.34,90.07 L625.58,97.1 L628.31,96.98ZM626.34,90.07 L624.17,90.79 L623.41,97.82 L625.58,97.1ZM624.17,90.79 L622.78,91.97 L622.02,99 L623.41,97.82ZM622.78,91.97 L622.31,93.43 L621.55,100.46 L622.02,99ZM633.58,76.5 L630.57,75.95 L629.81,82.98 L632.83,83.53ZM630.57,75.95 L627.84,76.07 L627.08,83.1 L629.81,82.98ZM627.84,76.07 L625.67,76.79 L624.91,83.82 L627.08,83.1ZM625.67,76.79 L624.28,77.97 L623.52,85 L624.91,83.82ZM624.28,77.97 L623.81,79.43 L623.05,86.46 L623.52,85Z" fill="#2a6a2a" stroke="#2a6a2a" stroke-width="0.35" stroke-linejoin="round"/>
<path d="M641.5,101.74 L641.14,98.82 L639.85,96.06 L637.76,93.64 L635.08,91.75 L632.08,90.5 L629.07,89.95 L626.34,90.07 L624.17,90.79 L622.78,91.97 L622.31,93.43M640.74,108.77 L640.39,105.85 L639.1,103.09 L637,100.67 L634.33,98.79 L631.33,97.53 L628.31,96.98 L625.58,97.1 L623.41,97.82 L622.02,99 L621.55,100.46M643,87.74 L642.64,84.82 L641.35,82.06 L639.26,79.64 L636.58,77.75 L633.58,76.5 L630.57,75.95 L627.84,76.07 L625.67,76.79 L624.28,77.97 L623.81,79.43M642.24,94.77 L641.89,91.85 L640.6,89.09 L638.5,86.67 L635.83,84.79 L632.83,83.53 L629.81,82.98 L627.08,83.1 L624.91,83.82 L623.52,85 L623.05,86.46" fill="none" stroke="#185818" stroke-width="0.4" stroke-opacity="0.7"/>
<path d="M639.34,107.18 L640.88,104.6 L640.12,111.63 L638.58,114.21ZM640.88,104.6 L641.5,101.74 L640.74,108.77 L640.12,111.63ZM629.32,97.81 L632.47,97.67 L631.72,104.7 L628.57,104.85ZM632.47,97.67 L635.64,96.82 L634.88,103.85 L631.72,104.7ZM635.64,96.82 L638.52,95.3 L637.76,102.33 L634.88,103.85ZM638.52,95.3 L640.84,93.18 L640.08,100.21 L637.76,102.33ZM640.84,93.18 L642.38,90.6 L641.62,97.63 L640.08,100.21ZM642.38,90.6 L643,87.74 L642.24,94.77 L641.62,97.63ZM630.82,83.81 L633.97,83.67 L633.22,90.7 L630.07,90.85ZM633.97,83.67 L637.14,82.82 L636.38,89.85 L633.22,90.7ZM637.14,82.82 L640.02,81.3 L639.26,88.33 L636.38,89.85ZM640.02,81.3 L642.34,79.18 L641.58,86.21 L639.26,88.33Z" fill="#348434" stroke="#348434" stroke-width="0.35" stroke-linejoin="round"/>
<path d="M622.31,93.43 L622.81,94.95 L622.06,101.98 L621.55,100.46ZM622.81,94.95 L624.25,96.31 L623.5,103.34 L622.06,101.98ZM624.25,96.31 L626.5,97.33 L625.74,104.36 L623.5,103.34ZM626.5,97.33 L629.32,97.81 L628.57,104.85 L625.74,104.36ZM623.81,79.43 L624.31,80.95 L623.56,87.98 L623.05,86.46ZM624.31,80.95 L625.75,82.31 L625,89.34 L623.56,87.98ZM625.75,82.31 L628,83.33 L627.24,90.36 L625,89.34ZM628,83.33 L630.82,83.81 L630.07,90.85 L627.24,90.36Z" fill="#399139" stroke="#399139" stroke-width="0.35" stroke-linejoin="round"/>
<path d="M639.34,107.18 L640.88,104.6 L641.5,101.74M638.58,114.21 L640.12,111.63 L640.74,108.77M622.31,93.43 L622.81,94.95 L624.25,96.31 L626.5,97.33 L629.32,97.81 L632.47,97.67 L635.64,96.82 L638.52,95.3 L640.84,93.18 L642.38,90.6 L643,87.74M621.55,100.46 L622.06,101.98 L623.5,103.34 L625.74,104.36 L628.57,104.85 L631.72,104.7 L634.88,103.85 L637.76,102.33 L640.08,100.21 L641.62,97.63 L642.24,94.77M623.81,79.43 L624.31,80.95 L625.75,82.31 L628,83.33 L630.82,83.81 L633.97,83.67 L637.14,82.82 L640.02,81.3 L642.34,79.18M623.05,86.46 L623.56,87.98 L625,89.34 L627.24,90.36 L630.07,90.85 L633.22,90.7 L636.38,89.85 L639.26,88.33 L641.58,86.21" fill="none" stroke="#185818" stroke-width="0.4" stroke-opacity="0.7"/>
<path d="M620.92,163.94 L623.91,163.27 L616.85,163.74 L613.86,164.4ZM632.2,150.73 L632.02,148.09 L624.97,148.55 L625.14,151.2ZM632.02,148.09 L631.36,146.03 L624.3,146.49 L624.97,148.55ZM639.98,162.69 L642.97,162.02 L635.92,162.49 L632.92,163.15ZM651.26,149.48 L651.09,146.84 L644.03,147.3 L644.2,149.95ZM651.09,146.84 L650.42,144.78 L643.36,145.24 L644.03,147.3ZM659.04,161.44 L662.03,160.77 L654.98,161.24 L651.98,161.9ZM670.32,148.23 L670.15,145.59 L663.09,146.05 L663.26,148.7ZM670.15,145.59 L669.48,143.53 L662.42,143.99 L663.09,146.05Z" fill="#2f772f" stroke="#2f772f" stroke-width="0.35" stroke-linejoin="round"/>
<path d="M623.91,163.27 L626.64,161.74 L619.59,162.2 L616.85,163.74ZM626.64,161.74 L628.94,159.49 L621.89,159.95 L619.59,162.2ZM628.94,159.49 L630.67,156.72 L623.62,157.18 L621.89,159.95ZM630.67,156.72 L631.76,153.7 L624.71,154.17 L623.62,157.18ZM631.76,153.7 L632.2,150.73 L625.14,151.2 L624.71,154.17ZM642.97,162.02 L645.71,160.49 L638.65,160.95 L635.92,162.49ZM645.71,160.49 L648,158.24 L640.95,158.7 L638.65,160.95ZM648,158.24 L649.74,155.47 L642.68,155.93 L640.95,158.7ZM649.74,155.47 L650.82,152.45 L643.77,152.92 L642.68,155.93ZM650.82,152.45 L651.26,149.48 L644.2,149.95 L643.77,152.92ZM662.03,160.77 L664.77,159.24 L657.71,159.7 L654.98,161.24ZM664.77,159.24 L667.07,156.99 L660.01,157.45 L657.71,159.7ZM667.07,156.99 L668.8,154.22 L661.74,154.68 L660.01,157.45ZM668.8,154.22 L669.89,151.2 L662.83,151.67 L661.74,154.68ZM669.89,151.2 L670.32,148.23 L663.26,148.7 L662.83,151.67Z" fill="#348434" stroke="#348434" stroke-width="0.35" stroke-linejoin="round"/>
<path d="M631.36,146.03 L630.35,144.74 L623.3,145.2 L624.3,146.49ZM630.35,144.74 L629.2,144.35 L622.15,144.81 L623.3,145.2ZM650.42,144.78 L649.41,143.49 L642.36,143.95 L643.36,145.24ZM649.41,143.49 L648.27,143.1 L641.21,143.56 L642.36,143.95ZM669.48,143.53 L668.48,142.24 L661.42,142.7 L662.42,143.99ZM668.48,142.24 L667.33,141.85 L660.27,142.31 L661.42,142.7Z" fill="#2a6a2a" stroke="#2a6a2a" stroke-width="0.35" stroke-linejoin="round"/>
<path d="M620.92,163.94 L623.91,163.27 L626.64,161.74 L628.94,159.49 L630.67,156.72 L631.76,153.7 L632.2,150.73 L632.02,148.09 L631.36,146.03 L630.35,144.74 L629.2,144.35M613.86,164.4 L616.85,163.74 L619.59,162.2 L621.89,159.95 L623.62,157.18 L624.71,154.17 L625.14,151.2 L624.97,148.55 L624.3,146.49 L623.3,145.2 L622.15,144.81M639.98,162.69 L642.97,162.02 L645.71,160.49 L648,158.24 L649.74,155.47 L650.82,152.45 L651.26,149.48 L651.09,146.84 L650.42,144.78 L649.41,143.49 L648.27,143.1M632.92,163.15 L635.92,162.49 L638.65,160.95 L640.95,158.7 L642.68,155.93 L643.77,152.92 L644.2,149.95 L644.03,147.3 L643.36,145.24 L642.36,143.95 L641.21,143.56M659.04,161.44 L662.03,160.77 L664.77,159.24 L667.07,156.99 L668.8,154.22 L669.89,151.2 L670.32,148.23 L670.15,145.59 L669.48,143.53 L668.48,142.24 L667.33,141.85M651.98,161.9 L654.98,161.24 L657.71,159.7 L660.01,157.45 L661.74,154.68 L662.83,151.67 L663.26,148.7 L663.09,146.05 L662.42,143.99 L661.42,142.7 L660.27,142.31" fill="none" stroke="#185818" stroke-width="0.4" stroke-opacity="0.7"/>
<path d="M608.82,155.21 L610.3,158.05 L603.24,158.52 L601.77,155.67ZM610.3,158.05 L612.38,160.57 L605.32,161.03 L603.24,158.52ZM629.2,144.35 L628.12,144.89 L621.06,145.35 L622.15,144.81ZM627.89,153.96 L629.36,156.8 L622.3,157.27 L620.83,154.42ZM629.36,156.8 L631.44,159.32 L624.38,159.78 L622.3,157.27ZM648.27,143.1 L647.18,143.64 L640.12,144.1 L641.21,143.56ZM646.95,152.71 L648.42,155.55 L641.37,156.02 L639.89,153.17ZM648.42,155.55 L650.5,158.07 L643.45,158.53 L641.37,156.02ZM667.33,141.85 L666.24,142.39 L659.18,142.85 L660.27,142.31ZM666.01,151.46 L667.49,154.3 L660.43,154.77 L658.96,151.92ZM667.49,154.3 L669.56,156.82 L662.51,157.28 L660.43,154.77Z" fill="#399139" stroke="#399139" stroke-width="0.35" stroke-linejoin="round"/>
<path d="M612.38,160.57 L614.95,162.51 L607.89,162.97 L605.32,161.03ZM614.95,162.51 L617.86,163.67 L610.8,164.13 L607.89,162.97ZM617.86,163.67 L620.92,163.94 L613.86,164.4 L610.8,164.13ZM631.44,159.32 L634.01,161.26 L626.96,161.72 L624.38,159.78ZM634.01,161.26 L636.92,162.42 L629.87,162.88 L626.96,161.72ZM636.92,162.42 L639.98,162.69 L632.92,163.15 L629.87,162.88ZM650.5,158.07 L653.08,160.01 L646.02,160.47 L643.45,158.53ZM653.08,160.01 L655.99,161.17 L648.93,161.63 L646.02,160.47ZM655.99,161.17 L659.04,161.44 L651.98,161.9 L648.93,161.63ZM669.56,156.82 L672.14,158.76 L665.08,159.22 L662.51,157.28ZM672.14,158.76 L675.05,159.92 L667.99,160.38 L665.08,159.22Z" fill="#348434" stroke="#348434" stroke-width="0.35" stroke-linejoin="round"/>
<path d="M628.12,144.89 L627.29,146.3 L620.23,146.76 L621.06,145.35ZM627.29,146.3 L626.9,148.43 L619.84,148.89 L620.23,146.76ZM626.9,148.43 L627.07,151.07 L620.01,151.53 L619.84,148.89ZM627.07,151.07 L627.89,153.96 L620.83,154.42 L620.01,151.53ZM647.18,143.64 L646.35,145.05 L639.29,145.51 L640.12,144.1ZM646.35,145.05 L645.96,147.18 L638.9,147.64 L639.29,145.51ZM645.96,147.18 L646.13,149.82 L639.08,150.28 L638.9,147.64ZM646.13,149.82 L646.95,152.71 L639.89,153.17 L639.08,150.28ZM666.24,142.39 L665.41,143.8 L658.36,144.26 L659.18,142.85ZM665.41,143.8 L665.02,145.93 L657.96,146.39 L658.36,144.26ZM665.02,145.93 L665.2,148.57 L658.14,149.03 L657.96,146.39ZM665.2,148.57 L666.01,151.46 L658.96,151.92 L658.14,149.03Z" fill="#3f9f3f" stroke="#3f9f3f" stroke-width="0.35" stroke-linejoin="round"/>
<path d="M608.82,155.21 L610.3,158.05 L612.38,160.57 L614.95,162.51 L617.86,163.67 L620.92,163.94M601.77,155.67 L603.24,158.52 L605.32,161.03 L607.89,162.97 L610.8,164.13 L613.86,164.4M629.2,144.35 L628.12,144.89 L627.29,146.3 L626.9,148.43 L627.07,151.07 L627.89,153.96 L629.36,156.8 L631.44,159.32 L634.01,161.26 L636.92,162.42 L639.98,162.69M622.15,144.81 L621.06,145.35 L620.23,146.76 L619.84,148.89 L620.01,151.53 L620.83,154.42 L622.3,157.27 L624.38,159.78 L626.96,161.72 L629.87,162.88 L632.92,163.15M648.27,143.1 L647.18,143.64 L646.35,145.05 L645.96,147.18 L646.13,149.82 L646.95,152.71 L648.42,155.55 L650.5,158.07 L653.08,160.01 L655.99,161.17 L659.04,161.44M641.21,143.56 L640.12,144.1 L639.29,145.51 L638.9,147.64 L639.08,150.28 L639.89,153.17 L641.37,156.02 L643.45,158.53 L646.02,160.47 L648.93,161.63 L651.98,161.9M667.33,141.85 L666.24,142.39 L665.41,143.8 L665.02,145.93 L665.2,148.57 L666.01,151.46 L667.49,154.3 L669.56,156.82 L672.14,158.76 L675.05,159.92M660.27,142.31 L659.18,142.85 L658.36,144.26 L657.96,146.39 L658.14,149.03 L658.96,151.92 L660.43,154.77 L662.51,157.28 L665.08,159.22 L667.99,160.38" fill="none" stroke="#185818" stroke-width="0.4" stroke-opacity="0.7"/>
<path d="M574.64,179.51 L575.89,176.84 L569.96,180.69 L568.7,183.35ZM575.89,176.84 L576.44,173.86 L570.5,177.7 L569.96,180.69ZM576.44,173.86 L576.3,170.81 L570.36,174.65 L570.5,177.7ZM586.9,172.48 L588.8,170.34 L582.87,174.19 L580.96,176.32ZM588.8,170.34 L590.06,167.68 L584.12,171.52 L582.87,174.19ZM590.06,167.68 L590.61,164.69 L584.67,168.54 L584.12,171.52ZM590.61,164.69 L590.46,161.64 L584.53,165.48 L584.67,168.54Z" fill="#348434" stroke="#348434" stroke-width="0.35" stroke-linejoin="round"/>
<path d="M576.3,170.81 L575.55,167.94 L569.61,171.79 L570.36,174.65ZM575.55,167.94 L574.33,165.5 L568.4,169.34 L569.61,171.79ZM574.33,165.5 L572.84,163.67 L566.91,167.51 L568.4,169.34ZM590.46,161.64 L589.71,158.78 L583.78,162.62 L584.53,165.48Z" fill="#2f772f" stroke="#2f772f" stroke-width="0.35" stroke-linejoin="round"/>
<path d="M572.84,163.67 L571.29,162.59 L565.35,166.43 L566.91,167.51ZM571.29,162.59 L569.9,162.32 L563.96,166.16 L565.35,166.43ZM569.9,162.32 L568.87,162.84 L562.94,166.69 L563.96,166.16Z" fill="#2a6a2a" stroke="#2a6a2a" stroke-width="0.35" stroke-linejoin="round"/>
<path d="M574.64,179.51 L575.89,176.84 L576.44,173.86 L576.3,170.81 L575.55,167.94 L574.33,165.5 L572.84,163.67 L571.29,162.59 L569.9,162.32 L568.87,162.84M568.7,183.35 L569.96,180.69 L570.5,177.7 L570.36,174.65 L569.61,171.79 L568.4,169.34 L566.91,167.51 L565.35,166.43 L563.96,166.16 L562.94,166.69M586.9,172.48 L588.8,170.34 L590.06,167.68 L590.61,164.69 L590.46,161.64 L589.71,158.78M580.96,176.32 L582.87,174.19 L584.12,171.52 L584.67,168.54 L584.53,165.48 L583.78,162.62" fill="none" stroke="#185818" stroke-width="0.4" stroke-opacity="0.7"/>
<path d="M568.87,162.84 L568.38,164.06 L562.45,167.91 L562.94,166.69ZM568.38,164.06 L568.54,165.81 L562.61,169.66 L562.45,167.91ZM568.54,165.81 L569.41,167.88 L563.48,171.72 L562.61,169.66ZM569.41,167.88 L570.97,170.02 L565.04,173.86 L563.48,171.72Z" fill="#3f9f3f" stroke="#3f9f3f" stroke-width="0.35" stroke-linejoin="round"/>
<path d="M570.97,170.02 L573.14,171.96 L567.2,175.81 L565.04,173.86ZM573.14,171.96 L575.77,173.49 L569.83,177.33 L567.2,175.81Z" fill="#399139" stroke="#399139" stroke-width="0.35" stroke-linejoin="round"/>
<path d="M575.77,173.49 L578.68,174.4 L572.74,178.25 L569.83,177.33ZM578.68,174.4 L581.65,174.57 L575.71,178.41 L572.74,178.25ZM581.65,174.57 L584.45,173.92 L578.52,177.76 L575.71,178.41ZM584.45,173.92 L586.9,172.48 L580.96,176.32 L578.52,177.76Z" fill="#348434" stroke="#348434" stroke-width="0.35" stroke-linejoin="round"/>
<path d="M568.87,162.84 L568.38,164.06 L568.54,165.81 L569.41,167.88 L570.97,170.02 L573.14,171.96 L575.77,173.49 L578.68,174.4 L581.65,174.57 L584.45,173.92 L586.9,172.48M562.94,166.69 L562.45,167.91 L562.61,169.66 L563.48,171.72 L565.04,173.86 L567.2,175.81 L569.83,177.33 L572.74,178.25 L575.71,178.41 L578.52,177.76 L580.96,176.32" fill="none" stroke="#185818" stroke-width="0.4" stroke-opacity="0.7"/>
<path d="M602.77,131.94 L611.76,114.95 L618.29,103.34 L619.6,104.07 L619,98 L613.5,100.64 L614.81,101.38 L608.24,113.05 L599.23,130.06Z" fill="#2a862a" stroke="#1a5a1a" stroke-width="0.5" stroke-linejoin="round"/>
<path d="M607.58,135.75 L615.58,118.76 L620.33,109.25 L621.67,109.93 L621,104 L615.86,107.02 L617.2,107.69 L612.42,117.24 L604.42,134.25Z" fill="#3c9a3c" stroke="#1a5a1a" stroke-width="0.5" stroke-linejoin="round"/>
<path d="M642.59,150.97 L658.65,129.88 L668.45,114.49 L670.35,115.7 L670,106 L661.06,109.8 L662.96,111 L653.35,126.12 L637.41,147.03Z" fill="#5cb85c" stroke="#1a5a1a" stroke-width="0.5" stroke-linejoin="round"/>
<path d="M582.41,153.5 L598.41,142.5 L614.34,131.55 L642.27,113.6 L660.22,102.63 L655.78,95.37 L637.73,106.4 L609.66,124.45 L593.59,135.5 L577.59,146.5Z" fill="#2c8c2c" stroke="#1a5a1a" stroke-width="0.5" stroke-linejoin="round"/>
<path d="M665.65,93.76 L645.67,114.74 L631.36,129.05 L629.77,127.45 L628,137 L637.55,135.23 L635.95,133.64 L650.33,119.26 L670.35,98.24Z" fill="#38983a" stroke="#1a5a1a" stroke-width="0.5" stroke-linejoin="round"/>
<path d="M607,170 l6,-4 l5,5 l-4,6 M613,166 l3,-5 M616,175 l3,7 l5,3 M619,182 l-2,5" stroke="#e0a030" stroke-width="1.5" fill="none" stroke-linecap="round"/>
<path d="M610,168 l2,-2 M620,180 l2,1 M624,185 l2,2" stroke="#d84040" stroke-width="1.5" fill="none"/>
<path d="M472.9,163.1 C473.33,165.3 473.98,173.23 475.5,176.3 C477.02,179.37 480.25,180.22 482,181.5 C483.75,182.78 485.33,183.58 486,184" fill="none" stroke="#666db0" stroke-width="2.5" stroke-linecap="round" stroke-linejoin="round"/><path d="M472.9,163.1 C473.33,165.3 473.98,173.23 475.5,176.3 C477.02,179.37 480.25,180.22 482,181.5 C483.75,182.78 485.33,183.58 486,184" fill="none" stroke="#b4b8e6" stroke-width="1.6" stroke-linecap="round" stroke-linejoin="round"/>
<path d="M486,186 C486,187.23 485.12,191.3 486,193.4 C486.88,195.5 488.23,197.5 491.3,198.6 C494.37,199.7 500.9,199.12 504.4,200 C507.9,200.88 510.53,202.17 512.3,203.9 C514.07,205.63 514.55,209.32 515,210.4" fill="none" stroke="#666db0" stroke-width="2.5" stroke-linecap="round" stroke-linejoin="round"/><path d="M486,186 C486,187.23 485.12,191.3 486,193.4 C486.88,195.5 488.23,197.5 491.3,198.6 C494.37,199.7 500.9,199.12 504.4,200 C507.9,200.88 510.53,202.17 512.3,203.9 C514.07,205.63 514.55,209.32 515,210.4" fill="none" stroke="#b4b8e6" stroke-width="1.6" stroke-linecap="round" stroke-linejoin="round"/>
<path d="M505.7,189.4 C506.15,191.17 508.52,197.23 508.4,200 C508.28,202.77 506.4,204 505,206 C503.6,208 500.83,211 500,212" fill="none" stroke="#666db0" stroke-width="2.5" stroke-linecap="round" stroke-linejoin="round"/><path d="M505.7,189.4 C506.15,191.17 508.52,197.23 508.4,200 C508.28,202.77 506.4,204 505,206 C503.6,208 500.83,211 500,212" fill="none" stroke="#b4b8e6" stroke-width="1.6" stroke-linecap="round" stroke-linejoin="round"/>
<path d="M522.8,186.8 C523.47,189.43 527.27,199.4 526.8,202.6 C526.33,205.8 522.47,204.43 520,206 C517.53,207.57 513.33,211 512,212" fill="none" stroke="#666db0" stroke-width="2.5" stroke-linecap="round" stroke-linejoin="round"/><path d="M522.8,186.8 C523.47,189.43 527.27,199.4 526.8,202.6 C526.33,205.8 522.47,204.43 520,206 C517.53,207.57 513.33,211 512,212" fill="none" stroke="#b4b8e6" stroke-width="1.6" stroke-linecap="round" stroke-linejoin="round"/>
<path d="M528,189.4 C528.88,190.93 532.8,196.17 533.3,198.6 C533.8,201.03 531.38,203.1 531,204" fill="none" stroke="#666db0" stroke-width="2.5" stroke-linecap="round" stroke-linejoin="round"/><path d="M528,189.4 C528.88,190.93 532.8,196.17 533.3,198.6 C533.8,201.03 531.38,203.1 531,204" fill="none" stroke="#b4b8e6" stroke-width="1.6" stroke-linecap="round" stroke-linejoin="round"/>
<path d="M476,226 C475.33,227.67 471.67,233.33 472,236 C472.33,238.67 475,240.67 478,242 C481,243.33 485,243.5 490,244 C495,244.5 503.67,245 508,245 C512.33,245 514.67,244.17 516,244" fill="none" stroke="#666db0" stroke-width="2.5" stroke-linecap="round" stroke-linejoin="round"/><path d="M476,226 C475.33,227.67 471.67,233.33 472,236 C472.33,238.67 475,240.67 478,242 C481,243.33 485,243.5 490,244 C495,244.5 503.67,245 508,245 C512.33,245 514.67,244.17 516,244" fill="none" stroke="#b4b8e6" stroke-width="1.6" stroke-linecap="round" stroke-linejoin="round"/>
<path d="M553,194 C554.17,193.67 558.17,191.5 560,192 C561.83,192.5 563.5,194 564,197 C564.5,200 563.67,207.5 563,210 C562.33,212.5 561,213 560,212 C559,211 556.83,206.67 557,204 C557.17,201.33 558.5,196.67 561,196 C563.5,195.33 570.17,199.33 572,200" fill="none" stroke="#666db0" stroke-width="2.5" stroke-linecap="round" stroke-linejoin="round"/><path d="M553,194 C554.17,193.67 558.17,191.5 560,192 C561.83,192.5 563.5,194 564,197 C564.5,200 563.67,207.5 563,210 C562.33,212.5 561,213 560,212 C559,211 556.83,206.67 557,204 C557.17,201.33 558.5,196.67 561,196 C563.5,195.33 570.17,199.33 572,200" fill="none" stroke="#b4b8e6" stroke-width="1.6" stroke-linecap="round" stroke-linejoin="round"/>
<path d="M562,180 C562.83,181 565.67,183.5 567,186 C568.33,188.5 569.5,193.5 570,195" fill="none" stroke="#666db0" stroke-width="2.5" stroke-linecap="round" stroke-linejoin="round"/><path d="M562,180 C562.83,181 565.67,183.5 567,186 C568.33,188.5 569.5,193.5 570,195" fill="none" stroke="#b4b8e6" stroke-width="1.6" stroke-linecap="round" stroke-linejoin="round"/>
<path d="M566,222 C567.67,222.83 572.33,227 576,227 C579.67,227 586,222.83 588,222" fill="none" stroke="#666db0" stroke-width="2.5" stroke-linecap="round" stroke-linejoin="round"/><path d="M566,222 C567.67,222.83 572.33,227 576,227 C579.67,227 586,222.83 588,222" fill="none" stroke="#b4b8e6" stroke-width="1.6" stroke-linecap="round" stroke-linejoin="round"/>
<path d="M513,249 C512.67,249.83 509.83,252.58 511,254 C512.17,255.42 515.67,256.17 520,257.5 C524.33,258.83 534.17,261.25 537,262" fill="none" stroke="#666db0" stroke-width="2.5" stroke-linecap="round" stroke-linejoin="round"/><path d="M513,249 C512.67,249.83 509.83,252.58 511,254 C512.17,255.42 515.67,256.17 520,257.5 C524.33,258.83 534.17,261.25 537,262" fill="none" stroke="#b4b8e6" stroke-width="1.6" stroke-linecap="round" stroke-linejoin="round"/>
<path d="M559,272 C559,273.33 559,277 559,280 C559,283 559,288.33 559,290" fill="none" stroke="#666db0" stroke-width="2.5" stroke-linecap="round" stroke-linejoin="round"/><path d="M559,272 C559,273.33 559,277 559,280 C559,283 559,288.33 559,290" fill="none" stroke="#b4b8e6" stroke-width="1.6" stroke-linecap="round" stroke-linejoin="round"/>
<path d="M615,240 C615.5,242 616.17,248.5 618,252 C619.83,255.5 624.67,259.5 626,261" fill="none" stroke="#666db0" stroke-width="2.5" stroke-linecap="round" stroke-linejoin="round"/><path d="M615,240 C615.5,242 616.17,248.5 618,252 C619.83,255.5 624.67,259.5 626,261" fill="none" stroke="#b4b8e6" stroke-width="1.6" stroke-linecap="round" stroke-linejoin="round"/>
<path d="M508,232 C507.17,233 502.33,236.33 503,238 C503.67,239.67 510.5,241.33 512,242" fill="none" stroke="#666db0" stroke-width="2.5" stroke-linecap="round" stroke-linejoin="round"/><path d="M508,232 C507.17,233 502.33,236.33 503,238 C503.67,239.67 510.5,241.33 512,242" fill="none" stroke="#b4b8e6" stroke-width="1.6" stroke-linecap="round" stroke-linejoin="round"/>
<path d="M494.85,189.99 L497.11,188.26 L490.87,191.58 L488.6,193.31ZM497.11,188.26 L498.79,185.84 L492.54,189.16 L490.87,191.58ZM498.79,185.84 L499.76,182.94 L493.52,186.26 L492.54,189.16ZM499.76,182.94 L500.02,179.81 L493.77,183.13 L493.52,186.26ZM500.02,179.81 L499.58,176.71 L493.34,180.03 L493.77,183.13ZM507.9,183.05 L510.17,181.31 L503.93,184.63 L501.66,186.37ZM510.17,181.31 L511.84,178.9 L505.6,182.22 L503.93,184.63ZM511.84,178.9 L512.82,176 L506.58,179.32 L505.6,182.22ZM512.82,176 L513.07,172.86 L506.83,176.18 L506.58,179.32ZM513.07,172.86 L512.64,169.77 L506.39,173.09 L506.83,176.18ZM520.96,176.1 L523.22,174.37 L516.98,177.69 L514.71,179.42ZM523.22,174.37 L524.9,171.95 L518.65,175.27 L516.98,177.69ZM524.9,171.95 L525.88,169.05 L519.63,172.37 L518.65,175.27ZM525.88,169.05 L526.13,165.92 L519.88,169.24 L519.63,172.37ZM526.13,165.92 L525.69,162.82 L519.45,166.14 L519.88,169.24ZM534.01,169.16 L536.28,167.42 L530.04,170.75 L527.77,172.48ZM536.28,167.42 L537.95,165.01 L531.71,168.33 L530.04,170.75ZM537.95,165.01 L538.93,162.11 L532.69,165.43 L531.71,168.33ZM538.93,162.11 L539.18,158.97 L532.94,162.29 L532.69,165.43ZM539.18,158.97 L538.75,155.88 L532.5,159.2 L532.94,162.29Z" fill="#9498c6" stroke="#9498c6" stroke-width="0.35" stroke-linejoin="round"/>
<path d="M499.58,176.71 L498.56,173.93 L492.32,177.25 L493.34,180.03ZM498.56,173.93 L497.13,171.69 L490.89,175.01 L492.32,177.25ZM512.64,169.77 L511.62,166.98 L505.38,170.3 L506.39,173.09ZM511.62,166.98 L510.19,164.75 L503.94,168.07 L505.38,170.3ZM525.69,162.82 L524.67,160.04 L518.43,163.36 L519.45,166.14ZM524.67,160.04 L523.24,157.8 L517,161.12 L518.43,163.36ZM538.75,155.88 L537.73,153.09 L531.49,156.42 L532.5,159.2ZM537.73,153.09 L536.3,150.86 L530.05,154.18 L531.49,156.42Z" fill="#8589b2" stroke="#8589b2" stroke-width="0.35" stroke-linejoin="round"/>
<path d="M497.13,171.69 L495.48,170.19 L489.24,173.51 L490.89,175.01ZM495.48,170.19 L493.85,169.53 L487.61,172.85 L489.24,173.51ZM493.85,169.53 L492.45,169.74 L486.21,173.06 L487.61,172.85ZM510.19,164.75 L508.54,163.24 L502.3,166.56 L503.94,168.07ZM508.54,163.24 L506.91,162.58 L500.66,165.9 L502.3,166.56ZM506.91,162.58 L505.51,162.8 L499.26,166.12 L500.66,165.9ZM523.24,157.8 L521.6,156.3 L515.35,159.62 L517,161.12ZM521.6,156.3 L519.96,155.64 L513.72,158.96 L515.35,159.62ZM519.96,155.64 L518.56,155.86 L512.32,159.18 L513.72,158.96Z" fill="#767a9e" stroke="#767a9e" stroke-width="0.35" stroke-linejoin="round"/>
<path d="M494.85,189.99 L497.11,188.26 L498.79,185.84 L499.76,182.94 L500.02,179.81 L499.58,176.71 L498.56,173.93 L497.13,171.69 L495.48,170.19 L493.85,169.53 L492.45,169.74M488.6,193.31 L490.87,191.58 L492.54,189.16 L493.52,186.26 L493.77,183.13 L493.34,180.03 L492.32,177.25 L490.89,175.01 L489.24,173.51 L487.61,172.85 L486.21,173.06M507.9,183.05 L510.17,181.31 L511.84,178.9 L512.82,176 L513.07,172.86 L512.64,169.77 L511.62,166.98 L510.19,164.75 L508.54,163.24 L506.91,162.58 L505.51,162.8M501.66,186.37 L503.93,184.63 L505.6,182.22 L506.58,179.32 L506.83,176.18 L506.39,173.09 L505.38,170.3 L503.94,168.07 L502.3,166.56 L500.66,165.9 L499.26,166.12M520.96,176.1 L523.22,174.37 L524.9,171.95 L525.88,169.05 L526.13,165.92 L525.69,162.82 L524.67,160.04 L523.24,157.8 L521.6,156.3 L519.96,155.64 L518.56,155.86M514.71,179.42 L516.98,177.69 L518.65,175.27 L519.63,172.37 L519.88,169.24 L519.45,166.14 L518.43,163.36 L517,161.12 L515.35,159.62 L513.72,158.96 L512.32,159.18M534.01,169.16 L536.28,167.42 L537.95,165.01 L538.93,162.11 L539.18,158.97 L538.75,155.88 L537.73,153.09 L536.3,150.86M527.77,172.48 L530.04,170.75 L531.71,168.33 L532.69,165.43 L532.94,162.29 L532.5,159.2 L531.49,156.42 L530.05,154.18" fill="none" stroke="#666db0" stroke-width="0.4" stroke-opacity="0.7"/>
<path d="M481.19,186.49 L483.51,188.58 L477.27,191.91 L474.95,189.81ZM492.45,169.74 L491.49,170.78 L485.25,174.1 L486.21,173.06ZM492.51,177.15 L494.25,179.55 L488,182.87 L486.26,180.47ZM494.25,179.55 L496.57,181.64 L490.33,184.96 L488,182.87ZM505.51,162.8 L504.55,163.84 L498.3,167.16 L499.26,166.12ZM505.56,170.21 L507.3,172.61 L501.06,175.93 L499.32,173.53ZM507.3,172.61 L509.62,174.7 L503.38,178.02 L501.06,175.93ZM518.56,155.86 L517.6,156.89 L511.36,160.21 L512.32,159.18ZM518.62,163.26 L520.36,165.66 L514.11,168.98 L512.37,166.58ZM520.36,165.66 L522.68,167.75 L516.44,171.07 L514.11,168.98Z" fill="#a3a7da" stroke="#a3a7da" stroke-width="0.35" stroke-linejoin="round"/>
<path d="M483.51,188.58 L486.25,190.13 L480.01,193.45 L477.27,191.91ZM486.25,190.13 L489.2,190.94 L482.96,194.26 L480.01,193.45ZM489.2,190.94 L492.14,190.9 L485.9,194.22 L482.96,194.26ZM492.14,190.9 L494.85,189.99 L488.6,193.31 L485.9,194.22ZM496.57,181.64 L499.31,183.18 L493.06,186.5 L490.33,184.96ZM499.31,183.18 L502.26,183.99 L496.02,187.31 L493.06,186.5ZM502.26,183.99 L505.2,183.96 L498.96,187.28 L496.02,187.31ZM505.2,183.96 L507.9,183.05 L501.66,186.37 L498.96,187.28ZM509.62,174.7 L512.36,176.24 L506.12,179.56 L503.38,178.02ZM512.36,176.24 L515.31,177.05 L509.07,180.37 L506.12,179.56ZM515.31,177.05 L518.25,177.01 L512.01,180.33 L509.07,180.37ZM518.25,177.01 L520.96,176.1 L514.71,179.42 L512.01,180.33ZM522.68,167.75 L525.42,169.29 L519.18,172.61 L516.44,171.07ZM525.42,169.29 L528.37,170.1 L522.13,173.43 L519.18,172.61ZM528.37,170.1 L531.31,170.07 L525.07,173.39 L522.13,173.43ZM531.31,170.07 L534.01,169.16 L527.77,172.48 L525.07,173.39Z" fill="#9498c6" stroke="#9498c6" stroke-width="0.35" stroke-linejoin="round"/>
<path d="M491.49,170.78 L491.12,172.51 L484.88,175.83 L485.25,174.1ZM491.12,172.51 L491.45,174.71 L485.21,178.03 L484.88,175.83ZM491.45,174.71 L492.51,177.15 L486.26,180.47 L485.21,178.03ZM504.55,163.84 L504.18,165.56 L497.94,168.88 L498.3,167.16ZM504.18,165.56 L504.51,167.77 L498.26,171.09 L497.94,168.88ZM504.51,167.77 L505.56,170.21 L499.32,173.53 L498.26,171.09ZM517.6,156.89 L517.23,158.62 L510.99,161.94 L511.36,160.21ZM517.23,158.62 L517.56,160.82 L511.32,164.14 L510.99,161.94ZM517.56,160.82 L518.62,163.26 L512.37,166.58 L511.32,164.14Z" fill="#b2b7ee" stroke="#b2b7ee" stroke-width="0.35" stroke-linejoin="round"/>
<path d="M481.19,186.49 L483.51,188.58 L486.25,190.13 L489.2,190.94 L492.14,190.9 L494.85,189.99M474.95,189.81 L477.27,191.91 L480.01,193.45 L482.96,194.26 L485.9,194.22 L488.6,193.31M492.45,169.74 L491.49,170.78 L491.12,172.51 L491.45,174.71 L492.51,177.15 L494.25,179.55 L496.57,181.64 L499.31,183.18 L502.26,183.99 L505.2,183.96 L507.9,183.05M486.21,173.06 L485.25,174.1 L484.88,175.83 L485.21,178.03 L486.26,180.47 L488,182.87 L490.33,184.96 L493.06,186.5 L496.02,187.31 L498.96,187.28 L501.66,186.37M505.51,162.8 L504.55,163.84 L504.18,165.56 L504.51,167.77 L505.56,170.21 L507.3,172.61 L509.62,174.7 L512.36,176.24 L515.31,177.05 L518.25,177.01 L520.96,176.1M499.26,166.12 L498.3,167.16 L497.94,168.88 L498.26,171.09 L499.32,173.53 L501.06,175.93 L503.38,178.02 L506.12,179.56 L509.07,180.37 L512.01,180.33 L514.71,179.42M518.56,155.86 L517.6,156.89 L517.23,158.62 L517.56,160.82 L518.62,163.26 L520.36,165.66 L522.68,167.75 L525.42,169.29 L528.37,170.1 L531.31,170.07 L534.01,169.16M512.32,159.18 L511.36,160.21 L510.99,161.94 L511.32,164.14 L512.37,166.58 L514.11,168.98 L516.44,171.07 L519.18,172.61 L522.13,173.43 L525.07,173.39 L527.77,172.48" fill="none" stroke="#666db0" stroke-width="0.4" stroke-opacity="0.7"/>
<path d="M482.15,234.13 L484.66,232.92 L478.53,235.66 L476.02,236.88ZM489.1,222.5 L488.62,219.63 L482.49,222.37 L482.97,225.24ZM488.62,219.63 L487.65,217.15 L481.52,219.9 L482.49,222.37ZM487.65,217.15 L486.35,215.29 L480.22,218.04 L481.52,219.9ZM496.65,227.63 L499.16,226.42 L493.03,229.16 L490.52,230.38ZM503.6,216 L503.12,213.13 L496.99,215.87 L497.47,218.74ZM503.12,213.13 L502.15,210.65 L496.02,213.4 L496.99,215.87ZM502.15,210.65 L500.85,208.79 L494.72,211.54 L496.02,213.4Z" fill="#8589b2" stroke="#8589b2" stroke-width="0.35" stroke-linejoin="round"/>
<path d="M484.66,232.92 L486.7,230.96 L480.58,233.71 L478.53,235.66ZM486.7,230.96 L488.16,228.42 L482.04,231.17 L480.58,233.71ZM488.16,228.42 L488.96,225.52 L482.83,228.26 L482.04,231.17ZM488.96,225.52 L489.1,222.5 L482.97,225.24 L482.83,228.26ZM499.16,226.42 L501.2,224.46 L495.08,227.21 L493.03,229.16ZM501.2,224.46 L502.66,221.92 L496.54,224.67 L495.08,227.21ZM502.66,221.92 L503.46,219.02 L497.33,221.76 L496.54,224.67ZM503.46,219.02 L503.6,216 L497.47,218.74 L497.33,221.76Z" fill="#9498c6" stroke="#9498c6" stroke-width="0.35" stroke-linejoin="round"/>
<path d="M486.35,215.29 L484.92,214.19 L478.79,216.94 L480.22,218.04ZM484.92,214.19 L483.58,213.92 L477.45,216.67 L478.79,216.94ZM500.85,208.79 L499.42,207.69 L493.29,210.44 L494.72,211.54ZM499.42,207.69 L498.08,207.42 L491.95,210.17 L493.29,210.44Z" fill="#767a9e" stroke="#767a9e" stroke-width="0.35" stroke-linejoin="round"/>
<path d="M482.15,234.13 L484.66,232.92 L486.7,230.96 L488.16,228.42 L488.96,225.52 L489.1,222.5 L488.62,219.63 L487.65,217.15 L486.35,215.29 L484.92,214.19 L483.58,213.92M476.02,236.88 L478.53,235.66 L480.58,233.71 L482.04,231.17 L482.83,228.26 L482.97,225.24 L482.49,222.37 L481.52,219.9 L480.22,218.04 L478.79,216.94 L477.45,216.67M496.65,227.63 L499.16,226.42 L501.2,224.46 L502.66,221.92 L503.46,219.02 L503.6,216 L503.12,213.13 L502.15,210.65 L500.85,208.79 L499.42,207.69 L498.08,207.42M490.52,230.38 L493.03,229.16 L495.08,227.21 L496.54,224.67 L497.33,221.76 L497.47,218.74 L496.99,215.87 L496.02,213.4 L494.72,211.54 L493.29,210.44 L491.95,210.17" fill="none" stroke="#666db0" stroke-width="0.4" stroke-opacity="0.7"/>
<path d="M473.73,232.85 L476.48,234.06 L470.35,236.81 L467.6,235.6ZM476.48,234.06 L479.36,234.51 L473.23,237.26 L470.35,236.81ZM479.36,234.51 L482.15,234.13 L476.02,236.88 L473.23,237.26ZM488.23,226.35 L490.98,227.56 L484.85,230.31 L482.1,229.1ZM490.98,227.56 L493.86,228.01 L487.73,230.76 L484.85,230.31ZM493.86,228.01 L496.65,227.63 L490.52,230.38 L487.73,230.76Z" fill="#9498c6" stroke="#9498c6" stroke-width="0.35" stroke-linejoin="round"/>
<path d="M483.58,213.92 L482.52,214.49 L476.39,217.23 L477.45,216.67ZM483.88,222.31 L485.81,224.53 L479.68,227.27 L477.75,225.05ZM485.81,224.53 L488.23,226.35 L482.1,229.1 L479.68,227.27ZM498.08,207.42 L497.02,207.99 L490.89,210.73 L491.95,210.17ZM498.38,215.81 L500.31,218.03 L494.18,220.77 L492.25,218.55ZM500.31,218.03 L502.73,219.85 L496.6,222.6 L494.18,220.77Z" fill="#a3a7da" stroke="#a3a7da" stroke-width="0.35" stroke-linejoin="round"/>
<path d="M482.52,214.49 L481.92,215.79 L475.8,218.54 L476.39,217.23ZM481.92,215.79 L481.91,217.68 L475.79,220.43 L475.8,218.54ZM481.91,217.68 L482.57,219.94 L476.44,222.68 L475.79,220.43ZM482.57,219.94 L483.88,222.31 L477.75,225.05 L476.44,222.68ZM497.02,207.99 L496.42,209.29 L490.3,212.04 L490.89,210.73ZM496.42,209.29 L496.41,211.18 L490.29,213.93 L490.3,212.04ZM496.41,211.18 L497.07,213.44 L490.94,216.18 L490.29,213.93ZM497.07,213.44 L498.38,215.81 L492.25,218.55 L490.94,216.18Z" fill="#b2b7ee" stroke="#b2b7ee" stroke-width="0.35" stroke-linejoin="round"/>
<path d="M473.73,232.85 L476.48,234.06 L479.36,234.51 L482.15,234.13M467.6,235.6 L470.35,236.81 L473.23,237.26 L476.02,236.88M483.58,213.92 L482.52,214.49 L481.92,215.79 L481.91,217.68 L482.57,219.94 L483.88,222.31 L485.81,224.53 L488.23,226.35 L490.98,227.56 L493.86,228.01 L496.65,227.63M477.45,216.67 L476.39,217.23 L475.8,218.54 L475.79,220.43 L476.44,222.68 L477.75,225.05 L479.68,227.27 L482.1,229.1 L484.85,230.31 L487.73,230.76 L490.52,230.38M498.08,207.42 L497.02,207.99 L496.42,209.29 L496.41,211.18 L497.07,213.44 L498.38,215.81 L500.31,218.03 L502.73,219.85M491.95,210.17 L490.89,210.73 L490.3,212.04 L490.29,213.93 L490.94,216.18 L492.25,218.55 L494.18,220.77 L496.6,222.6" fill="none" stroke="#666db0" stroke-width="0.4" stroke-opacity="0.7"/>
<path d="M519.1,231.87 L521.95,231.33 L514.88,231.46 L512.03,232ZM529.63,218.58 L529.25,215.8 L522.18,215.93 L522.56,218.71ZM529.25,215.8 L528.32,213.61 L521.25,213.74 L522.18,215.93ZM532.6,231.62 L535.45,231.08 L528.38,231.21 L525.53,231.75ZM543.13,218.33 L542.75,215.55 L535.68,215.68 L536.06,218.46ZM542.75,215.55 L541.82,213.36 L534.75,213.49 L535.68,215.68ZM546.1,231.37 L548.95,230.83 L541.88,230.96 L539.03,231.5ZM556.63,218.08 L556.25,215.3 L549.18,215.43 L549.56,218.21ZM556.25,215.3 L555.32,213.11 L548.25,213.24 L549.18,215.43ZM559.6,231.12 L562.45,230.58 L555.38,230.71 L552.53,231.25ZM570.13,217.83 L569.75,215.05 L562.68,215.18 L563.06,217.96ZM569.75,215.05 L568.82,212.86 L561.75,212.99 L562.68,215.18Z" fill="#8589b2" stroke="#8589b2" stroke-width="0.35" stroke-linejoin="round"/>
<path d="M521.95,231.33 L524.57,229.86 L517.5,229.99 L514.88,231.46ZM524.57,229.86 L526.76,227.61 L519.69,227.74 L517.5,229.99ZM526.76,227.61 L528.39,224.79 L521.32,224.92 L519.69,227.74ZM528.39,224.79 L529.35,221.68 L522.28,221.81 L521.32,224.92ZM529.35,221.68 L529.63,218.58 L522.56,218.71 L522.28,221.81ZM535.45,231.08 L538.07,229.61 L531,229.74 L528.38,231.21ZM538.07,229.61 L540.26,227.36 L533.19,227.49 L531,229.74ZM540.26,227.36 L541.89,224.54 L534.82,224.67 L533.19,227.49ZM541.89,224.54 L542.85,221.43 L535.78,221.56 L534.82,224.67ZM542.85,221.43 L543.13,218.33 L536.06,218.46 L535.78,221.56ZM548.95,230.83 L551.57,229.36 L544.5,229.49 L541.88,230.96ZM551.57,229.36 L553.76,227.11 L546.69,227.24 L544.5,229.49ZM553.76,227.11 L555.39,224.29 L548.32,224.42 L546.69,227.24ZM555.39,224.29 L556.35,221.18 L549.28,221.31 L548.32,224.42ZM556.35,221.18 L556.63,218.08 L549.56,218.21 L549.28,221.31ZM562.45,230.58 L565.07,229.11 L558,229.24 L555.38,230.71ZM565.07,229.11 L567.26,226.86 L560.19,226.99 L558,229.24ZM567.26,226.86 L568.89,224.04 L561.82,224.17 L560.19,226.99ZM568.89,224.04 L569.85,220.93 L562.78,221.06 L561.82,224.17ZM569.85,220.93 L570.13,217.83 L563.06,217.96 L562.78,221.06Z" fill="#9498c6" stroke="#9498c6" stroke-width="0.35" stroke-linejoin="round"/>
<path d="M528.32,213.61 L526.99,212.21 L519.92,212.34 L521.25,213.74ZM526.99,212.21 L525.47,211.75 L518.4,211.88 L519.92,212.34ZM541.82,213.36 L540.49,211.96 L533.42,212.09 L534.75,213.49ZM540.49,211.96 L538.97,211.5 L531.9,211.63 L533.42,212.09ZM555.32,213.11 L553.99,211.71 L546.92,211.84 L548.25,213.24ZM553.99,211.71 L552.47,211.25 L545.4,211.38 L546.92,211.84ZM568.82,212.86 L567.49,211.46 L560.42,211.59 L561.75,212.99ZM567.49,211.46 L565.97,211 L558.9,211.13 L560.42,211.59Z" fill="#767a9e" stroke="#767a9e" stroke-width="0.35" stroke-linejoin="round"/>
<path d="M519.1,231.87 L521.95,231.33 L524.57,229.86 L526.76,227.61 L528.39,224.79 L529.35,221.68 L529.63,218.58 L529.25,215.8 L528.32,213.61 L526.99,212.21 L525.47,211.75M512.03,232 L514.88,231.46 L517.5,229.99 L519.69,227.74 L521.32,224.92 L522.28,221.81 L522.56,218.71 L522.18,215.93 L521.25,213.74 L519.92,212.34 L518.4,211.88M532.6,231.62 L535.45,231.08 L538.07,229.61 L540.26,227.36 L541.89,224.54 L542.85,221.43 L543.13,218.33 L542.75,215.55 L541.82,213.36 L540.49,211.96 L538.97,211.5M525.53,231.75 L528.38,231.21 L531,229.74 L533.19,227.49 L534.82,224.67 L535.78,221.56 L536.06,218.46 L535.68,215.68 L534.75,213.49 L533.42,212.09 L531.9,211.63M546.1,231.37 L548.95,230.83 L551.57,229.36 L553.76,227.11 L555.39,224.29 L556.35,221.18 L556.63,218.08 L556.25,215.3 L555.32,213.11 L553.99,211.71 L552.47,211.25M539.03,231.5 L541.88,230.96 L544.5,229.49 L546.69,227.24 L548.32,224.42 L549.28,221.31 L549.56,218.21 L549.18,215.43 L548.25,213.24 L546.92,211.84 L545.4,211.38M559.6,231.12 L562.45,230.58 L565.07,229.11 L567.26,226.86 L568.89,224.04 L569.85,220.93 L570.13,217.83 L569.75,215.05 L568.82,212.86 L567.49,211.46 L565.97,211M552.53,231.25 L555.38,230.71 L558,229.24 L560.19,226.99 L561.82,224.17 L562.78,221.06 L563.06,217.96 L562.68,215.18 L561.75,212.99 L560.42,211.59 L558.9,211.13" fill="none" stroke="#666db0" stroke-width="0.4" stroke-opacity="0.7"/>
<path d="M508.47,222.07 L509.54,225.14 L502.47,225.27 L501.4,222.2ZM509.54,225.14 L511.27,227.89 L504.2,228.02 L502.47,225.27ZM525.47,211.75 L523.97,212.27 L516.9,212.4 L518.4,211.88ZM521.97,221.82 L523.04,224.89 L515.97,225.02 L514.9,221.95ZM523.04,224.89 L524.77,227.64 L517.7,227.77 L515.97,225.02ZM538.97,211.5 L537.47,212.02 L530.4,212.15 L531.9,211.63ZM535.47,221.57 L536.54,224.64 L529.47,224.77 L528.4,221.7ZM536.54,224.64 L538.27,227.39 L531.2,227.52 L529.47,224.77ZM552.47,211.25 L550.97,211.77 L543.9,211.9 L545.4,211.38ZM548.97,221.32 L550.04,224.39 L542.97,224.52 L541.9,221.45ZM550.04,224.39 L551.77,227.14 L544.7,227.27 L542.97,224.52ZM565.97,211 L564.47,211.52 L557.4,211.65 L558.9,211.13Z" fill="#a3a7da" stroke="#a3a7da" stroke-width="0.35" stroke-linejoin="round"/>
<path d="M511.27,227.89 L513.55,230.06 L506.48,230.19 L504.2,228.02ZM513.55,230.06 L516.23,231.43 L509.16,231.56 L506.48,230.19ZM516.23,231.43 L519.1,231.87 L512.03,232 L509.16,231.56ZM524.77,227.64 L527.05,229.81 L519.98,229.94 L517.7,227.77ZM527.05,229.81 L529.73,231.18 L522.66,231.31 L519.98,229.94ZM529.73,231.18 L532.6,231.62 L525.53,231.75 L522.66,231.31ZM538.27,227.39 L540.55,229.56 L533.48,229.69 L531.2,227.52ZM540.55,229.56 L543.23,230.93 L536.16,231.06 L533.48,229.69ZM543.23,230.93 L546.1,231.37 L539.03,231.5 L536.16,231.06ZM551.77,227.14 L554.05,229.31 L546.98,229.44 L544.7,227.27ZM554.05,229.31 L556.73,230.68 L549.66,230.81 L546.98,229.44ZM556.73,230.68 L559.6,231.12 L552.53,231.25 L549.66,230.81Z" fill="#9498c6" stroke="#9498c6" stroke-width="0.35" stroke-linejoin="round"/>
<path d="M523.97,212.27 L522.7,213.71 L515.63,213.84 L516.9,212.4ZM522.7,213.71 L521.86,215.94 L514.79,216.07 L515.63,213.84ZM521.86,215.94 L521.58,218.73 L514.51,218.86 L514.79,216.07ZM521.58,218.73 L521.97,221.82 L514.9,221.95 L514.51,218.86ZM537.47,212.02 L536.2,213.46 L529.13,213.59 L530.4,212.15ZM536.2,213.46 L535.36,215.69 L528.29,215.82 L529.13,213.59ZM535.36,215.69 L535.08,218.48 L528.01,218.61 L528.29,215.82ZM535.08,218.48 L535.47,221.57 L528.4,221.7 L528.01,218.61ZM550.97,211.77 L549.7,213.21 L542.63,213.34 L543.9,211.9ZM549.7,213.21 L548.86,215.44 L541.79,215.57 L542.63,213.34ZM548.86,215.44 L548.58,218.23 L541.51,218.36 L541.79,215.57ZM548.58,218.23 L548.97,221.32 L541.9,221.45 L541.51,218.36ZM564.47,211.52 L563.2,212.96 L556.13,213.09 L557.4,211.65ZM563.2,212.96 L562.36,215.19 L555.29,215.32 L556.13,213.09ZM562.36,215.19 L562.08,217.98 L555.01,218.11 L555.29,215.32ZM562.08,217.98 L562.47,221.07 L555.4,221.2 L555.01,218.11Z" fill="#b2b7ee" stroke="#b2b7ee" stroke-width="0.35" stroke-linejoin="round"/>
<path d="M508.47,222.07 L509.54,225.14 L511.27,227.89 L513.55,230.06 L516.23,231.43 L519.1,231.87M501.4,222.2 L502.47,225.27 L504.2,228.02 L506.48,230.19 L509.16,231.56 L512.03,232M525.47,211.75 L523.97,212.27 L522.7,213.71 L521.86,215.94 L521.58,218.73 L521.97,221.82 L523.04,224.89 L524.77,227.64 L527.05,229.81 L529.73,231.18 L532.6,231.62M518.4,211.88 L516.9,212.4 L515.63,213.84 L514.79,216.07 L514.51,218.86 L514.9,221.95 L515.97,225.02 L517.7,227.77 L519.98,229.94 L522.66,231.31 L525.53,231.75M538.97,211.5 L537.47,212.02 L536.2,213.46 L535.36,215.69 L535.08,218.48 L535.47,221.57 L536.54,224.64 L538.27,227.39 L540.55,229.56 L543.23,230.93 L546.1,231.37M531.9,211.63 L530.4,212.15 L529.13,213.59 L528.29,215.82 L528.01,218.61 L528.4,221.7 L529.47,224.77 L531.2,227.52 L533.48,229.69 L536.16,231.06 L539.03,231.5M552.47,211.25 L550.97,211.77 L549.7,213.21 L548.86,215.44 L548.58,218.23 L548.97,221.32 L550.04,224.39 L551.77,227.14 L554.05,229.31 L556.73,230.68 L559.6,231.12M545.4,211.38 L543.9,211.9 L542.63,213.34 L541.79,215.57 L541.51,218.36 L541.9,221.45 L542.97,224.52 L544.7,227.27 L546.98,229.44 L549.66,230.81 L552.53,231.25M565.97,211 L564.47,211.52 L563.2,212.96 L562.36,215.19 L562.08,217.98 L562.47,221.07M558.9,211.13 L557.4,211.65 L556.13,213.09 L555.29,215.32 L555.01,218.11 L555.4,221.2" fill="none" stroke="#666db0" stroke-width="0.4" stroke-opacity="0.7"/>
<path d="M522.42,254.38 L525.21,253.67 L518.14,253.77 L515.35,254.49ZM532.51,241.18 L532.14,238.64 L525.07,238.75 L525.44,241.29ZM532.14,238.64 L531.28,236.71 L524.21,236.81 L525.07,238.75ZM537.53,254.16 L540.33,253.44 L533.26,253.55 L530.46,254.26ZM547.62,240.96 L547.25,238.42 L540.18,238.52 L540.55,241.06ZM547.25,238.42 L546.39,236.49 L539.32,236.59 L540.18,238.52ZM552.64,253.94 L555.44,253.22 L548.37,253.33 L545.57,254.04ZM562.73,240.74 L562.36,238.2 L555.29,238.3 L555.66,240.84ZM562.36,238.2 L561.5,236.26 L554.43,236.37 L555.29,238.3ZM567.76,253.72 L570.55,253 L563.48,253.1 L560.69,253.82ZM577.84,240.52 L577.47,237.98 L570.4,238.08 L570.77,240.62ZM577.47,237.98 L576.61,236.04 L569.54,236.15 L570.4,238.08ZM582.87,253.49 L585.66,252.78 L578.59,252.88 L575.8,253.6ZM592.95,240.29 L592.58,237.75 L585.51,237.86 L585.88,240.4Z" fill="#8589b2" stroke="#8589b2" stroke-width="0.35" stroke-linejoin="round"/>
<path d="M525.21,253.67 L527.75,252.09 L520.68,252.2 L518.14,253.77ZM527.75,252.09 L529.85,249.82 L522.77,249.92 L520.68,252.2ZM529.85,249.82 L531.38,247.06 L524.31,247.16 L522.77,249.92ZM531.38,247.06 L532.27,244.08 L525.2,244.18 L524.31,247.16ZM532.27,244.08 L532.51,241.18 L525.44,241.29 L525.2,244.18ZM540.33,253.44 L542.86,251.87 L535.79,251.98 L533.26,253.55ZM542.86,251.87 L544.96,249.59 L537.89,249.7 L535.79,251.98ZM544.96,249.59 L546.49,246.83 L539.42,246.94 L537.89,249.7ZM546.49,246.83 L547.38,243.86 L540.31,243.96 L539.42,246.94ZM547.38,243.86 L547.62,240.96 L540.55,241.06 L540.31,243.96ZM555.44,253.22 L557.97,251.65 L550.9,251.75 L548.37,253.33ZM557.97,251.65 L560.07,249.37 L553,249.48 L550.9,251.75ZM560.07,249.37 L561.6,246.61 L554.53,246.71 L553,249.48ZM561.6,246.61 L562.49,243.64 L555.42,243.74 L554.53,246.71ZM562.49,243.64 L562.73,240.74 L555.66,240.84 L555.42,243.74ZM570.55,253 L573.08,251.43 L566.01,251.53 L563.48,253.1ZM573.08,251.43 L575.18,249.15 L568.11,249.25 L566.01,251.53ZM575.18,249.15 L576.71,246.39 L569.64,246.49 L568.11,249.25ZM576.71,246.39 L577.6,243.41 L570.53,243.52 L569.64,246.49ZM577.6,243.41 L577.84,240.52 L570.77,240.62 L570.53,243.52ZM585.66,252.78 L588.19,251.21 L581.12,251.31 L578.59,252.88ZM588.19,251.21 L590.29,248.93 L583.22,249.03 L581.12,251.31ZM590.29,248.93 L591.82,246.17 L584.75,246.27 L583.22,249.03ZM591.82,246.17 L592.71,243.19 L585.64,243.3 L584.75,246.27ZM592.71,243.19 L592.95,240.29 L585.88,240.4 L585.64,243.3Z" fill="#9498c6" stroke="#9498c6" stroke-width="0.35" stroke-linejoin="round"/>
<path d="M531.28,236.71 L530.08,235.57 L523.01,235.67 L524.21,236.81ZM530.08,235.57 L528.74,235.34 L521.67,235.44 L523.01,235.67ZM546.39,236.49 L545.19,235.35 L538.12,235.45 L539.32,236.59ZM545.19,235.35 L543.85,235.11 L536.78,235.22 L538.12,235.45ZM561.5,236.26 L560.3,235.13 L553.23,235.23 L554.43,236.37ZM560.3,235.13 L558.96,234.89 L551.89,235 L553.23,235.23ZM576.61,236.04 L575.41,234.9 L568.34,235.01 L569.54,236.15ZM575.41,234.9 L574.07,234.67 L567,234.77 L568.34,235.01Z" fill="#767a9e" stroke="#767a9e" stroke-width="0.35" stroke-linejoin="round"/>
<path d="M522.42,254.38 L525.21,253.67 L527.75,252.09 L529.85,249.82 L531.38,247.06 L532.27,244.08 L532.51,241.18 L532.14,238.64 L531.28,236.71 L530.08,235.57 L528.74,235.34M515.35,254.49 L518.14,253.77 L520.68,252.2 L522.77,249.92 L524.31,247.16 L525.2,244.18 L525.44,241.29 L525.07,238.75 L524.21,236.81 L523.01,235.67 L521.67,235.44M537.53,254.16 L540.33,253.44 L542.86,251.87 L544.96,249.59 L546.49,246.83 L547.38,243.86 L547.62,240.96 L547.25,238.42 L546.39,236.49 L545.19,235.35 L543.85,235.11M530.46,254.26 L533.26,253.55 L535.79,251.98 L537.89,249.7 L539.42,246.94 L540.31,243.96 L540.55,241.06 L540.18,238.52 L539.32,236.59 L538.12,235.45 L536.78,235.22M552.64,253.94 L555.44,253.22 L557.97,251.65 L560.07,249.37 L561.6,246.61 L562.49,243.64 L562.73,240.74 L562.36,238.2 L561.5,236.26 L560.3,235.13 L558.96,234.89M545.57,254.04 L548.37,253.33 L550.9,251.75 L553,249.48 L554.53,246.71 L555.42,243.74 L555.66,240.84 L555.29,238.3 L554.43,236.37 L553.23,235.23 L551.89,235M567.76,253.72 L570.55,253 L573.08,251.43 L575.18,249.15 L576.71,246.39 L577.6,243.41 L577.84,240.52 L577.47,237.98 L576.61,236.04 L575.41,234.9 L574.07,234.67M560.69,253.82 L563.48,253.1 L566.01,251.53 L568.11,249.25 L569.64,246.49 L570.53,243.52 L570.77,240.62 L570.4,238.08 L569.54,236.15 L568.34,235.01 L567,234.77M582.87,253.49 L585.66,252.78 L588.19,251.21 L590.29,248.93 L591.82,246.17 L592.71,243.19 L592.95,240.29 L592.58,237.75M575.8,253.6 L578.59,252.88 L581.12,251.31 L583.22,249.03 L584.75,246.27 L585.64,243.3 L585.88,240.4 L585.51,237.86" fill="none" stroke="#666db0" stroke-width="0.4" stroke-opacity="0.7"/>
<path d="M514.49,251.14 L516.86,253.05 L509.79,253.16 L507.42,251.25ZM516.86,253.05 L519.57,254.17 L512.5,254.27 L509.79,253.16ZM519.57,254.17 L522.42,254.38 L515.35,254.49 L512.5,254.27ZM529.6,250.92 L531.97,252.83 L524.9,252.94 L522.53,251.02ZM531.97,252.83 L534.68,253.95 L527.61,254.05 L524.9,252.94ZM534.68,253.95 L537.53,254.16 L530.46,254.26 L527.61,254.05ZM544.71,250.7 L547.08,252.61 L540.01,252.71 L537.64,250.8ZM547.08,252.61 L549.79,253.73 L542.72,253.83 L540.01,252.71ZM549.79,253.73 L552.64,253.94 L545.57,254.04 L542.72,253.83ZM559.82,250.48 L562.19,252.39 L555.12,252.49 L552.75,250.58ZM562.19,252.39 L564.9,253.5 L557.83,253.61 L555.12,252.49ZM564.9,253.5 L567.76,253.72 L560.69,253.82 L557.83,253.61ZM574.93,250.25 L577.31,252.17 L570.23,252.27 L567.86,250.36ZM577.31,252.17 L580.01,253.28 L572.94,253.39 L570.23,252.27ZM580.01,253.28 L582.87,253.49 L575.8,253.6 L572.94,253.39Z" fill="#9498c6" stroke="#9498c6" stroke-width="0.35" stroke-linejoin="round"/>
<path d="M528.74,235.34 L527.46,236.03 L520.39,236.13 L521.67,235.44ZM526.45,245.53 L527.72,248.4 L520.65,248.51 L519.38,245.63ZM527.72,248.4 L529.6,250.92 L522.53,251.02 L520.65,248.51ZM543.85,235.11 L542.57,235.81 L535.5,235.91 L536.78,235.22ZM541.56,245.3 L542.83,248.18 L535.76,248.28 L534.49,245.41ZM542.83,248.18 L544.71,250.7 L537.64,250.8 L535.76,248.28ZM558.96,234.89 L557.68,235.58 L550.61,235.69 L551.89,235ZM556.67,245.08 L557.94,247.96 L550.87,248.06 L549.6,245.19ZM557.94,247.96 L559.82,250.48 L552.75,250.58 L550.87,248.06ZM574.07,234.67 L572.79,235.36 L565.72,235.47 L567,234.77ZM571.78,244.86 L573.05,247.74 L565.98,247.84 L564.71,244.96ZM573.05,247.74 L574.93,250.25 L567.86,250.36 L565.98,247.84Z" fill="#a3a7da" stroke="#a3a7da" stroke-width="0.35" stroke-linejoin="round"/>
<path d="M527.46,236.03 L526.43,237.58 L519.36,237.68 L520.39,236.13ZM526.43,237.58 L525.85,239.84 L518.78,239.94 L519.36,237.68ZM525.85,239.84 L525.83,242.57 L518.76,242.68 L518.78,239.94ZM525.83,242.57 L526.45,245.53 L519.38,245.63 L518.76,242.68ZM542.57,235.81 L541.55,237.36 L534.48,237.46 L535.5,235.91ZM541.55,237.36 L540.96,239.61 L533.89,239.72 L534.48,237.46ZM540.96,239.61 L540.94,242.35 L533.87,242.46 L533.89,239.72ZM540.94,242.35 L541.56,245.3 L534.49,245.41 L533.87,242.46ZM557.68,235.58 L556.66,237.14 L549.59,237.24 L550.61,235.69ZM556.66,237.14 L556.07,239.39 L549,239.5 L549.59,237.24ZM556.07,239.39 L556.05,242.13 L548.98,242.23 L549,239.5ZM556.05,242.13 L556.67,245.08 L549.6,245.19 L548.98,242.23ZM572.79,235.36 L571.77,236.91 L564.7,237.02 L565.72,235.47ZM571.77,236.91 L571.18,239.17 L564.11,239.27 L564.7,237.02ZM571.18,239.17 L571.16,241.91 L564.09,242.01 L564.11,239.27ZM571.16,241.91 L571.78,244.86 L564.71,244.96 L564.09,242.01Z" fill="#b2b7ee" stroke="#b2b7ee" stroke-width="0.35" stroke-linejoin="round"/>
<path d="M514.49,251.14 L516.86,253.05 L519.57,254.17 L522.42,254.38M507.42,251.25 L509.79,253.16 L512.5,254.27 L515.35,254.49M528.74,235.34 L527.46,236.03 L526.43,237.58 L525.85,239.84 L525.83,242.57 L526.45,245.53 L527.72,248.4 L529.6,250.92 L531.97,252.83 L534.68,253.95 L537.53,254.16M521.67,235.44 L520.39,236.13 L519.36,237.68 L518.78,239.94 L518.76,242.68 L519.38,245.63 L520.65,248.51 L522.53,251.02 L524.9,252.94 L527.61,254.05 L530.46,254.26M543.85,235.11 L542.57,235.81 L541.55,237.36 L540.96,239.61 L540.94,242.35 L541.56,245.3 L542.83,248.18 L544.71,250.7 L547.08,252.61 L549.79,253.73 L552.64,253.94M536.78,235.22 L535.5,235.91 L534.48,237.46 L533.89,239.72 L533.87,242.46 L534.49,245.41 L535.76,248.28 L537.64,250.8 L540.01,252.71 L542.72,253.83 L545.57,254.04M558.96,234.89 L557.68,235.58 L556.66,237.14 L556.07,239.39 L556.05,242.13 L556.67,245.08 L557.94,247.96 L559.82,250.48 L562.19,252.39 L564.9,253.5 L567.76,253.72M551.89,235 L550.61,235.69 L549.59,237.24 L549,239.5 L548.98,242.23 L549.6,245.19 L550.87,248.06 L552.75,250.58 L555.12,252.49 L557.83,253.61 L560.69,253.82M574.07,234.67 L572.79,235.36 L571.77,236.91 L571.18,239.17 L571.16,241.91 L571.78,244.86 L573.05,247.74 L574.93,250.25 L577.31,252.17 L580.01,253.28 L582.87,253.49M567,234.77 L565.72,235.47 L564.7,237.02 L564.11,239.27 L564.09,242.01 L564.71,244.96 L565.98,247.84 L567.86,250.36 L570.23,252.27 L572.94,253.39 L575.8,253.6" fill="none" stroke="#666db0" stroke-width="0.4" stroke-opacity="0.7"/>
<path d="M544.51,202.43 L547.49,200.68 L542.9,202.45 L539.92,204.2ZM547.49,200.68 L549.8,198.05 L545.2,199.81 L542.9,202.45ZM549.8,198.05 L551.22,194.77 L546.63,196.54 L545.2,199.81ZM551.22,194.77 L551.65,191.17 L547.06,192.94 L546.63,196.54ZM548.84,200.77 L551.82,199.02 L547.23,200.78 L544.25,202.53ZM551.82,199.02 L554.13,196.38 L549.54,198.15 L547.23,200.78ZM554.13,196.38 L555.56,193.11 L550.96,194.87 L549.54,198.15ZM555.56,193.11 L555.99,189.51 L551.39,191.27 L550.96,194.87ZM553.17,199.1 L556.16,197.35 L551.56,199.12 L548.58,200.87ZM556.16,197.35 L558.46,194.71 L553.87,196.48 L551.56,199.12ZM558.46,194.71 L559.89,191.44 L555.3,193.2 L553.87,196.48ZM559.89,191.44 L560.32,187.84 L555.73,189.6 L555.3,193.2Z" fill="#9498c6" stroke="#9498c6" stroke-width="0.35" stroke-linejoin="round"/>
<path d="M551.65,191.17 L551.06,187.59 L546.47,189.36 L547.06,192.94ZM551.06,187.59 L549.53,184.37 L544.94,186.14 L546.47,189.36ZM549.53,184.37 L547.24,181.82 L542.64,183.59 L544.94,186.14ZM555.99,189.51 L555.4,185.92 L550.8,187.69 L551.39,191.27ZM555.4,185.92 L553.87,182.71 L549.28,184.47 L550.8,187.69ZM553.87,182.71 L551.57,180.15 L546.98,181.92 L549.28,184.47ZM560.32,187.84 L559.73,184.26 L555.14,186.02 L555.73,189.6ZM559.73,184.26 L558.2,181.04 L553.61,182.8 L555.14,186.02ZM558.2,181.04 L555.9,178.49 L551.31,180.25 L553.61,182.8Z" fill="#8589b2" stroke="#8589b2" stroke-width="0.35" stroke-linejoin="round"/>
<path d="M547.24,181.82 L544.42,180.18 L539.82,181.95 L542.64,183.59ZM544.42,180.18 L541.37,179.6 L536.78,181.37 L539.82,181.95ZM541.37,179.6 L538.42,180.13 L533.83,181.9 L536.78,181.37ZM551.57,180.15 L548.75,178.51 L544.16,180.28 L546.98,181.92ZM548.75,178.51 L545.7,177.93 L541.11,179.7 L544.16,180.28ZM545.7,177.93 L542.75,178.47 L538.16,180.23 L541.11,179.7ZM555.9,178.49 L553.08,176.85 L548.49,178.61 L551.31,180.25ZM553.08,176.85 L550.04,176.27 L545.44,178.03 L548.49,178.61ZM550.04,176.27 L547.08,176.8 L542.49,178.57 L545.44,178.03Z" fill="#767a9e" stroke="#767a9e" stroke-width="0.35" stroke-linejoin="round"/>
<path d="M544.51,202.43 L547.49,200.68 L549.8,198.05 L551.22,194.77 L551.65,191.17 L551.06,187.59 L549.53,184.37 L547.24,181.82 L544.42,180.18 L541.37,179.6 L538.42,180.13M539.92,204.2 L542.9,202.45 L545.2,199.81 L546.63,196.54 L547.06,192.94 L546.47,189.36 L544.94,186.14 L542.64,183.59 L539.82,181.95 L536.78,181.37 L533.83,181.9M548.84,200.77 L551.82,199.02 L554.13,196.38 L555.56,193.11 L555.99,189.51 L555.4,185.92 L553.87,182.71 L551.57,180.15 L548.75,178.51 L545.7,177.93 L542.75,178.47M544.25,202.53 L547.23,200.78 L549.54,198.15 L550.96,194.87 L551.39,191.27 L550.8,187.69 L549.28,184.47 L546.98,181.92 L544.16,180.28 L541.11,179.7 L538.16,180.23M553.17,199.1 L556.16,197.35 L558.46,194.71 L559.89,191.44 L560.32,187.84 L559.73,184.26 L558.2,181.04 L555.9,178.49 L553.08,176.85 L550.04,176.27 L547.08,176.8M548.58,200.87 L551.56,199.12 L553.87,196.48 L555.3,193.2 L555.73,189.6 L555.14,186.02 L553.61,182.8 L551.31,180.25 L548.49,178.61 L545.44,178.03 L542.49,178.57" fill="none" stroke="#666db0" stroke-width="0.4" stroke-opacity="0.7"/>
<path d="M529.7,195.81 L531.66,198.86 L527.07,200.63 L525.1,197.58ZM538.42,180.13 L535.87,181.72 L531.28,183.48 L533.83,181.9ZM533,187.3 L533.01,190.73 L528.41,192.49 L528.41,189.06ZM533.01,190.73 L534.03,194.14 L529.44,195.91 L528.41,192.49ZM534.03,194.14 L535.99,197.2 L531.4,198.96 L529.44,195.91ZM542.75,178.47 L540.2,180.05 L535.61,181.82 L538.16,180.23ZM537.34,185.63 L537.34,189.06 L532.75,190.83 L532.74,187.39ZM537.34,189.06 L538.36,192.48 L533.77,194.24 L532.75,190.83ZM538.36,192.48 L540.32,195.53 L535.73,197.29 L533.77,194.24ZM547.08,176.8 L544.54,178.38 L539.94,180.15 L542.49,178.57ZM541.67,183.96 L541.67,187.4 L537.08,189.16 L537.08,185.73ZM541.67,187.4 L542.7,190.81 L538.1,192.58 L537.08,189.16Z" fill="#a3a7da" stroke="#a3a7da" stroke-width="0.35" stroke-linejoin="round"/>
<path d="M531.66,198.86 L534.39,201.25 L529.8,203.01 L527.07,200.63ZM534.39,201.25 L537.64,202.72 L533.05,204.49 L529.8,203.01ZM537.64,202.72 L541.12,203.13 L536.53,204.9 L533.05,204.49ZM541.12,203.13 L544.51,202.43 L539.92,204.2 L536.53,204.9ZM535.99,197.2 L538.72,199.58 L534.13,201.35 L531.4,198.96ZM538.72,199.58 L541.98,201.05 L537.38,202.82 L534.13,201.35ZM541.98,201.05 L545.46,201.47 L540.86,203.23 L537.38,202.82ZM545.46,201.47 L548.84,200.77 L544.25,202.53 L540.86,203.23ZM540.32,195.53 L543.06,197.91 L538.46,199.68 L535.73,197.29ZM543.06,197.91 L546.31,199.39 L541.72,201.15 L538.46,199.68ZM546.31,199.39 L549.79,199.8 L545.2,201.57 L541.72,201.15ZM549.79,199.8 L553.17,199.1 L548.58,200.87 L545.2,201.57Z" fill="#9498c6" stroke="#9498c6" stroke-width="0.35" stroke-linejoin="round"/>
<path d="M535.87,181.72 L534,184.19 L529.4,185.95 L531.28,183.48ZM534,184.19 L533,187.3 L528.41,189.06 L529.4,185.95ZM540.2,180.05 L538.33,182.52 L533.74,184.29 L535.61,181.82ZM538.33,182.52 L537.34,185.63 L532.74,187.39 L533.74,184.29ZM544.54,178.38 L542.66,180.85 L538.07,182.62 L539.94,180.15ZM542.66,180.85 L541.67,183.96 L537.08,185.73 L538.07,182.62Z" fill="#b2b7ee" stroke="#b2b7ee" stroke-width="0.35" stroke-linejoin="round"/>
<path d="M529.7,195.81 L531.66,198.86 L534.39,201.25 L537.64,202.72 L541.12,203.13 L544.51,202.43M525.1,197.58 L527.07,200.63 L529.8,203.01 L533.05,204.49 L536.53,204.9 L539.92,204.2M538.42,180.13 L535.87,181.72 L534,184.19 L533,187.3 L533.01,190.73 L534.03,194.14 L535.99,197.2 L538.72,199.58 L541.98,201.05 L545.46,201.47 L548.84,200.77M533.83,181.9 L531.28,183.48 L529.4,185.95 L528.41,189.06 L528.41,192.49 L529.44,195.91 L531.4,198.96 L534.13,201.35 L537.38,202.82 L540.86,203.23 L544.25,202.53M542.75,178.47 L540.2,180.05 L538.33,182.52 L537.34,185.63 L537.34,189.06 L538.36,192.48 L540.32,195.53 L543.06,197.91 L546.31,199.39 L549.79,199.8 L553.17,199.1M538.16,180.23 L535.61,181.82 L533.74,184.29 L532.74,187.39 L532.75,190.83 L533.77,194.24 L535.73,197.29 L538.46,199.68 L541.72,201.15 L545.2,201.57 L548.58,200.87M547.08,176.8 L544.54,178.38 L542.66,180.85 L541.67,183.96 L541.67,187.4 L542.7,190.81M542.49,178.57 L539.94,180.15 L538.07,182.62 L537.08,185.73 L537.08,189.16 L538.1,192.58" fill="none" stroke="#666db0" stroke-width="0.4" stroke-opacity="0.7"/>
<path d="M575.27,216.69 L578.37,216.55 L571.31,216.13 L568.21,216.28ZM588.26,204.28 L588.28,201.27 L581.22,200.85 L581.2,203.86ZM588.28,201.27 L587.65,198.77 L580.59,198.36 L581.22,200.85ZM590.72,217.6 L593.82,217.45 L586.76,217.04 L583.66,217.19ZM603.72,205.19 L603.73,202.18 L596.67,201.76 L596.66,204.77ZM603.73,202.18 L603.11,199.68 L596.05,199.27 L596.67,201.76ZM606.18,218.51 L609.28,218.36 L602.22,217.95 L599.12,218.1Z" fill="#8589b2" stroke="#8589b2" stroke-width="0.35" stroke-linejoin="round"/>
<path d="M578.37,216.55 L581.34,215.4 L574.28,214.98 L571.31,216.13ZM581.34,215.4 L583.97,213.36 L576.91,212.94 L574.28,214.98ZM583.97,213.36 L586.08,210.64 L579.02,210.22 L576.91,212.94ZM586.08,210.64 L587.53,207.51 L580.47,207.09 L579.02,210.22ZM587.53,207.51 L588.26,204.28 L581.2,203.86 L580.47,207.09ZM593.82,217.45 L596.79,216.3 L589.73,215.89 L586.76,217.04ZM596.79,216.3 L599.42,214.27 L592.37,213.85 L589.73,215.89ZM599.42,214.27 L601.53,211.55 L594.47,211.13 L592.37,213.85ZM601.53,211.55 L602.99,208.42 L595.93,208 L594.47,211.13ZM602.99,208.42 L603.72,205.19 L596.66,204.77 L595.93,208ZM609.28,218.36 L612.25,217.21 L605.19,216.8 L602.22,217.95ZM612.25,217.21 L614.88,215.18 L607.82,214.76 L605.19,216.8Z" fill="#9498c6" stroke="#9498c6" stroke-width="0.35" stroke-linejoin="round"/>
<path d="M587.65,198.77 L586.52,197.05 L579.46,196.64 L580.59,198.36ZM586.52,197.05 L585.06,196.27 L578.01,195.85 L579.46,196.64ZM603.11,199.68 L601.97,197.96 L594.91,197.54 L596.05,199.27ZM601.97,197.96 L600.52,197.18 L593.46,196.76 L594.91,197.54Z" fill="#767a9e" stroke="#767a9e" stroke-width="0.35" stroke-linejoin="round"/>
<path d="M575.27,216.69 L578.37,216.55 L581.34,215.4 L583.97,213.36 L586.08,210.64 L587.53,207.51 L588.26,204.28 L588.28,201.27 L587.65,198.77 L586.52,197.05 L585.06,196.27M568.21,216.28 L571.31,216.13 L574.28,214.98 L576.91,212.94 L579.02,210.22 L580.47,207.09 L581.2,203.86 L581.22,200.85 L580.59,198.36 L579.46,196.64 L578.01,195.85M590.72,217.6 L593.82,217.45 L596.79,216.3 L599.42,214.27 L601.53,211.55 L602.99,208.42 L603.72,205.19 L603.73,202.18 L603.11,199.68 L601.97,197.96 L600.52,197.18M583.66,217.19 L586.76,217.04 L589.73,215.89 L592.37,213.85 L594.47,211.13 L595.93,208 L596.66,204.77 L596.67,201.76 L596.05,199.27 L594.91,197.54 L593.46,196.76M606.18,218.51 L609.28,218.36 L612.25,217.21 L614.88,215.18M599.12,218.1 L602.22,217.95 L605.19,216.8 L607.82,214.76" fill="none" stroke="#666db0" stroke-width="0.4" stroke-opacity="0.7"/>
<path d="M572.27,215.82 L575.27,216.69 L568.21,216.28 L565.21,215.4ZM585.04,214.91 L587.72,216.73 L580.66,216.31 L577.99,214.5ZM587.72,216.73 L590.72,217.6 L583.66,217.19 L580.66,216.31ZM600.5,215.82 L603.18,217.64 L596.12,217.22 L593.44,215.41ZM603.18,217.64 L606.18,218.51 L599.12,218.1 L596.12,217.22Z" fill="#9498c6" stroke="#9498c6" stroke-width="0.35" stroke-linejoin="round"/>
<path d="M585.06,196.27 L583.51,196.51 L576.45,196.09 L578.01,195.85ZM581.34,209.23 L582.87,212.33 L575.81,211.92 L574.28,208.81ZM582.87,212.33 L585.04,214.91 L577.99,214.5 L575.81,211.92ZM600.52,197.18 L598.97,197.41 L591.91,197 L593.46,196.76ZM596.8,210.14 L598.33,213.24 L591.27,212.82 L589.74,209.72ZM598.33,213.24 L600.5,215.82 L593.44,215.41 L591.27,212.82Z" fill="#a3a7da" stroke="#a3a7da" stroke-width="0.35" stroke-linejoin="round"/>
<path d="M583.51,196.51 L582.08,197.75 L575.02,197.33 L576.45,196.09ZM582.08,197.75 L581,199.88 L573.94,199.46 L575.02,197.33ZM581,199.88 L580.44,202.68 L573.38,202.27 L573.94,199.46ZM580.44,202.68 L580.53,205.91 L573.47,205.49 L573.38,202.27ZM580.53,205.91 L581.34,209.23 L574.28,208.81 L573.47,205.49ZM598.97,197.41 L597.54,198.66 L590.48,198.24 L591.91,197ZM597.54,198.66 L596.45,200.78 L589.39,200.37 L590.48,198.24ZM596.45,200.78 L595.89,203.59 L588.83,203.18 L589.39,200.37ZM595.89,203.59 L595.98,206.82 L588.92,206.4 L588.83,203.18ZM595.98,206.82 L596.8,210.14 L589.74,209.72 L588.92,206.4Z" fill="#b2b7ee" stroke="#b2b7ee" stroke-width="0.35" stroke-linejoin="round"/>
<path d="M572.27,215.82 L575.27,216.69M565.21,215.4 L568.21,216.28M585.06,196.27 L583.51,196.51 L582.08,197.75 L581,199.88 L580.44,202.68 L580.53,205.91 L581.34,209.23 L582.87,212.33 L585.04,214.91 L587.72,216.73 L590.72,217.6M578.01,195.85 L576.45,196.09 L575.02,197.33 L573.94,199.46 L573.38,202.27 L573.47,205.49 L574.28,208.81 L575.81,211.92 L577.99,214.5 L580.66,216.31 L583.66,217.19M600.52,197.18 L598.97,197.41 L597.54,198.66 L596.45,200.78 L595.89,203.59 L595.98,206.82 L596.8,210.14 L598.33,213.24 L600.5,215.82 L603.18,217.64 L606.18,218.51M593.46,196.76 L591.91,197 L590.48,198.24 L589.39,200.37 L588.83,203.18 L588.92,206.4 L589.74,209.72 L591.27,212.82 L593.44,215.41 L596.12,217.22 L599.12,218.1" fill="none" stroke="#666db0" stroke-width="0.4" stroke-opacity="0.7"/>
<path d="M568.49,219.7 L569.05,222.49 L567.77,215.54 L567.21,212.75ZM569.05,222.49 L570.49,225.01 L569.2,218.05 L567.77,215.54ZM571.18,234.32 L571.74,237.11 L570.46,230.16 L569.9,227.37ZM571.74,237.11 L573.18,239.62 L571.9,232.67 L570.46,230.16ZM573.87,248.93 L574.43,251.72 L573.15,244.77 L572.59,241.98ZM574.43,251.72 L575.87,254.24 L574.59,247.28 L573.15,244.77Z" fill="#767a9e" stroke="#767a9e" stroke-width="0.35" stroke-linejoin="round"/>
<path d="M570.49,225.01 L572.68,227.07 L571.4,220.11 L569.2,218.05ZM572.68,227.07 L575.42,228.55 L574.14,221.6 L571.4,220.11ZM588.04,226.88 L588.68,225.48 L587.4,218.53 L586.76,219.93ZM573.18,239.62 L575.37,241.68 L574.09,234.73 L571.9,232.67ZM575.37,241.68 L578.11,243.17 L576.83,236.21 L574.09,234.73ZM590.74,241.5 L591.37,240.1 L590.09,233.14 L589.45,234.55ZM575.87,254.24 L578.06,256.3 L576.78,249.35 L574.59,247.28ZM578.06,256.3 L580.81,257.78 L579.52,250.83 L576.78,249.35ZM593.43,256.11 L594.06,254.71 L592.78,247.76 L592.15,249.16Z" fill="#8589b2" stroke="#8589b2" stroke-width="0.35" stroke-linejoin="round"/>
<path d="M575.42,228.55 L578.46,229.38 L577.18,222.42 L574.14,221.6ZM578.46,229.38 L581.51,229.54 L580.23,222.58 L577.18,222.42ZM581.51,229.54 L584.29,229.09 L583.01,222.14 L580.23,222.58ZM584.29,229.09 L586.54,228.15 L585.26,221.2 L583.01,222.14ZM586.54,228.15 L588.04,226.88 L586.76,219.93 L585.26,221.2ZM578.11,243.17 L581.15,243.99 L579.87,237.04 L576.83,236.21ZM581.15,243.99 L584.2,244.15 L582.92,237.2 L579.87,237.04ZM584.2,244.15 L586.98,243.71 L585.7,236.75 L582.92,237.2ZM586.98,243.71 L589.23,242.77 L587.95,235.81 L585.7,236.75ZM589.23,242.77 L590.74,241.5 L589.45,234.55 L587.95,235.81ZM580.81,257.78 L583.85,258.61 L582.56,251.65 L579.52,250.83ZM583.85,258.61 L586.9,258.77 L585.62,251.82 L582.56,251.65ZM586.9,258.77 L589.68,258.32 L588.39,251.37 L585.62,251.82ZM589.68,258.32 L591.92,257.38 L590.64,250.43 L588.39,251.37ZM591.92,257.38 L593.43,256.11 L592.15,249.16 L590.64,250.43Z" fill="#9498c6" stroke="#9498c6" stroke-width="0.35" stroke-linejoin="round"/>
<path d="M568.49,219.7 L569.05,222.49 L570.49,225.01 L572.68,227.07 L575.42,228.55 L578.46,229.38 L581.51,229.54 L584.29,229.09 L586.54,228.15 L588.04,226.88 L588.68,225.48M567.21,212.75 L567.77,215.54 L569.2,218.05 L571.4,220.11 L574.14,221.6 L577.18,222.42 L580.23,222.58 L583.01,222.14 L585.26,221.2 L586.76,219.93 L587.4,218.53M571.18,234.32 L571.74,237.11 L573.18,239.62 L575.37,241.68 L578.11,243.17 L581.15,243.99 L584.2,244.15 L586.98,243.71 L589.23,242.77 L590.74,241.5 L591.37,240.1M569.9,227.37 L570.46,230.16 L571.9,232.67 L574.09,234.73 L576.83,236.21 L579.87,237.04 L582.92,237.2 L585.7,236.75 L587.95,235.81 L589.45,234.55 L590.09,233.14M573.87,248.93 L574.43,251.72 L575.87,254.24 L578.06,256.3 L580.81,257.78 L583.85,258.61 L586.9,258.77 L589.68,258.32 L591.92,257.38 L593.43,256.11 L594.06,254.71M572.59,241.98 L573.15,244.77 L574.59,247.28 L576.78,249.35 L579.52,250.83 L582.56,251.65 L585.62,251.82 L588.39,251.37 L590.64,250.43 L592.15,249.16 L592.78,247.76" fill="none" stroke="#666db0" stroke-width="0.4" stroke-opacity="0.7"/>
<path d="M570.09,214.11 L568.85,216.84 L567.57,209.89 L568.81,207.15ZM582.82,222.48 L580.05,223.12 L578.77,216.16 L581.54,215.53ZM580.05,223.12 L577.27,224.42 L575.99,217.46 L578.77,216.16ZM577.27,224.42 L574.76,226.32 L573.48,219.37 L575.99,217.46ZM574.76,226.32 L572.78,228.72 L571.5,221.77 L573.48,219.37ZM572.78,228.72 L571.55,231.45 L570.26,224.5 L571.5,221.77ZM585.51,237.1 L582.74,237.73 L581.46,230.78 L584.23,230.14ZM582.74,237.73 L579.96,239.03 L578.68,232.08 L581.46,230.78ZM579.96,239.03 L577.45,240.94 L576.17,233.98 L578.68,232.08ZM577.45,240.94 L575.48,243.34 L574.19,236.39 L576.17,233.98ZM575.48,243.34 L574.24,246.07 L572.96,239.12 L574.19,236.39Z" fill="#b2b7ee" stroke="#b2b7ee" stroke-width="0.35" stroke-linejoin="round"/>
<path d="M568.85,216.84 L568.49,219.7 L567.21,212.75 L567.57,209.89ZM587.22,223.1 L585.3,222.5 L584.01,215.55 L585.94,216.15ZM585.3,222.5 L582.82,222.48 L581.54,215.53 L584.01,215.55ZM571.55,231.45 L571.18,234.32 L569.9,227.37 L570.26,224.5ZM589.91,237.72 L587.99,237.12 L586.71,230.16 L588.63,230.76ZM587.99,237.12 L585.51,237.1 L584.23,230.14 L586.71,230.16ZM574.24,246.07 L573.87,248.93 L572.59,241.98 L572.96,239.12Z" fill="#a3a7da" stroke="#a3a7da" stroke-width="0.35" stroke-linejoin="round"/>
<path d="M588.68,225.48 L588.39,224.15 L587.11,217.2 L587.4,218.53ZM588.39,224.15 L587.22,223.1 L585.94,216.15 L587.11,217.2ZM591.37,240.1 L591.08,238.77 L589.8,231.81 L590.09,233.14ZM591.08,238.77 L589.91,237.72 L588.63,230.76 L589.8,231.81Z" fill="#9498c6" stroke="#9498c6" stroke-width="0.35" stroke-linejoin="round"/>
<path d="M570.09,214.11 L568.85,216.84 L568.49,219.7M568.81,207.15 L567.57,209.89 L567.21,212.75M588.68,225.48 L588.39,224.15 L587.22,223.1 L585.3,222.5 L582.82,222.48 L580.05,223.12 L577.27,224.42 L574.76,226.32 L572.78,228.72 L571.55,231.45 L571.18,234.32M587.4,218.53 L587.11,217.2 L585.94,216.15 L584.01,215.55 L581.54,215.53 L578.77,216.16 L575.99,217.46 L573.48,219.37 L571.5,221.77 L570.26,224.5 L569.9,227.37M591.37,240.1 L591.08,238.77 L589.91,237.72 L587.99,237.12 L585.51,237.1 L582.74,237.73 L579.96,239.03 L577.45,240.94 L575.48,243.34 L574.24,246.07 L573.87,248.93M590.09,233.14 L589.8,231.81 L588.63,230.76 L586.71,230.16 L584.23,230.14 L581.46,230.78 L578.68,232.08 L576.17,233.98 L574.19,236.39 L572.96,239.12 L572.59,241.98" fill="none" stroke="#666db0" stroke-width="0.4" stroke-opacity="0.7"/>
<path d="M585.76,230.77 L587.39,233.29 L584.58,226.8 L582.96,224.28ZM591.92,245 L593.54,247.53 L590.73,241.04 L589.11,238.51ZM598.07,259.23 L599.7,261.76 L596.89,255.27 L595.26,252.74Z" fill="#767a9e" stroke="#767a9e" stroke-width="0.35" stroke-linejoin="round"/>
<path d="M587.39,233.29 L589.78,235.25 L586.97,228.76 L584.58,226.8ZM589.78,235.25 L592.74,236.52 L589.93,230.03 L586.97,228.76ZM606.48,233.1 L607.31,231.44 L604.5,224.95 L603.67,226.61ZM607.31,231.44 L607.2,229.95 L604.39,223.46 L604.5,224.95ZM593.54,247.53 L595.94,249.48 L593.13,242.99 L590.73,241.04ZM595.94,249.48 L598.89,250.75 L596.09,244.26 L593.13,242.99ZM612.63,247.33 L613.46,245.67 L610.65,239.18 L609.83,240.84ZM613.46,245.67 L613.35,244.18 L610.54,237.69 L610.65,239.18ZM599.7,261.76 L602.09,263.71 L599.28,257.22 L596.89,255.27ZM602.09,263.71 L605.05,264.98 L602.24,258.49 L599.28,257.22Z" fill="#8589b2" stroke="#8589b2" stroke-width="0.35" stroke-linejoin="round"/>
<path d="M592.74,236.52 L596.01,237.05 L593.2,230.56 L589.93,230.03ZM596.01,237.05 L599.29,236.85 L596.48,230.36 L593.2,230.56ZM599.29,236.85 L602.29,236.02 L599.49,229.53 L596.48,230.36ZM602.29,236.02 L604.76,234.7 L601.95,228.21 L599.49,229.53ZM604.76,234.7 L606.48,233.1 L603.67,226.61 L601.95,228.21ZM598.89,250.75 L602.16,251.28 L599.35,244.79 L596.09,244.26ZM602.16,251.28 L605.44,251.08 L602.63,244.59 L599.35,244.79ZM605.44,251.08 L608.45,250.25 L605.64,243.76 L602.63,244.59ZM608.45,250.25 L610.92,248.93 L608.11,242.44 L605.64,243.76ZM610.92,248.93 L612.63,247.33 L609.83,240.84 L608.11,242.44ZM605.05,264.98 L608.31,265.51 L605.51,259.02 L602.24,258.49ZM608.31,265.51 L611.59,265.31 L608.79,258.82 L605.51,259.02ZM611.59,265.31 L614.6,264.48 L611.79,257.99 L608.79,258.82ZM614.6,264.48 L617.07,263.16 L614.26,256.67 L611.79,257.99Z" fill="#9498c6" stroke="#9498c6" stroke-width="0.35" stroke-linejoin="round"/>
<path d="M585.76,230.77 L587.39,233.29 L589.78,235.25 L592.74,236.52 L596.01,237.05 L599.29,236.85 L602.29,236.02 L604.76,234.7 L606.48,233.1 L607.31,231.44 L607.2,229.95M582.96,224.28 L584.58,226.8 L586.97,228.76 L589.93,230.03 L593.2,230.56 L596.48,230.36 L599.49,229.53 L601.95,228.21 L603.67,226.61 L604.5,224.95 L604.39,223.46M591.92,245 L593.54,247.53 L595.94,249.48 L598.89,250.75 L602.16,251.28 L605.44,251.08 L608.45,250.25 L610.92,248.93 L612.63,247.33 L613.46,245.67 L613.35,244.18M589.11,238.51 L590.73,241.04 L593.13,242.99 L596.09,244.26 L599.35,244.79 L602.63,244.59 L605.64,243.76 L608.11,242.44 L609.83,240.84 L610.65,239.18 L610.54,237.69M598.07,259.23 L599.7,261.76 L602.09,263.71 L605.05,264.98 L608.31,265.51 L611.59,265.31 L614.6,264.48 L617.07,263.16M595.26,252.74 L596.89,255.27 L599.28,257.22 L602.24,258.49 L605.51,259.02 L608.79,258.82 L611.79,257.99 L614.26,256.67" fill="none" stroke="#666db0" stroke-width="0.4" stroke-opacity="0.7"/>
<path d="M590.6,216.75 L588.21,219.01 L585.4,212.52 L587.79,210.26ZM588.21,219.01 L586.35,221.75 L583.55,215.26 L585.4,212.52ZM586.35,221.75 L585.25,224.78 L582.44,218.29 L583.55,215.26ZM602.07,228.47 L599.42,229.37 L596.61,222.88 L599.26,221.98ZM599.42,229.37 L596.75,230.99 L593.94,224.5 L596.61,222.88ZM596.75,230.99 L594.36,233.24 L591.55,226.75 L593.94,224.5ZM594.36,233.24 L592.51,235.98 L589.7,229.49 L591.55,226.75ZM592.51,235.98 L591.4,239.01 L588.6,232.52 L589.7,229.49ZM608.22,242.7 L605.57,243.6 L602.76,237.11 L605.41,236.21ZM605.57,243.6 L602.9,245.22 L600.1,238.73 L602.76,237.11ZM602.9,245.22 L600.51,247.47 L597.71,240.98 L600.1,238.73ZM600.51,247.47 L598.66,250.21 L595.85,243.72 L597.71,240.98ZM598.66,250.21 L597.56,253.24 L594.75,246.75 L595.85,243.72Z" fill="#b2b7ee" stroke="#b2b7ee" stroke-width="0.35" stroke-linejoin="round"/>
<path d="M585.25,224.78 L585.04,227.86 L582.23,221.37 L582.44,218.29ZM585.04,227.86 L585.76,230.77 L582.96,224.28 L582.23,221.37ZM604.41,228.32 L602.07,228.47 L599.26,221.98 L601.6,221.83ZM591.4,239.01 L591.19,242.09 L588.38,235.6 L588.6,232.52ZM591.19,242.09 L591.92,245 L589.11,238.51 L588.38,235.6ZM610.56,242.55 L608.22,242.7 L605.41,236.21 L607.76,236.06ZM597.56,253.24 L597.35,256.32 L594.54,249.83 L594.75,246.75ZM597.35,256.32 L598.07,259.23 L595.26,252.74 L594.54,249.83Z" fill="#a3a7da" stroke="#a3a7da" stroke-width="0.35" stroke-linejoin="round"/>
<path d="M607.2,229.95 L606.19,228.85 L603.38,222.36 L604.39,223.46ZM606.19,228.85 L604.41,228.32 L601.6,221.83 L603.38,222.36ZM613.35,244.18 L612.34,243.08 L609.54,236.59 L610.54,237.69ZM612.34,243.08 L610.56,242.55 L607.76,236.06 L609.54,236.59Z" fill="#9498c6" stroke="#9498c6" stroke-width="0.35" stroke-linejoin="round"/>
<path d="M590.6,216.75 L588.21,219.01 L586.35,221.75 L585.25,224.78 L585.04,227.86 L585.76,230.77M587.79,210.26 L585.4,212.52 L583.55,215.26 L582.44,218.29 L582.23,221.37 L582.96,224.28M607.2,229.95 L606.19,228.85 L604.41,228.32 L602.07,228.47 L599.42,229.37 L596.75,230.99 L594.36,233.24 L592.51,235.98 L591.4,239.01 L591.19,242.09 L591.92,245M604.39,223.46 L603.38,222.36 L601.6,221.83 L599.26,221.98 L596.61,222.88 L593.94,224.5 L591.55,226.75 L589.7,229.49 L588.6,232.52 L588.38,235.6 L589.11,238.51M613.35,244.18 L612.34,243.08 L610.56,242.55 L608.22,242.7 L605.57,243.6 L602.9,245.22 L600.51,247.47 L598.66,250.21 L597.56,253.24 L597.35,256.32 L598.07,259.23M610.54,237.69 L609.54,236.59 L607.76,236.06 L605.41,236.21 L602.76,237.11 L600.1,238.73 L597.71,240.98 L595.85,243.72 L594.75,246.75 L594.54,249.83 L595.26,252.74" fill="none" stroke="#666db0" stroke-width="0.4" stroke-opacity="0.7"/>
<path d="M542.11,275.65 L544.93,275.3 L537.86,275.13 L535.04,275.48ZM553.29,263.62 L553.16,260.95 L546.09,260.78 L546.22,263.45ZM553.16,260.95 L552.48,258.8 L545.41,258.63 L546.09,260.78ZM556.66,276.02 L559.47,275.67 L552.41,275.49 L549.59,275.84ZM567.84,263.99 L567.7,261.32 L560.64,261.14 L560.77,263.81ZM567.7,261.32 L567.02,259.17 L559.95,258.99 L560.64,261.14ZM571.2,276.38 L574.02,276.03 L566.95,275.85 L564.13,276.21ZM582.38,264.35 L582.25,261.68 L575.18,261.5 L575.31,264.17ZM582.25,261.68 L581.57,259.53 L574.5,259.35 L575.18,261.5ZM585.75,276.75 L588.56,276.39 L581.5,276.22 L578.68,276.57ZM596.93,264.71 L596.8,262.04 L589.73,261.87 L589.86,264.54ZM596.8,262.04 L596.11,259.89 L589.04,259.72 L589.73,261.87ZM600.29,277.11 L603.11,276.76 L596.04,276.58 L593.22,276.93ZM611.47,265.08 L611.34,262.41 L604.27,262.23 L604.41,264.9ZM611.34,262.41 L610.66,260.26 L603.59,260.08 L604.27,262.23ZM614.84,277.47 L617.66,277.12 L610.59,276.94 L607.77,277.3Z" fill="#8589b2" stroke="#8589b2" stroke-width="0.35" stroke-linejoin="round"/>
<path d="M544.93,275.3 L547.57,274.06 L540.51,273.88 L537.86,275.13ZM547.57,274.06 L549.86,272.04 L542.79,271.86 L540.51,273.88ZM549.86,272.04 L551.63,269.46 L544.56,269.28 L542.79,271.86ZM551.63,269.46 L552.79,266.55 L545.72,266.38 L544.56,269.28ZM552.79,266.55 L553.29,263.62 L546.22,263.45 L545.72,266.38ZM559.47,275.67 L562.12,274.42 L555.05,274.24 L552.41,275.49ZM562.12,274.42 L564.4,272.4 L557.34,272.23 L555.05,274.24ZM564.4,272.4 L566.18,269.82 L559.11,269.64 L557.34,272.23ZM566.18,269.82 L567.34,266.92 L560.27,266.74 L559.11,269.64ZM567.34,266.92 L567.84,263.99 L560.77,263.81 L560.27,266.74ZM574.02,276.03 L576.66,274.78 L569.6,274.61 L566.95,275.85ZM576.66,274.78 L578.95,272.77 L571.88,272.59 L569.6,274.61ZM578.95,272.77 L580.72,270.18 L573.65,270.01 L571.88,272.59ZM580.72,270.18 L581.88,267.28 L574.81,267.1 L573.65,270.01ZM581.88,267.28 L582.38,264.35 L575.31,264.17 L574.81,267.1ZM588.56,276.39 L591.21,275.15 L584.14,274.97 L581.5,276.22ZM591.21,275.15 L593.5,273.13 L586.43,272.95 L584.14,274.97ZM593.5,273.13 L595.27,270.55 L588.2,270.37 L586.43,272.95ZM595.27,270.55 L596.43,267.65 L589.36,267.47 L588.2,270.37ZM596.43,267.65 L596.93,264.71 L589.86,264.54 L589.36,267.47ZM603.11,276.76 L605.76,275.51 L598.69,275.33 L596.04,276.58ZM605.76,275.51 L608.04,273.5 L600.97,273.32 L598.69,275.33ZM608.04,273.5 L609.81,270.91 L602.75,270.73 L600.97,273.32ZM609.81,270.91 L610.97,268.01 L603.9,267.83 L602.75,270.73ZM610.97,268.01 L611.47,265.08 L604.41,264.9 L603.9,267.83ZM617.66,277.12 L620.3,275.87 L613.23,275.7 L610.59,276.94ZM620.3,275.87 L622.59,273.86 L615.52,273.68 L613.23,275.7ZM622.59,273.86 L624.36,271.27 L617.29,271.1 L615.52,273.68ZM624.36,271.27 L625.52,268.37 L618.45,268.2 L617.29,271.1ZM625.52,268.37 L626.02,265.44 L618.95,265.27 L618.45,268.2Z" fill="#9498c6" stroke="#9498c6" stroke-width="0.35" stroke-linejoin="round"/>
<path d="M552.48,258.8 L551.38,257.39 L544.31,257.21 L545.41,258.63ZM551.38,257.39 L550.05,256.85 L542.98,256.67 L544.31,257.21ZM567.02,259.17 L565.92,257.75 L558.86,257.58 L559.95,258.99ZM565.92,257.75 L564.59,257.21 L557.53,257.04 L558.86,257.58ZM581.57,259.53 L580.47,258.12 L573.4,257.94 L574.5,259.35ZM580.47,258.12 L579.14,257.58 L572.07,257.4 L573.4,257.94ZM596.11,259.89 L595.02,258.48 L587.95,258.3 L589.04,259.72ZM595.02,258.48 L593.69,257.94 L586.62,257.76 L587.95,258.3ZM610.66,260.26 L609.56,258.84 L602.49,258.67 L603.59,260.08ZM609.56,258.84 L608.23,258.3 L601.16,258.13 L602.49,258.67Z" fill="#767a9e" stroke="#767a9e" stroke-width="0.35" stroke-linejoin="round"/>
<path d="M542.11,275.65 L544.93,275.3 L547.57,274.06 L549.86,272.04 L551.63,269.46 L552.79,266.55 L553.29,263.62 L553.16,260.95 L552.48,258.8 L551.38,257.39 L550.05,256.85M535.04,275.48 L537.86,275.13 L540.51,273.88 L542.79,271.86 L544.56,269.28 L545.72,266.38 L546.22,263.45 L546.09,260.78 L545.41,258.63 L544.31,257.21 L542.98,256.67M556.66,276.02 L559.47,275.67 L562.12,274.42 L564.4,272.4 L566.18,269.82 L567.34,266.92 L567.84,263.99 L567.7,261.32 L567.02,259.17 L565.92,257.75 L564.59,257.21M549.59,275.84 L552.41,275.49 L555.05,274.24 L557.34,272.23 L559.11,269.64 L560.27,266.74 L560.77,263.81 L560.64,261.14 L559.95,258.99 L558.86,257.58 L557.53,257.04M571.2,276.38 L574.02,276.03 L576.66,274.78 L578.95,272.77 L580.72,270.18 L581.88,267.28 L582.38,264.35 L582.25,261.68 L581.57,259.53 L580.47,258.12 L579.14,257.58M564.13,276.21 L566.95,275.85 L569.6,274.61 L571.88,272.59 L573.65,270.01 L574.81,267.1 L575.31,264.17 L575.18,261.5 L574.5,259.35 L573.4,257.94 L572.07,257.4M585.75,276.75 L588.56,276.39 L591.21,275.15 L593.5,273.13 L595.27,270.55 L596.43,267.65 L596.93,264.71 L596.8,262.04 L596.11,259.89 L595.02,258.48 L593.69,257.94M578.68,276.57 L581.5,276.22 L584.14,274.97 L586.43,272.95 L588.2,270.37 L589.36,267.47 L589.86,264.54 L589.73,261.87 L589.04,259.72 L587.95,258.3 L586.62,257.76M600.29,277.11 L603.11,276.76 L605.76,275.51 L608.04,273.5 L609.81,270.91 L610.97,268.01 L611.47,265.08 L611.34,262.41 L610.66,260.26 L609.56,258.84 L608.23,258.3M593.22,276.93 L596.04,276.58 L598.69,275.33 L600.97,273.32 L602.75,270.73 L603.9,267.83 L604.41,264.9 L604.27,262.23 L603.59,260.08 L602.49,258.67 L601.16,258.13M614.84,277.47 L617.66,277.12 L620.3,275.87 L622.59,273.86 L624.36,271.27 L625.52,268.37 L626.02,265.44M607.77,277.3 L610.59,276.94 L613.23,275.7 L615.52,273.68 L617.29,271.1 L618.45,268.2 L618.95,265.27" fill="none" stroke="#666db0" stroke-width="0.4" stroke-opacity="0.7"/>
<path d="M533.05,268.73 L534.64,271.44 L527.57,271.27 L525.98,268.56ZM550.05,256.85 L548.69,257.24 L541.62,257.06 L542.98,256.67ZM546.64,266.13 L547.59,269.1 L540.53,268.92 L539.57,265.95ZM547.59,269.1 L549.18,271.81 L542.11,271.63 L540.53,268.92ZM564.59,257.21 L563.23,257.6 L556.16,257.43 L557.53,257.04ZM561.19,266.5 L562.14,269.46 L555.07,269.29 L554.12,266.32ZM562.14,269.46 L563.73,272.17 L556.66,271.99 L555.07,269.29ZM579.14,257.58 L577.78,257.97 L570.71,257.79 L572.07,257.4ZM575.73,266.86 L576.69,269.83 L569.62,269.65 L568.66,266.68ZM576.69,269.83 L578.27,272.53 L571.2,272.36 L569.62,269.65ZM593.69,257.94 L592.32,258.33 L585.25,258.15 L586.62,257.76ZM590.28,267.22 L591.23,270.19 L584.16,270.01 L583.21,267.05ZM591.23,270.19 L592.82,272.9 L585.75,272.72 L584.16,270.01ZM608.23,258.3 L606.87,258.69 L599.8,258.52 L601.16,258.13ZM604.82,267.59 L605.78,270.55 L598.71,270.38 L597.75,267.41ZM605.78,270.55 L607.36,273.26 L600.3,273.08 L598.71,270.38Z" fill="#a3a7da" stroke="#a3a7da" stroke-width="0.35" stroke-linejoin="round"/>
<path d="M534.64,271.44 L536.78,273.63 L529.71,273.45 L527.57,271.27ZM536.78,273.63 L539.33,275.08 L532.26,274.9 L529.71,273.45ZM539.33,275.08 L542.11,275.65 L535.04,275.48 L532.26,274.9ZM549.18,271.81 L551.32,273.99 L544.25,273.81 L542.11,271.63ZM551.32,273.99 L553.87,275.44 L546.8,275.27 L544.25,273.81ZM553.87,275.44 L556.66,276.02 L549.59,275.84 L546.8,275.27ZM563.73,272.17 L565.87,274.35 L558.8,274.18 L556.66,271.99ZM565.87,274.35 L568.42,275.81 L561.35,275.63 L558.8,274.18ZM568.42,275.81 L571.2,276.38 L564.13,276.21 L561.35,275.63ZM578.27,272.53 L580.41,274.72 L573.34,274.54 L571.2,272.36ZM580.41,274.72 L582.96,276.17 L575.89,275.99 L573.34,274.54ZM582.96,276.17 L585.75,276.75 L578.68,276.57 L575.89,275.99ZM592.82,272.9 L594.96,275.08 L587.89,274.91 L585.75,272.72ZM594.96,275.08 L597.51,276.53 L590.44,276.36 L587.89,274.91ZM597.51,276.53 L600.29,277.11 L593.22,276.93 L590.44,276.36ZM607.36,273.26 L609.5,275.45 L602.43,275.27 L600.3,273.08ZM609.5,275.45 L612.05,276.9 L604.98,276.72 L602.43,275.27ZM612.05,276.9 L614.84,277.47 L607.77,277.3 L604.98,276.72Z" fill="#9498c6" stroke="#9498c6" stroke-width="0.35" stroke-linejoin="round"/>
<path d="M548.69,257.24 L547.49,258.52 L540.43,258.34 L541.62,257.06ZM547.49,258.52 L546.66,260.57 L539.6,260.4 L540.43,258.34ZM546.66,260.57 L546.35,263.19 L539.28,263.02 L539.6,260.4ZM546.35,263.19 L546.64,266.13 L539.57,265.95 L539.28,263.02ZM563.23,257.6 L562.04,258.88 L554.97,258.71 L556.16,257.43ZM562.04,258.88 L561.21,260.94 L554.14,260.76 L554.97,258.71ZM561.21,260.94 L560.89,263.56 L553.82,263.38 L554.14,260.76ZM560.89,263.56 L561.19,266.5 L554.12,266.32 L553.82,263.38ZM577.78,257.97 L576.59,259.25 L569.52,259.07 L570.71,257.79ZM576.59,259.25 L575.75,261.3 L568.69,261.12 L569.52,259.07ZM575.75,261.3 L575.44,263.92 L568.37,263.74 L568.69,261.12ZM575.44,263.92 L575.73,266.86 L568.66,266.68 L568.37,263.74ZM592.32,258.33 L591.13,259.61 L584.06,259.44 L585.25,258.15ZM591.13,259.61 L590.3,261.66 L583.23,261.49 L584.06,259.44ZM590.3,261.66 L589.98,264.29 L582.91,264.11 L583.23,261.49ZM589.98,264.29 L590.28,267.22 L583.21,267.05 L582.91,264.11ZM606.87,258.69 L605.68,259.98 L598.61,259.8 L599.8,258.52ZM605.68,259.98 L604.85,262.03 L597.78,261.85 L598.61,259.8ZM604.85,262.03 L604.53,264.65 L597.46,264.47 L597.78,261.85ZM604.53,264.65 L604.82,267.59 L597.75,267.41 L597.46,264.47Z" fill="#b2b7ee" stroke="#b2b7ee" stroke-width="0.35" stroke-linejoin="round"/>
<path d="M533.05,268.73 L534.64,271.44 L536.78,273.63 L539.33,275.08 L542.11,275.65M525.98,268.56 L527.57,271.27 L529.71,273.45 L532.26,274.9 L535.04,275.48M550.05,256.85 L548.69,257.24 L547.49,258.52 L546.66,260.57 L546.35,263.19 L546.64,266.13 L547.59,269.1 L549.18,271.81 L551.32,273.99 L553.87,275.44 L556.66,276.02M542.98,256.67 L541.62,257.06 L540.43,258.34 L539.6,260.4 L539.28,263.02 L539.57,265.95 L540.53,268.92 L542.11,271.63 L544.25,273.81 L546.8,275.27 L549.59,275.84M564.59,257.21 L563.23,257.6 L562.04,258.88 L561.21,260.94 L560.89,263.56 L561.19,266.5 L562.14,269.46 L563.73,272.17 L565.87,274.35 L568.42,275.81 L571.2,276.38M557.53,257.04 L556.16,257.43 L554.97,258.71 L554.14,260.76 L553.82,263.38 L554.12,266.32 L555.07,269.29 L556.66,271.99 L558.8,274.18 L561.35,275.63 L564.13,276.21M579.14,257.58 L577.78,257.97 L576.59,259.25 L575.75,261.3 L575.44,263.92 L575.73,266.86 L576.69,269.83 L578.27,272.53 L580.41,274.72 L582.96,276.17 L585.75,276.75M572.07,257.4 L570.71,257.79 L569.52,259.07 L568.69,261.12 L568.37,263.74 L568.66,266.68 L569.62,269.65 L571.2,272.36 L573.34,274.54 L575.89,275.99 L578.68,276.57M593.69,257.94 L592.32,258.33 L591.13,259.61 L590.3,261.66 L589.98,264.29 L590.28,267.22 L591.23,270.19 L592.82,272.9 L594.96,275.08 L597.51,276.53 L600.29,277.11M586.62,257.76 L585.25,258.15 L584.06,259.44 L583.23,261.49 L582.91,264.11 L583.21,267.05 L584.16,270.01 L585.75,272.72 L587.89,274.91 L590.44,276.36 L593.22,276.93M608.23,258.3 L606.87,258.69 L605.68,259.98 L604.85,262.03 L604.53,264.65 L604.82,267.59 L605.78,270.55 L607.36,273.26 L609.5,275.45 L612.05,276.9 L614.84,277.47M601.16,258.13 L599.8,258.52 L598.61,259.8 L597.78,261.85 L597.46,264.47 L597.75,267.41 L598.71,270.38 L600.3,273.08 L602.43,275.27 L604.98,276.72 L607.77,277.3" fill="none" stroke="#666db0" stroke-width="0.4" stroke-opacity="0.7"/>
<path d="M572.9,285.15 L574.98,285.94 L570.07,283.14 L567.99,282.34ZM574.98,285.94 L577.26,286.1 L572.34,283.29 L570.07,283.14ZM585.97,279.82 L586.37,278.26 L581.46,275.46 L581.06,277.01ZM586.37,278.26 L586.25,277.05 L581.34,274.24 L581.46,275.46Z" fill="#8589b2" stroke="#8589b2" stroke-width="0.35" stroke-linejoin="round"/>
<path d="M577.26,286.1 L579.56,285.63 L574.65,282.82 L572.34,283.29ZM579.56,285.63 L581.72,284.62 L576.81,281.81 L574.65,282.82ZM581.72,284.62 L583.59,283.19 L578.68,280.39 L576.81,281.81ZM583.59,283.19 L585.03,281.53 L580.12,278.72 L578.68,280.39ZM585.03,281.53 L585.97,279.82 L581.06,277.01 L580.12,278.72Z" fill="#9498c6" stroke="#9498c6" stroke-width="0.35" stroke-linejoin="round"/>
<path d="M586.25,277.05 L585.68,276.33 L580.77,273.52 L581.34,274.24Z" fill="#767a9e" stroke="#767a9e" stroke-width="0.35" stroke-linejoin="round"/>
<path d="M572.9,285.15 L574.98,285.94 L577.26,286.1 L579.56,285.63 L581.72,284.62 L583.59,283.19 L585.03,281.53 L585.97,279.82 L586.37,278.26 L586.25,277.05 L585.68,276.33M567.99,282.34 L570.07,283.14 L572.34,283.29 L574.65,282.82 L576.81,281.81 L578.68,280.39 L580.12,278.72 L581.06,277.01 L581.46,275.46 L581.34,274.24 L580.77,273.52" fill="none" stroke="#666db0" stroke-width="0.4" stroke-opacity="0.7"/>
<path d="M569.16,274.95 L568.88,277.28 L563.97,274.47 L564.25,272.14ZM583.66,276.71 L582.52,277.84 L577.61,275.04 L578.74,273.9ZM582.52,277.84 L581.53,279.52 L576.61,276.72 L577.61,275.04ZM581.53,279.52 L580.82,281.61 L575.91,278.81 L576.61,276.72ZM580.82,281.61 L580.55,283.95 L575.63,281.14 L575.91,278.81Z" fill="#b2b7ee" stroke="#b2b7ee" stroke-width="0.35" stroke-linejoin="round"/>
<path d="M568.88,277.28 L569.1,279.66 L564.19,276.85 L563.97,274.47ZM569.1,279.66 L569.87,281.88 L564.96,279.07 L564.19,276.85ZM585.68,276.33 L584.76,276.2 L579.85,273.39 L580.77,273.52ZM584.76,276.2 L583.66,276.71 L578.74,273.9 L579.85,273.39ZM580.55,283.95 L580.77,286.32 L575.86,283.52 L575.63,281.14ZM580.77,286.32 L581.54,288.54 L576.63,285.74 L575.86,283.52Z" fill="#a3a7da" stroke="#a3a7da" stroke-width="0.35" stroke-linejoin="round"/>
<path d="M569.87,281.88 L571.16,283.76 L566.25,280.95 L564.96,279.07ZM571.16,283.76 L572.9,285.15 L567.99,282.34 L566.25,280.95ZM581.54,288.54 L582.82,290.42 L577.91,287.62 L576.63,285.74Z" fill="#9498c6" stroke="#9498c6" stroke-width="0.35" stroke-linejoin="round"/>
<path d="M569.16,274.95 L568.88,277.28 L569.1,279.66 L569.87,281.88 L571.16,283.76 L572.9,285.15M564.25,272.14 L563.97,274.47 L564.19,276.85 L564.96,279.07 L566.25,280.95 L567.99,282.34M585.68,276.33 L584.76,276.2 L583.66,276.71 L582.52,277.84 L581.53,279.52 L580.82,281.61 L580.55,283.95 L580.77,286.32 L581.54,288.54 L582.82,290.42M580.77,273.52 L579.85,273.39 L578.74,273.9 L577.61,275.04 L576.61,276.72 L575.91,278.81 L575.63,281.14 L575.86,283.52 L576.63,285.74 L577.91,287.62" fill="none" stroke="#666db0" stroke-width="0.4" stroke-opacity="0.7"/>
<path d="M614,263 C615.67,262.33 621.33,259 624,259 C626.67,259 629,260.67 630,263 C631,265.33 631,270.17 630,273 C629,275.83 626.67,279 624,280 C621.33,281 615.67,279.17 614,279" fill="none" stroke="#666db0" stroke-width="4.4" stroke-linecap="round" stroke-linejoin="round"/><path d="M614,263 C615.67,262.33 621.33,259 624,259 C626.67,259 629,260.67 630,263 C631,265.33 631,270.17 630,273 C629,275.83 626.67,279 624,280 C621.33,281 615.67,279.17 614,279" fill="none" stroke="#b4b8e6" stroke-width="3.5" stroke-linecap="round" stroke-linejoin="round"/>
<path d="M528,152 C536,147 548,149 556,154 C562,160 556,170 548,174 C540,176 531,172 527,166 Z" fill="#f2f2f2" opacity="0.55" filter="url(#sb)"/>
<path d="M476,99 C475,100.17 471.42,103.17 470,106 C468.58,108.83 467.67,112.33 467.5,116 C467.33,119.67 467.25,124.42 469,128 C470.75,131.58 475.6,134.88 478,137.5 C480.4,140.12 482.4,141.78 483.4,143.7 C484.4,145.62 483.9,148.12 484,149" fill="none" stroke="#666db0" stroke-width="2.3" stroke-linecap="round" stroke-linejoin="round"/><path d="M476,99 C475,100.17 471.42,103.17 470,106 C468.58,108.83 467.67,112.33 467.5,116 C467.33,119.67 467.25,124.42 469,128 C470.75,131.58 475.6,134.88 478,137.5 C480.4,140.12 482.4,141.78 483.4,143.7 C484.4,145.62 483.9,148.12 484,149" fill="none" stroke="#b4b8e6" stroke-width="1.4" stroke-linecap="round" stroke-linejoin="round"/>
<path d="M453.86,51.89 L454.89,53.73 L452.92,46.55 L451.89,44.7ZM457.26,64.29 L458.29,66.13 L456.32,58.95 L455.29,57.1ZM460.66,76.69 L461.69,78.53 L459.72,71.35 L458.69,69.5ZM464.06,89.09 L465.09,90.93 L463.12,83.75 L462.09,81.9ZM467.46,101.49 L468.49,103.33 L466.52,96.15 L465.49,94.3Z" fill="#767a9e" stroke="#767a9e" stroke-width="0.35" stroke-linejoin="round"/>
<path d="M454.89,53.73 L456.74,55.21 L454.77,48.03 L452.92,46.55ZM456.74,55.21 L459.22,56.23 L457.25,49.04 L454.77,48.03ZM472.55,54.76 L473.65,53.8 L471.68,46.61 L470.58,47.58ZM473.65,53.8 L473.85,52.94 L471.88,45.75 L471.68,46.61ZM458.29,66.13 L460.14,67.61 L458.17,60.43 L456.32,58.95ZM460.14,67.61 L462.62,68.63 L460.65,61.44 L458.17,60.43ZM475.95,67.16 L477.05,66.2 L475.08,59.01 L473.98,59.98ZM477.05,66.2 L477.25,65.34 L475.28,58.15 L475.08,59.01ZM461.69,78.53 L463.54,80.01 L461.57,72.83 L459.72,71.35ZM463.54,80.01 L466.02,81.03 L464.05,73.84 L461.57,72.83ZM479.35,79.56 L480.45,78.6 L478.48,71.41 L477.38,72.38ZM480.45,78.6 L480.65,77.74 L478.68,70.55 L478.48,71.41ZM465.09,90.93 L466.94,92.41 L464.97,85.23 L463.12,83.75ZM466.94,92.41 L469.42,93.43 L467.45,86.24 L464.97,85.23ZM482.75,91.96 L483.85,91 L481.88,83.81 L480.78,84.78ZM483.85,91 L484.05,90.14 L482.08,82.95 L481.88,83.81ZM468.49,103.33 L470.34,104.81 L468.37,97.63 L466.52,96.15ZM470.34,104.81 L472.82,105.83 L470.85,98.64 L468.37,97.63ZM486.15,104.36 L487.25,103.4 L485.28,96.21 L484.18,97.18ZM487.25,103.4 L487.45,102.54 L485.48,95.35 L485.28,96.21Z" fill="#8589b2" stroke="#8589b2" stroke-width="0.35" stroke-linejoin="round"/>
<path d="M459.22,56.23 L462.13,56.75 L460.16,49.57 L457.25,49.04ZM462.13,56.75 L465.19,56.79 L463.23,49.61 L460.16,49.57ZM465.19,56.79 L468.12,56.4 L466.16,49.22 L463.23,49.61ZM468.12,56.4 L470.65,55.68 L468.68,48.5 L466.16,49.22ZM470.65,55.68 L472.55,54.76 L470.58,47.58 L468.68,48.5ZM462.62,68.63 L465.53,69.15 L463.56,61.97 L460.65,61.44ZM465.53,69.15 L468.59,69.19 L466.63,62.01 L463.56,61.97ZM468.59,69.19 L471.52,68.8 L469.56,61.62 L466.63,62.01ZM471.52,68.8 L474.05,68.08 L472.08,60.9 L469.56,61.62ZM474.05,68.08 L475.95,67.16 L473.98,59.98 L472.08,60.9ZM466.02,81.03 L468.93,81.55 L466.96,74.37 L464.05,73.84ZM468.93,81.55 L471.99,81.59 L470.03,74.41 L466.96,74.37ZM471.99,81.59 L474.92,81.2 L472.96,74.02 L470.03,74.41ZM474.92,81.2 L477.45,80.48 L475.48,73.3 L472.96,74.02ZM477.45,80.48 L479.35,79.56 L477.38,72.38 L475.48,73.3ZM469.42,93.43 L472.33,93.95 L470.36,86.77 L467.45,86.24ZM472.33,93.95 L475.39,93.99 L473.43,86.81 L470.36,86.77ZM475.39,93.99 L478.32,93.6 L476.36,86.42 L473.43,86.81ZM478.32,93.6 L480.85,92.88 L478.88,85.7 L476.36,86.42ZM480.85,92.88 L482.75,91.96 L480.78,84.78 L478.88,85.7ZM472.82,105.83 L475.73,106.35 L473.76,99.17 L470.85,98.64ZM475.73,106.35 L478.79,106.39 L476.83,99.21 L473.76,99.17ZM478.79,106.39 L481.72,106 L479.76,98.82 L476.83,99.21ZM481.72,106 L484.25,105.28 L482.28,98.1 L479.76,98.82ZM484.25,105.28 L486.15,104.36 L484.18,97.18 L482.28,98.1Z" fill="#9498c6" stroke="#9498c6" stroke-width="0.35" stroke-linejoin="round"/>
<path d="M453.86,51.89 L454.89,53.73 L456.74,55.21 L459.22,56.23 L462.13,56.75 L465.19,56.79 L468.12,56.4 L470.65,55.68 L472.55,54.76 L473.65,53.8 L473.85,52.94M451.89,44.7 L452.92,46.55 L454.77,48.03 L457.25,49.04 L460.16,49.57 L463.23,49.61 L466.16,49.22 L468.68,48.5 L470.58,47.58 L471.68,46.61 L471.88,45.75M457.26,64.29 L458.29,66.13 L460.14,67.61 L462.62,68.63 L465.53,69.15 L468.59,69.19 L471.52,68.8 L474.05,68.08 L475.95,67.16 L477.05,66.2 L477.25,65.34M455.29,57.1 L456.32,58.95 L458.17,60.43 L460.65,61.44 L463.56,61.97 L466.63,62.01 L469.56,61.62 L472.08,60.9 L473.98,59.98 L475.08,59.01 L475.28,58.15M460.66,76.69 L461.69,78.53 L463.54,80.01 L466.02,81.03 L468.93,81.55 L471.99,81.59 L474.92,81.2 L477.45,80.48 L479.35,79.56 L480.45,78.6 L480.65,77.74M458.69,69.5 L459.72,71.35 L461.57,72.83 L464.05,73.84 L466.96,74.37 L470.03,74.41 L472.96,74.02 L475.48,73.3 L477.38,72.38 L478.48,71.41 L478.68,70.55M464.06,89.09 L465.09,90.93 L466.94,92.41 L469.42,93.43 L472.33,93.95 L475.39,93.99 L478.32,93.6 L480.85,92.88 L482.75,91.96 L483.85,91 L484.05,90.14M462.09,81.9 L463.12,83.75 L464.97,85.23 L467.45,86.24 L470.36,86.77 L473.43,86.81 L476.36,86.42 L478.88,85.7 L480.78,84.78 L481.88,83.81 L482.08,82.95M467.46,101.49 L468.49,103.33 L470.34,104.81 L472.82,105.83 L475.73,106.35 L478.79,106.39 L481.72,106 L484.25,105.28 L486.15,104.36 L487.25,103.4 L487.45,102.54M465.49,94.3 L466.52,96.15 L468.37,97.63 L470.85,98.64 L473.76,99.17 L476.83,99.21 L479.76,98.82 L482.28,98.1 L484.18,97.18 L485.28,96.21 L485.48,95.35" fill="none" stroke="#666db0" stroke-width="0.4" stroke-opacity="0.7"/>
<path d="M463.54,40.63 L460.81,41.83 L458.85,34.65 L461.57,33.45ZM458.22,43.46 L456.04,45.42 L454.07,38.24 L456.26,36.28ZM456.04,45.42 L454.48,47.58 L452.51,40.4 L454.07,38.24ZM466.94,53.03 L464.21,54.23 L462.25,47.05 L464.97,45.85ZM461.62,55.86 L459.44,57.82 L457.47,50.64 L459.66,48.68ZM459.44,57.82 L457.88,59.98 L455.91,52.8 L457.47,50.64ZM470.34,65.43 L467.61,66.63 L465.65,59.45 L468.37,58.25ZM465.02,68.26 L462.84,70.22 L460.87,63.04 L463.06,61.08ZM462.84,70.22 L461.28,72.38 L459.31,65.2 L460.87,63.04ZM473.74,77.83 L471.01,79.03 L469.05,71.85 L471.77,70.65ZM468.42,80.66 L466.24,82.62 L464.27,75.44 L466.46,73.48ZM466.24,82.62 L464.68,84.78 L462.71,77.6 L464.27,75.44ZM477.14,90.23 L474.41,91.43 L472.45,84.25 L475.17,83.05ZM471.82,93.06 L469.64,95.02 L467.67,87.84 L469.86,85.88ZM469.64,95.02 L468.08,97.18 L466.11,90 L467.67,87.84Z" fill="#b2b7ee" stroke="#b2b7ee" stroke-width="0.35" stroke-linejoin="round"/>
<path d="M460.81,41.83 L458.22,43.46 L456.26,36.28 L458.85,34.65ZM464.21,54.23 L461.62,55.86 L459.66,48.68 L462.25,47.05ZM467.61,66.63 L465.02,68.26 L463.06,61.08 L465.65,59.45ZM471.01,79.03 L468.42,80.66 L466.46,73.48 L469.05,71.85ZM474.41,91.43 L471.82,93.06 L469.86,85.88 L472.45,84.25Z" fill="#f1f6ff" stroke="#f1f6ff" stroke-width="0.35" stroke-linejoin="round"/>
<path d="M454.48,47.58 L453.72,49.79 L451.75,42.6 L452.51,40.4ZM453.72,49.79 L453.86,51.89 L451.89,44.7 L451.75,42.6ZM471.65,52.09 L469.51,52.32 L467.54,45.13 L469.68,44.91ZM469.51,52.32 L466.94,53.03 L464.97,45.85 L467.54,45.13ZM457.88,59.98 L457.12,62.19 L455.15,55 L455.91,52.8ZM457.12,62.19 L457.26,64.29 L455.29,57.1 L455.15,55ZM475.05,64.49 L472.91,64.72 L470.94,57.53 L473.08,57.31ZM472.91,64.72 L470.34,65.43 L468.37,58.25 L470.94,57.53ZM461.28,72.38 L460.52,74.59 L458.55,67.4 L459.31,65.2ZM460.52,74.59 L460.66,76.69 L458.69,69.5 L458.55,67.4ZM478.45,76.89 L476.31,77.12 L474.34,69.93 L476.48,69.71ZM476.31,77.12 L473.74,77.83 L471.77,70.65 L474.34,69.93ZM464.68,84.78 L463.92,86.99 L461.95,79.8 L462.71,77.6ZM463.92,86.99 L464.06,89.09 L462.09,81.9 L461.95,79.8ZM481.85,89.29 L479.71,89.52 L477.74,82.33 L479.88,82.11ZM479.71,89.52 L477.14,90.23 L475.17,83.05 L477.74,82.33ZM468.08,97.18 L467.32,99.39 L465.35,92.2 L466.11,90ZM467.32,99.39 L467.46,101.49 L465.49,94.3 L465.35,92.2ZM485.25,101.69 L483.11,101.92 L481.14,94.73 L483.28,94.51ZM483.11,101.92 L480.54,102.63 L478.57,95.45 L481.14,94.73Z" fill="#a3a7da" stroke="#a3a7da" stroke-width="0.35" stroke-linejoin="round"/>
<path d="M473.85,52.94 L473.16,52.33 L471.19,45.15 L471.88,45.75ZM473.16,52.33 L471.65,52.09 L469.68,44.91 L471.19,45.15ZM477.25,65.34 L476.56,64.73 L474.59,57.55 L475.28,58.15ZM476.56,64.73 L475.05,64.49 L473.08,57.31 L474.59,57.55ZM480.65,77.74 L479.96,77.13 L477.99,69.95 L478.68,70.55ZM479.96,77.13 L478.45,76.89 L476.48,69.71 L477.99,69.95ZM484.05,90.14 L483.36,89.53 L481.39,82.35 L482.08,82.95ZM483.36,89.53 L481.85,89.29 L479.88,82.11 L481.39,82.35ZM487.45,102.54 L486.76,101.93 L484.79,94.75 L485.48,95.35ZM486.76,101.93 L485.25,101.69 L483.28,94.51 L484.79,94.75Z" fill="#9498c6" stroke="#9498c6" stroke-width="0.35" stroke-linejoin="round"/>
<path d="M463.54,40.63 L460.81,41.83 L458.22,43.46 L456.04,45.42 L454.48,47.58 L453.72,49.79 L453.86,51.89M461.57,33.45 L458.85,34.65 L456.26,36.28 L454.07,38.24 L452.51,40.4 L451.75,42.6 L451.89,44.7M473.85,52.94 L473.16,52.33 L471.65,52.09 L469.51,52.32 L466.94,53.03 L464.21,54.23 L461.62,55.86 L459.44,57.82 L457.88,59.98 L457.12,62.19 L457.26,64.29M471.88,45.75 L471.19,45.15 L469.68,44.91 L467.54,45.13 L464.97,45.85 L462.25,47.05 L459.66,48.68 L457.47,50.64 L455.91,52.8 L455.15,55 L455.29,57.1M477.25,65.34 L476.56,64.73 L475.05,64.49 L472.91,64.72 L470.34,65.43 L467.61,66.63 L465.02,68.26 L462.84,70.22 L461.28,72.38 L460.52,74.59 L460.66,76.69M475.28,58.15 L474.59,57.55 L473.08,57.31 L470.94,57.53 L468.37,58.25 L465.65,59.45 L463.06,61.08 L460.87,63.04 L459.31,65.2 L458.55,67.4 L458.69,69.5M480.65,77.74 L479.96,77.13 L478.45,76.89 L476.31,77.12 L473.74,77.83 L471.01,79.03 L468.42,80.66 L466.24,82.62 L464.68,84.78 L463.92,86.99 L464.06,89.09M478.68,70.55 L477.99,69.95 L476.48,69.71 L474.34,69.93 L471.77,70.65 L469.05,71.85 L466.46,73.48 L464.27,75.44 L462.71,77.6 L461.95,79.8 L462.09,81.9M484.05,90.14 L483.36,89.53 L481.85,89.29 L479.71,89.52 L477.14,90.23 L474.41,91.43 L471.82,93.06 L469.64,95.02 L468.08,97.18 L467.32,99.39 L467.46,101.49M482.08,82.95 L481.39,82.35 L479.88,82.11 L477.74,82.33 L475.17,83.05 L472.45,84.25 L469.86,85.88 L467.67,87.84 L466.11,90 L465.35,92.2 L465.49,94.3M487.45,102.54 L486.76,101.93 L485.25,101.69 L483.11,101.92 L480.54,102.63M485.48,95.35 L484.79,94.75 L483.28,94.51 L481.14,94.73 L478.57,95.45" fill="none" stroke="#666db0" stroke-width="0.4" stroke-opacity="0.7"/>
<path d="M455.6,161 C457.17,160.83 462.43,159.5 465,160 C467.57,160.5 469.5,161.07 471,164 C472.5,166.93 471.93,174.3 474,177.6 C476.07,180.9 481.83,182.77 483.4,183.8" fill="none" stroke="#666db0" stroke-width="2.3" stroke-linecap="round" stroke-linejoin="round"/><path d="M455.6,161 C457.17,160.83 462.43,159.5 465,160 C467.57,160.5 469.5,161.07 471,164 C472.5,166.93 471.93,174.3 474,177.6 C476.07,180.9 481.83,182.77 483.4,183.8" fill="none" stroke="#b4b8e6" stroke-width="1.4" stroke-linecap="round" stroke-linejoin="round"/>
<path d="M454.66,172.59 L457.49,171.25 L452.29,173.47 L449.46,174.82ZM463.26,160.29 L463.13,157.29 L457.93,159.51 L458.07,162.52ZM463.13,157.29 L462.5,154.68 L457.3,156.91 L457.93,159.51ZM462.5,154.68 L461.54,152.7 L456.34,154.92 L457.3,156.91ZM475.66,163.59 L478.49,162.25 L473.29,164.47 L470.46,165.82ZM484.26,151.29 L484.13,148.29 L478.93,150.51 L479.07,153.52ZM484.13,148.29 L483.5,145.68 L478.3,147.91 L478.93,150.51ZM483.5,145.68 L482.54,143.7 L477.34,145.92 L478.3,147.91Z" fill="#8589b2" stroke="#8589b2" stroke-width="0.35" stroke-linejoin="round"/>
<path d="M457.49,171.25 L459.86,169.16 L454.66,171.38 L452.29,173.47ZM459.86,169.16 L461.66,166.48 L456.46,168.71 L454.66,171.38ZM461.66,166.48 L462.79,163.44 L457.59,165.67 L456.46,168.71ZM462.79,163.44 L463.26,160.29 L458.07,162.52 L457.59,165.67ZM478.49,162.25 L480.86,160.16 L475.66,162.38 L473.29,164.47ZM480.86,160.16 L482.66,157.48 L477.46,159.71 L475.66,162.38ZM482.66,157.48 L483.79,154.44 L478.59,156.67 L477.46,159.71ZM483.79,154.44 L484.26,151.29 L479.07,153.52 L478.59,156.67Z" fill="#9498c6" stroke="#9498c6" stroke-width="0.35" stroke-linejoin="round"/>
<path d="M461.54,152.7 L460.45,151.47 L455.25,153.7 L456.34,154.92ZM460.45,151.47 L459.44,151.08 L454.24,153.31 L455.25,153.7ZM482.54,143.7 L481.45,142.47 L476.25,144.7 L477.34,145.92ZM481.45,142.47 L480.44,142.08 L475.24,144.31 L476.25,144.7Z" fill="#767a9e" stroke="#767a9e" stroke-width="0.35" stroke-linejoin="round"/>
<path d="M454.66,172.59 L457.49,171.25 L459.86,169.16 L461.66,166.48 L462.79,163.44 L463.26,160.29 L463.13,157.29 L462.5,154.68 L461.54,152.7 L460.45,151.47 L459.44,151.08M449.46,174.82 L452.29,173.47 L454.66,171.38 L456.46,168.71 L457.59,165.67 L458.07,162.52 L457.93,159.51 L457.3,156.91 L456.34,154.92 L455.25,153.7 L454.24,153.31M475.66,163.59 L478.49,162.25 L480.86,160.16 L482.66,157.48 L483.79,154.44 L484.26,151.29 L484.13,148.29 L483.5,145.68 L482.54,143.7 L481.45,142.47 L480.44,142.08M470.46,165.82 L473.29,164.47 L475.66,162.38 L477.46,159.71 L478.59,156.67 L479.07,153.52 L478.93,150.51 L478.3,147.91 L477.34,145.92 L476.25,144.7 L475.24,144.31" fill="none" stroke="#666db0" stroke-width="0.4" stroke-opacity="0.7"/>
<path d="M442.57,169.99 L445.3,171.69 L440.1,173.92 L437.37,172.21ZM459.44,151.08 L458.71,151.53 L453.51,153.75 L454.24,153.31ZM461.33,158.88 L463.57,160.99 L458.37,163.21 L456.14,161.11ZM463.57,160.99 L466.3,162.69 L461.1,164.92 L458.37,163.21ZM480.44,142.08 L479.71,142.53 L474.51,144.75 L475.24,144.31ZM482.33,149.88 L484.57,151.99 L479.37,154.21 L477.14,152.11Z" fill="#a3a7da" stroke="#a3a7da" stroke-width="0.35" stroke-linejoin="round"/>
<path d="M445.3,171.69 L448.36,172.78 L443.16,175 L440.1,173.92ZM448.36,172.78 L451.55,173.1 L446.35,175.33 L443.16,175ZM451.55,173.1 L454.66,172.59 L449.46,174.82 L446.35,175.33ZM466.3,162.69 L469.36,163.78 L464.16,166 L461.1,164.92ZM469.36,163.78 L472.55,164.1 L467.35,166.33 L464.16,166ZM472.55,164.1 L475.66,163.59 L470.46,165.82 L467.35,166.33Z" fill="#9498c6" stroke="#9498c6" stroke-width="0.35" stroke-linejoin="round"/>
<path d="M458.71,151.53 L458.44,152.72 L453.24,154.94 L453.51,153.75ZM458.44,152.72 L458.74,154.49 L453.54,156.72 L453.24,154.94ZM458.74,154.49 L459.71,156.63 L454.51,158.86 L453.54,156.72ZM459.71,156.63 L461.33,158.88 L456.14,161.11 L454.51,158.86ZM479.71,142.53 L479.44,143.72 L474.24,145.94 L474.51,144.75ZM479.44,143.72 L479.74,145.49 L474.54,147.72 L474.24,145.94ZM479.74,145.49 L480.71,147.63 L475.51,149.86 L474.54,147.72ZM480.71,147.63 L482.33,149.88 L477.14,152.11 L475.51,149.86Z" fill="#b2b7ee" stroke="#b2b7ee" stroke-width="0.35" stroke-linejoin="round"/>
<path d="M442.57,169.99 L445.3,171.69 L448.36,172.78 L451.55,173.1 L454.66,172.59M437.37,172.21 L440.1,173.92 L443.16,175 L446.35,175.33 L449.46,174.82M459.44,151.08 L458.71,151.53 L458.44,152.72 L458.74,154.49 L459.71,156.63 L461.33,158.88 L463.57,160.99 L466.3,162.69 L469.36,163.78 L472.55,164.1 L475.66,163.59M454.24,153.31 L453.51,153.75 L453.24,154.94 L453.54,156.72 L454.51,158.86 L456.14,161.11 L458.37,163.21 L461.1,164.92 L464.16,166 L467.35,166.33 L470.46,165.82M480.44,142.08 L479.71,142.53 L479.44,143.72 L479.74,145.49 L480.71,147.63 L482.33,149.88 L484.57,151.99M475.24,144.31 L474.51,144.75 L474.24,145.94 L474.54,147.72 L475.51,149.86 L477.14,152.11 L479.37,154.21" fill="none" stroke="#666db0" stroke-width="0.4" stroke-opacity="0.7"/>
<line x1="617" y1="35" x2="593.5" y2="70.5" stroke="#e8202a" stroke-width="1"/>
<path d="M590.3,74.8 L591.2,67.4 L596.2,70.9 Z" fill="#e8202a"/>
<text x="393.5" y="46.1" class="t" style="fill:#9a1ee6;stroke:#9a1ee6">RPEL motif</text>
<text x="385.2" y="97.3" class="t" style="fill:#808080;stroke:#808080">Actin</text>
<text x="641.8" y="19.3" class="t" text-anchor="middle" style="fill:#e8202a;stroke:#e8202a">Steric clash</text>
<text x="641" y="31.4" class="t" text-anchor="middle" style="fill:#e8202a;stroke:#e8202a">(23.5%)</text>
<text x="654.6" y="184.1" class="t" style="fill:#2a7a2a;stroke:#2a7a2a">Rac1</text>
<text x="472.5" y="267.6" class="t" style="fill:#9a1ee6;stroke:#9a1ee6">GAP domain</text>
<text x="454.6" y="359.7" text-anchor="end" class="t">FLAG–ArhGAP12</text>
<text x="454.6" y="377" text-anchor="end" class="t">Myc–Rac G12V</text>
<text x="470.8" y="359.6" text-anchor="middle" class="t">–</text>
<text x="493.5" y="359.6" text-anchor="middle" class="t">–</text>
<text x="470.8" y="376.8" text-anchor="middle" class="t">–</text>
<text x="493.5" y="376.9" text-anchor="middle" class="t">+</text>
<text x="516.2" y="376.9" text-anchor="middle" class="t">+</text>
<text x="538.8" y="376.9" text-anchor="middle" class="t">+</text>
<text x="561.4" y="376.9" text-anchor="middle" class="t">+</text>
<text x="584.1" y="376.9" text-anchor="middle" class="t">+</text>
<text x="606.7" y="376.9" text-anchor="middle" class="t">+</text>
<text x="629.4" y="376.9" text-anchor="middle" class="t">+</text>
<text transform="translate(516.8,360.2) rotate(-45)" class="t">WT</text>
<text transform="translate(539.4,360.2) rotate(-45)" class="t">R582A</text>
<text transform="translate(562,360.2) rotate(-45)" class="t">L575A L579A</text>
<text transform="translate(584.7,360.2) rotate(-45)" class="t">R637A</text>
<text transform="translate(607.3,360.2) rotate(-45)" class="t">R637E</text>
<text transform="translate(630,360.2) rotate(-45)" class="t">F650A</text>
<rect x="457.6" y="381.4" width="185.2" height="22.8" fill="#f1f1f1" stroke="#8a8a8a" stroke-width="1"/>
<rect x="457.6" y="423.5" width="185.2" height="22.8" fill="#f7f7f7" stroke="#8a8a8a" stroke-width="1"/>
<rect x="457.6" y="462.3" width="185.2" height="23.1" fill="#fbfbfb" stroke="#8a8a8a" stroke-width="1"/>
<rect x="457.6" y="491.4" width="185.2" height="22.4" fill="#f9f9f9" stroke="#8a8a8a" stroke-width="1"/>
<rect x="457.6" y="520.8" width="185.2" height="22.7" fill="#f9f9f9" stroke="#8a8a8a" stroke-width="1"/>
<g filter="url(#b05)">
<rect x="507.1" y="391.15" width="13" height="1.5" rx="0.75" fill="#0a0a0a" opacity="0.6"/>
<rect x="529.1" y="390.65" width="14" height="1.9" rx="0.95" fill="#0a0a0a" opacity="0.85"/>
<rect x="550.9" y="390.75" width="16" height="2.1" rx="1.05" fill="#0a0a0a" opacity="0.9"/>
<rect x="574.9" y="390.8" width="15" height="1.6" rx="0.8" fill="#0a0a0a" opacity="0.7"/>
<rect x="598.9" y="390.9" width="14" height="1.4" rx="0.7" fill="#0a0a0a" opacity="0.6"/>
<rect x="621.4" y="389.75" width="16" height="2.3" rx="1.15" fill="#0a0a0a" opacity="0.95"/>
<path d="M551,390.5 l3,0.5 M563,393 l2,0.6" stroke="#111" stroke-width="1"/>
</g>
<g filter="url(#b15)">
<rect x="477.6" y="435.55" width="20" height="6.5" rx="3" fill="#333" opacity="0.45"/>
<rect x="500.9" y="435.55" width="20" height="6.5" rx="3" fill="#333" opacity="0.45"/>
<rect x="525.6" y="435.55" width="20" height="6.5" rx="3" fill="#333" opacity="0.45"/>
<rect x="548.5" y="435.55" width="20" height="6.5" rx="3" fill="#333" opacity="0.45"/>
<rect x="571.9" y="435.55" width="20" height="6.5" rx="3" fill="#333" opacity="0.45"/>
<rect x="597" y="435.55" width="20" height="6.5" rx="3" fill="#333" opacity="0.45"/>
<rect x="620.8" y="435.55" width="20" height="6.5" rx="3" fill="#333" opacity="0.45"/>
</g><g filter="url(#b10)">
<rect x="477.85" y="431.3" width="19.5" height="6.6" rx="3" fill="#0a0a0a" opacity="1"/>
<rect x="501.15" y="431.3" width="19.5" height="6.6" rx="3" fill="#0a0a0a" opacity="1"/>
<rect x="525.85" y="431.3" width="19.5" height="6.6" rx="3" fill="#0a0a0a" opacity="1"/>
<rect x="548.75" y="431.3" width="19.5" height="6.6" rx="3" fill="#0a0a0a" opacity="1"/>
<rect x="572.15" y="431.3" width="19.5" height="6.6" rx="3" fill="#0a0a0a" opacity="1"/>
<rect x="597.25" y="431.3" width="19.5" height="6.6" rx="3" fill="#0a0a0a" opacity="1"/>
<rect x="621.05" y="431.3" width="19.5" height="6.6" rx="3" fill="#0a0a0a" opacity="1"/>
</g>
<g filter="url(#b05)">
<rect x="506.75" y="472.6" width="14.5" height="3.2" rx="1.6" fill="#0a0a0a" opacity="1"/>
<rect x="530.25" y="472.75" width="14.5" height="2.2" rx="1.1" fill="#0a0a0a" opacity="0.8"/>
<rect x="553.25" y="472.3" width="14.5" height="2.4" rx="1.2" fill="#0a0a0a" opacity="0.85"/>
<rect x="576.25" y="471.8" width="14.5" height="2.7" rx="1.35" fill="#0a0a0a" opacity="0.92"/>
<rect x="598.25" y="471.35" width="14.5" height="2.9" rx="1.45" fill="#0a0a0a" opacity="0.95"/>
<rect x="621.75" y="471.2" width="14.5" height="2.5" rx="1.25" fill="#0a0a0a" opacity="0.85"/>
</g>
<g filter="url(#b08)">
<rect x="483.75" y="499.8" width="15.5" height="4.8" rx="2.4" fill="#0a0a0a" opacity="0.9"/>
<rect x="505.4" y="498.6" width="17" height="7" rx="3" fill="#0a0a0a" opacity="1"/>
<rect x="528.4" y="500.5" width="16" height="4.6" rx="2.3" fill="#0a0a0a" opacity="0.85"/>
<rect x="553.9" y="500.5" width="15" height="4.6" rx="2.3" fill="#0a0a0a" opacity="1"/>
<rect x="575.05" y="500" width="16.5" height="5" rx="2.5" fill="#0a0a0a" opacity="1"/>
<rect x="599.2" y="500.3" width="17" height="5.4" rx="2.7" fill="#0a0a0a" opacity="1"/>
<rect x="623.1" y="499.3" width="16" height="4.8" rx="2.4" fill="#0a0a0a" opacity="1"/>
</g>
<g filter="url(#b08)">
<rect x="460.25" y="530.1" width="16.5" height="6.4" rx="3" fill="#0a0a0a" opacity="1"/>
<rect x="483.25" y="529.9" width="16.5" height="6.4" rx="3" fill="#0a0a0a" opacity="1"/>
<rect x="505.95" y="529.6" width="16.5" height="6.4" rx="3" fill="#0a0a0a" opacity="1"/>
<rect x="529.65" y="530.1" width="16.5" height="6.4" rx="3" fill="#0a0a0a" opacity="1"/>
<rect x="553.45" y="530.1" width="16.5" height="6.4" rx="3" fill="#0a0a0a" opacity="1"/>
<rect x="576.95" y="530" width="16.5" height="6.4" rx="3" fill="#0a0a0a" opacity="1"/>
<rect x="600.45" y="530.9" width="16.5" height="6.4" rx="3" fill="#0a0a0a" opacity="1"/>
<rect x="623.25" y="529.8" width="16.5" height="6.4" rx="3" fill="#0a0a0a" opacity="1"/>
</g>
<text x="431.2" y="404.6" text-anchor="end" class="t" style="fill:#1a1aff;stroke:#1a1aff">Relative</text>
<text x="431.2" y="416.9" text-anchor="end" class="t" style="fill:#1a1aff;stroke:#1a1aff">ArhGAP12</text>
<text x="431.2" y="429.3" text-anchor="end" class="t" style="fill:#1a1aff;stroke:#1a1aff">recovery</text>
<text x="467.8" y="417.2" text-anchor="middle" class="t" style="fill:#1a1aff;stroke:#1a1aff">0</text>
<text x="487.7" y="417.2" text-anchor="middle" class="t" style="fill:#1a1aff;stroke:#1a1aff">0</text>
<text x="511.4" y="417.2" text-anchor="middle" class="t" style="fill:#1a1aff;stroke:#1a1aff">1.0</text>
<text x="535.3" y="417.2" text-anchor="middle" class="t" style="fill:#1a1aff;stroke:#1a1aff">3.0</text>
<text x="558.9" y="417.2" text-anchor="middle" class="t" style="fill:#1a1aff;stroke:#1a1aff">3.3</text>
<text x="581.7" y="417.2" text-anchor="middle" class="t" style="fill:#1a1aff;stroke:#1a1aff">1.4</text>
<text x="607.3" y="417.2" text-anchor="middle" class="t" style="fill:#1a1aff;stroke:#1a1aff">0.9</text>
<text x="630.9" y="417.2" text-anchor="middle" class="t" style="fill:#1a1aff;stroke:#1a1aff">3.0</text>
<text x="452.3" y="396.7" text-anchor="end" class="t">FLAG</text>
<text x="452.3" y="438.6" text-anchor="end" class="t">Myc</text>
<text x="452.3" y="477.3" text-anchor="end" class="t">FLAG</text>
<text x="452.3" y="506.4" text-anchor="end" class="t">Myc</text>
<text x="452.3" y="536.3" text-anchor="end" class="t"><tspan style="font-family:Liberation Serif,serif;font-size:11px">α</tspan>-Tubulin</text>
<line x1="643.2" y1="385.8" x2="645.6" y2="385.8" stroke="#777" stroke-width="0.8"/>
<text x="650.3" y="389.4" class="t">100</text>
<line x1="643.2" y1="425.2" x2="645.6" y2="425.2" stroke="#777" stroke-width="0.8"/>
<text x="650.3" y="428.8" class="t">30</text>
<line x1="643.2" y1="444.6" x2="645.6" y2="444.6" stroke="#777" stroke-width="0.8"/>
<text x="650.3" y="448.2" class="t">15</text>
<line x1="643.2" y1="467.5" x2="645.6" y2="467.5" stroke="#777" stroke-width="0.8"/>
<text x="650.3" y="471.1" class="t">100</text>
<line x1="643.2" y1="492.8" x2="645.6" y2="492.8" stroke="#777" stroke-width="0.8"/>
<text x="650.3" y="496.4" class="t">30</text>
<line x1="643.2" y1="510.8" x2="645.6" y2="510.8" stroke="#777" stroke-width="0.8"/>
<text x="650.3" y="514.4" class="t">15</text>
<line x1="643.2" y1="532.6" x2="645.6" y2="532.6" stroke="#777" stroke-width="0.8"/>
<text x="650.3" y="536.2" class="t">50</text>
<line x1="671.8" y1="381.9" x2="671.8" y2="445" stroke="#222" stroke-width="1.1"/>
<line x1="672.3" y1="463" x2="672.3" y2="544.4" stroke="#222" stroke-width="1.1"/>
<text transform="translate(676.4,368.7) rotate(90)" class="t">GST–PAK pulldown</text>
<text transform="translate(676.4,492.8) rotate(90)" class="t">Input</text>
</svg>
</body></html>
